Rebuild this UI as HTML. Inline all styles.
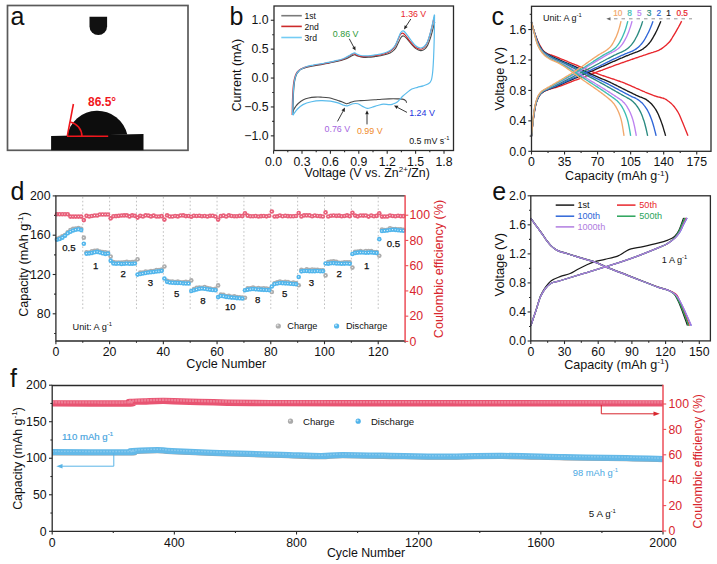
<!DOCTYPE html>
<html><head><meta charset="utf-8"><style>
html,body{margin:0;padding:0;background:#fff;width:717px;height:564px;overflow:hidden}
svg{display:block}
text{font-family:"Liberation Sans",sans-serif}
</style></head><body>
<svg fill="#111" width="717" height="564" viewBox="0 0 717 564">
<rect x="7.5" y="5.5" width="180.5" height="144.8" fill="#fff" stroke="#5a5a5a" stroke-width="1.7"/>
<text x="10.5" y="24.6" font-size="25">a</text>
<path d="M89.5,16.7 H107.1 V26.3 A8.8,8.8 0 0 1 89.5,26.3 Z" fill="#111"/>
<path d="M51.1,136.1 L143.5,134.1 L143.5,150.2 L51.1,150.2 Z" fill="#0d0d0d"/>
<path d="M67.1,136.2 A30.7,30.7 0 0 1 127.3,134.6 Z" fill="#0d0d0d"/>
<line x1="67.3" y1="136.2" x2="73.4" y2="104" stroke="#f0161c" stroke-width="1.6"/>
<line x1="67" y1="136.3" x2="108.2" y2="136.3" stroke="#f0161c" stroke-width="1.6"/>
<path d="M81.9,136.3 A14.6,14.6 0 0 0 70.2,122.0" fill="none" stroke="#f0161c" stroke-width="1.6"/>
<text x="88" y="106.1" font-size="12" fill="#f0161c" font-weight="bold">86.5°</text>
<text x="229.5" y="24.8" font-size="25">b</text>
<line x1="273.6" y1="150.5" x2="273.6" y2="153.7" stroke="#2a2a2a" stroke-width="1.1"/>
<line x1="302" y1="150.5" x2="302" y2="153.7" stroke="#2a2a2a" stroke-width="1.1"/>
<line x1="330.4" y1="150.5" x2="330.4" y2="153.7" stroke="#2a2a2a" stroke-width="1.1"/>
<line x1="358.8" y1="150.5" x2="358.8" y2="153.7" stroke="#2a2a2a" stroke-width="1.1"/>
<line x1="387.2" y1="150.5" x2="387.2" y2="153.7" stroke="#2a2a2a" stroke-width="1.1"/>
<line x1="415.61" y1="150.5" x2="415.61" y2="153.7" stroke="#2a2a2a" stroke-width="1.1"/>
<line x1="444.01" y1="150.5" x2="444.01" y2="153.7" stroke="#2a2a2a" stroke-width="1.1"/>
<line x1="287.8" y1="150.5" x2="287.8" y2="152.3" stroke="#2a2a2a" stroke-width="1.1"/>
<line x1="316.2" y1="150.5" x2="316.2" y2="152.3" stroke="#2a2a2a" stroke-width="1.1"/>
<line x1="344.6" y1="150.5" x2="344.6" y2="152.3" stroke="#2a2a2a" stroke-width="1.1"/>
<line x1="373" y1="150.5" x2="373" y2="152.3" stroke="#2a2a2a" stroke-width="1.1"/>
<line x1="401.4" y1="150.5" x2="401.4" y2="152.3" stroke="#2a2a2a" stroke-width="1.1"/>
<line x1="429.81" y1="150.5" x2="429.81" y2="152.3" stroke="#2a2a2a" stroke-width="1.1"/>
<line x1="274" y1="135.85" x2="270.8" y2="135.85" stroke="#2a2a2a" stroke-width="1.1"/>
<line x1="274" y1="106.95" x2="270.8" y2="106.95" stroke="#2a2a2a" stroke-width="1.1"/>
<line x1="274" y1="78.05" x2="270.8" y2="78.05" stroke="#2a2a2a" stroke-width="1.1"/>
<line x1="274" y1="49.15" x2="270.8" y2="49.15" stroke="#2a2a2a" stroke-width="1.1"/>
<line x1="274" y1="20.25" x2="270.8" y2="20.25" stroke="#2a2a2a" stroke-width="1.1"/>
<line x1="274" y1="121.4" x2="272.2" y2="121.4" stroke="#2a2a2a" stroke-width="1.1"/>
<line x1="274" y1="92.5" x2="272.2" y2="92.5" stroke="#2a2a2a" stroke-width="1.1"/>
<line x1="274" y1="63.6" x2="272.2" y2="63.6" stroke="#2a2a2a" stroke-width="1.1"/>
<line x1="274" y1="34.7" x2="272.2" y2="34.7" stroke="#2a2a2a" stroke-width="1.1"/>
<text x="273.6" y="165.8" font-size="12.3" text-anchor="middle">0.0</text>
<text x="302" y="165.8" font-size="12.3" text-anchor="middle">0.3</text>
<text x="330.4" y="165.8" font-size="12.3" text-anchor="middle">0.6</text>
<text x="358.8" y="165.8" font-size="12.3" text-anchor="middle">0.9</text>
<text x="387.2" y="165.8" font-size="12.3" text-anchor="middle">1.2</text>
<text x="415.61" y="165.8" font-size="12.3" text-anchor="middle">1.5</text>
<text x="444.01" y="165.8" font-size="12.3" text-anchor="middle">1.8</text>
<text x="268.5" y="140.05" font-size="12.3" text-anchor="end">−1.0</text>
<text x="268.5" y="111.15" font-size="12.3" text-anchor="end">−0.5</text>
<text x="268.5" y="82.25" font-size="12.3" text-anchor="end">0.0</text>
<text x="268.5" y="53.35" font-size="12.3" text-anchor="end">0.5</text>
<text x="268.5" y="24.45" font-size="12.3" text-anchor="end">1.0</text>
<g transform="translate(240.8 75.2) rotate(-90) scale(1.05 1)"><text x="0" y="0" font-size="12" text-anchor="middle" fill="#111">Current (mA)</text></g>
<g transform="translate(367.2 177.1) scale(1.03 1)"><text x="0" y="0" font-size="12" text-anchor="middle" fill="#111">Voltage (V vs. Zn<tspan font-size="7.8" dy="-5">2+</tspan><tspan dy="5">/Zn)</tspan></text></g>
<path d="M406.61,102.73 C406.45,102.37 406.37,101.19 405.66,100.59 C404.95,99.99 403.76,99.44 402.35,99.15 C400.95,98.86 399.45,98.91 397.24,98.86 C395.03,98.81 391.7,98.8 389.1,98.86 C386.49,98.92 383.99,99.05 381.62,99.2 C379.25,99.36 377.18,99.6 374.9,99.78 C372.61,99.97 370.26,100.17 367.89,100.3 C365.52,100.44 362.98,100.45 360.7,100.59 C358.41,100.74 356.06,100.78 354.16,101.17 C352.27,101.56 350.63,102.48 349.34,102.9 C348.04,103.33 347.66,103.91 346.4,103.71 C345.14,103.52 343.06,102.25 341.76,101.75 C340.47,101.25 340.8,101.36 338.64,100.71 C336.48,100.05 331.74,98.41 328.79,97.82 C325.84,97.22 323.19,97.24 320.94,97.12 C318.68,97.01 317.31,96.98 315.25,97.12 C313.2,97.27 310.6,97.56 308.63,97.99 C306.66,98.42 305.16,98.81 303.42,99.72 C301.69,100.64 299.52,102.33 298.21,103.48 C296.9,104.64 296.38,105.48 295.56,106.66 C294.74,107.84 293.75,109.55 293.29,110.56 C292.83,111.57 292.9,112.37 292.82,112.73" fill="none" stroke="#4a4a4a" stroke-width="1.1"/>
<path d="M292.88,115.04 C292.92,113.21 293.02,107.34 293.1,104.06 C293.19,100.78 293.26,98.09 293.39,95.39 C293.51,92.69 293.67,90.13 293.86,87.88 C294.05,85.62 294.22,83.7 294.52,81.86 C294.82,80.03 295.25,78.28 295.66,76.89 C296.07,75.51 296.43,74.52 296.98,73.54 C297.54,72.56 298.28,71.7 298.97,71 C299.67,70.3 299.81,69.94 301.15,69.32 C302.49,68.71 304.94,67.88 307.02,67.3 C309.1,66.72 311.14,66.34 313.65,65.85 C316.15,65.37 319.55,64.84 322.07,64.41 C324.6,63.98 326.57,63.71 328.79,63.25 C331.02,62.8 333.37,62.15 335.42,61.69 C337.47,61.24 339.41,60.97 341.1,60.53 C342.79,60.08 344.13,59.61 345.55,59.03 C346.97,58.45 348.47,57.63 349.62,57.05 C350.77,56.47 351.59,55.93 352.46,55.55 C353.33,55.18 353.96,54.73 354.83,54.81 C355.69,54.89 356.64,55.68 357.67,56.05 C358.69,56.42 359.92,56.82 360.98,57.05 C362.04,57.27 362.75,57.35 364.01,57.39 C365.27,57.43 366.69,57.43 368.55,57.29 C370.42,57.15 373.16,56.8 375.18,56.55 C377.2,56.3 378.62,56.22 380.67,55.8 C382.72,55.39 385.56,54.77 387.49,54.06 C389.41,53.36 390.83,52.61 392.22,51.58 C393.61,50.54 394.71,49.51 395.82,47.85 C396.92,46.19 397.95,43.42 398.85,41.64 C399.75,39.85 400.43,38.12 401.22,37.16 C402,36.21 402.71,35.75 403.58,35.92 C404.45,36.09 405.16,36.83 406.42,38.16 C407.68,39.48 409.58,42.13 411.16,43.87 C412.73,45.61 414.31,47.48 415.89,48.6 C417.47,49.71 419.2,50.46 420.62,50.58 C422.04,50.71 423.23,50.25 424.41,49.34 C425.59,48.43 426.7,47.06 427.72,45.12 C428.75,43.17 429.7,40.31 430.56,37.66 C431.43,35.01 432.3,31.61 432.93,29.21 C433.56,26.81 434.03,24.49 434.35,23.24 C434.67,22 434.74,22 434.82,21.75" fill="none" stroke="#4a4a4a" stroke-width="1.1"/>
<path d="M292.13,115.04 C292.16,113.21 292.26,107.34 292.34,104.06 C292.43,100.78 292.5,98.09 292.63,95.39 C292.75,92.69 292.91,90.13 293.1,87.88 C293.29,85.62 293.46,83.7 293.76,81.86 C294.06,80.03 294.49,78.28 294.9,76.89 C295.31,75.51 295.67,74.52 296.23,73.54 C296.78,72.56 297.52,71.7 298.21,71 C298.91,70.3 299.05,70.01 300.39,69.32 C301.73,68.64 304.18,67.54 306.26,66.89 C308.34,66.25 310.38,65.93 312.89,65.45 C315.4,64.97 318.79,64.44 321.31,64 C323.84,63.57 325.81,63.3 328.04,62.85 C330.26,62.4 332.61,61.76 334.66,61.29 C336.71,60.82 338.65,60.51 340.34,60.03 C342.03,59.55 343.37,59.03 344.79,58.4 C346.21,57.76 347.71,56.86 348.86,56.22 C350.01,55.59 350.83,55 351.7,54.59 C352.57,54.19 353.2,53.69 354.07,53.78 C354.94,53.87 355.88,54.73 356.91,55.14 C357.94,55.55 359.17,55.98 360.22,56.22 C361.28,56.47 361.99,56.56 363.25,56.61 C364.51,56.65 365.93,56.65 367.8,56.5 C369.66,56.34 372.4,55.95 374.42,55.68 C376.44,55.41 377.86,55.32 379.91,54.87 C381.97,54.41 384.81,53.73 386.73,52.96 C388.66,52.2 390.08,51.38 391.46,50.25 C392.85,49.12 393.96,47.98 395.06,46.17 C396.17,44.36 397.19,41.33 398.09,39.38 C398.99,37.43 399.67,35.53 400.46,34.49 C401.25,33.45 401.96,32.95 402.82,33.13 C403.69,33.31 404.4,34.13 405.66,35.58 C406.93,37.03 408.82,39.93 410.4,41.83 C411.98,43.73 413.55,45.77 415.13,46.99 C416.71,48.21 418.45,49.03 419.87,49.16 C421.29,49.3 422.47,48.8 423.65,47.8 C424.84,46.81 425.94,45.31 426.97,43.19 C427.99,41.06 428.94,37.93 429.81,35.04 C430.67,32.14 431.54,28.42 432.17,25.8 C432.8,23.17 433.28,20.64 433.59,19.28 C433.91,17.92 433.99,17.92 434.07,17.65" fill="none" stroke="#d0262c" stroke-width="1.1"/>
<path d="M292.6,115.04 C292.64,113.21 292.73,107.34 292.82,104.06 C292.9,100.78 292.98,98.09 293.1,95.39 C293.23,92.69 293.39,90.13 293.58,87.88 C293.76,85.62 293.94,83.7 294.24,81.86 C294.54,80.03 294.96,78.28 295.37,76.89 C295.78,75.51 296.15,74.52 296.7,73.54 C297.25,72.56 297.99,71.7 298.69,71 C299.38,70.3 299.52,70.07 300.86,69.32 C302.21,68.57 304.65,67.2 306.73,66.49 C308.82,65.78 310.85,65.53 313.36,65.05 C315.87,64.56 319.26,64.03 321.79,63.6 C324.31,63.17 326.28,62.9 328.51,62.44 C330.73,61.99 333.08,61.37 335.14,60.88 C337.19,60.4 339.13,60.06 340.82,59.55 C342.5,59.04 343.85,58.49 345.27,57.82 C346.69,57.15 348.18,56.18 349.34,55.51 C350.49,54.83 351.31,54.21 352.18,53.77 C353.04,53.34 353.68,52.81 354.54,52.91 C355.41,53 356.36,53.92 357.38,54.35 C358.41,54.79 359.64,55.25 360.7,55.51 C361.75,55.77 362.46,55.86 363.73,55.91 C364.99,55.96 366.41,55.96 368.27,55.8 C370.13,55.63 372.88,55.22 374.9,54.93 C376.92,54.64 378.34,54.54 380.39,54.06 C382.44,53.58 385.28,52.86 387.2,52.04 C389.13,51.22 390.55,50.35 391.94,49.15 C393.33,47.95 394.43,46.74 395.53,44.82 C396.64,42.89 397.67,39.66 398.56,37.59 C399.46,35.52 400.14,33.5 400.93,32.39 C401.72,31.28 402.43,30.75 403.3,30.94 C404.17,31.14 404.88,32 406.14,33.54 C407.4,35.09 409.29,38.17 410.87,40.19 C412.45,42.21 414.03,44.38 415.61,45.68 C417.18,46.98 418.92,47.85 420.34,47.99 C421.76,48.14 422.94,47.61 424.13,46.55 C425.31,45.49 426.41,43.9 427.44,41.64 C428.46,39.37 429.41,36.05 430.28,32.97 C431.15,29.88 432.01,25.93 432.65,23.14 C433.28,20.35 433.75,17.65 434.07,16.2 C434.38,14.76 434.46,14.76 434.54,14.47" fill="none" stroke="#5bbcec" stroke-width="1.2"/>
<path d="M434.54,15.05 C434.49,18.8 434.41,30.46 434.25,37.59 C434.1,44.72 433.86,52.04 433.59,57.82 C433.32,63.6 433.04,68.51 432.65,72.27 C432.25,76.03 431.94,78.44 431.23,80.36 C430.52,82.29 429.73,82.91 428.39,83.83 C427.04,84.75 424.99,85.27 423.18,85.85 C421.36,86.43 419.39,86.77 417.5,87.3 C415.61,87.83 413.55,88.16 411.82,89.03 C410.08,89.9 408.66,91.25 407.08,92.5 C405.51,93.75 403.93,95 402.35,96.55 C400.77,98.09 399.2,100.5 397.62,101.75 C396.04,103 394.3,103.58 392.88,104.06 C391.46,104.54 390.68,104.64 389.1,104.64 C387.52,104.64 385.31,103.92 383.42,104.06 C381.52,104.2 379.63,104.98 377.74,105.5 C375.84,106.03 373.79,106.76 372.06,107.24 C370.32,107.72 368.9,108.54 367.32,108.39 C365.75,108.25 364.17,107.14 362.59,106.37 C361.01,105.6 359.43,104.2 357.86,103.77 C356.28,103.34 354.86,103.43 353.12,103.77 C351.39,104.11 349.02,105.55 347.44,105.79 C345.86,106.03 345.23,105.7 343.66,105.22 C342.08,104.73 340.18,103.58 337.98,102.9 C335.77,102.23 333.24,101.56 330.4,101.17 C327.56,100.78 324.09,100.5 320.94,100.59 C317.78,100.69 314.47,101.07 311.47,101.75 C308.47,102.42 305.31,103.39 302.95,104.64 C300.58,105.89 298.96,107.47 297.27,109.26 C295.58,111.05 293.56,114.37 292.82,115.39" fill="none" stroke="#5bbcec" stroke-width="1.2"/>
<rect x="274" y="6" width="179.5" height="144.5" fill="none" stroke="#2a2a2a" stroke-width="1.3"/>
<line x1="281.3" y1="15.7" x2="301.8" y2="15.7" stroke="#7a7a7a" stroke-width="1.6"/>
<line x1="281.3" y1="26.4" x2="301.8" y2="26.4" stroke="#cc2a2a" stroke-width="1.6"/>
<line x1="281.3" y1="37.5" x2="301.8" y2="37.5" stroke="#74ccf4" stroke-width="1.6"/>
<text x="304.5" y="18.9" font-size="8.6">1st</text>
<text x="304.5" y="29.9" font-size="8.6">2nd</text>
<text x="304.5" y="40.9" font-size="8.6">3rd</text>
<text x="400.8" y="16.5" font-size="8.8" fill="#e8262c">1.36 V</text>
<line x1="410.8" y1="19" x2="406.17" y2="26.14" stroke="#222" stroke-width="0.9"/>
<path d="M404,29.5 L404.66,25.16 L407.69,27.12 Z" fill="#222"/>
<text x="332.8" y="37.2" font-size="8.9" fill="#2f9a3a">0.86 V</text>
<line x1="349.3" y1="38.8" x2="353.72" y2="47.07" stroke="#222" stroke-width="0.9"/>
<path d="M355.6,50.6 L352.13,47.92 L355.3,46.22 Z" fill="#222"/>
<text x="324.5" y="131.8" font-size="8.9" fill="#a566e0">0.76 V</text>
<line x1="337.5" y1="121.4" x2="343.09" y2="111.11" stroke="#222" stroke-width="0.9"/>
<path d="M345,107.6 L344.67,111.97 L341.51,110.25 Z" fill="#222"/>
<text x="356.9" y="134.2" font-size="8.9" fill="#f08a2a">0.99 V</text>
<line x1="367" y1="124.4" x2="367" y2="114.2" stroke="#222" stroke-width="0.9"/>
<path d="M367,110.2 L368.8,114.2 L365.2,114.2 Z" fill="#222"/>
<text x="409.2" y="116" font-size="8.9" fill="#2233dd">1.24 V</text>
<line x1="407" y1="112.4" x2="397.54" y2="107.45" stroke="#222" stroke-width="0.9"/>
<path d="M394,105.6 L398.38,105.86 L396.71,109.05 Z" fill="#222"/>
<text x="409.2" y="143.9" font-size="8.9" fill="#111">0.5 mV s<tspan font-size="5.8" dy="-3.6">-1</tspan></text>
<text x="491.5" y="25.3" font-size="25">c</text>
<line x1="531.5" y1="151.3" x2="531.5" y2="154.5" stroke="#2a2a2a" stroke-width="1.1"/>
<line x1="564.55" y1="151.3" x2="564.55" y2="154.5" stroke="#2a2a2a" stroke-width="1.1"/>
<line x1="597.6" y1="151.3" x2="597.6" y2="154.5" stroke="#2a2a2a" stroke-width="1.1"/>
<line x1="630.65" y1="151.3" x2="630.65" y2="154.5" stroke="#2a2a2a" stroke-width="1.1"/>
<line x1="663.7" y1="151.3" x2="663.7" y2="154.5" stroke="#2a2a2a" stroke-width="1.1"/>
<line x1="696.75" y1="151.3" x2="696.75" y2="154.5" stroke="#2a2a2a" stroke-width="1.1"/>
<line x1="548.03" y1="151.3" x2="548.03" y2="153.1" stroke="#2a2a2a" stroke-width="1.1"/>
<line x1="581.08" y1="151.3" x2="581.08" y2="153.1" stroke="#2a2a2a" stroke-width="1.1"/>
<line x1="614.13" y1="151.3" x2="614.13" y2="153.1" stroke="#2a2a2a" stroke-width="1.1"/>
<line x1="647.18" y1="151.3" x2="647.18" y2="153.1" stroke="#2a2a2a" stroke-width="1.1"/>
<line x1="680.23" y1="151.3" x2="680.23" y2="153.1" stroke="#2a2a2a" stroke-width="1.1"/>
<line x1="531.5" y1="151.3" x2="528.3" y2="151.3" stroke="#2a2a2a" stroke-width="1.1"/>
<line x1="531.5" y1="120.86" x2="528.3" y2="120.86" stroke="#2a2a2a" stroke-width="1.1"/>
<line x1="531.5" y1="90.42" x2="528.3" y2="90.42" stroke="#2a2a2a" stroke-width="1.1"/>
<line x1="531.5" y1="59.98" x2="528.3" y2="59.98" stroke="#2a2a2a" stroke-width="1.1"/>
<line x1="531.5" y1="29.54" x2="528.3" y2="29.54" stroke="#2a2a2a" stroke-width="1.1"/>
<line x1="531.5" y1="136.08" x2="529.7" y2="136.08" stroke="#2a2a2a" stroke-width="1.1"/>
<line x1="531.5" y1="105.64" x2="529.7" y2="105.64" stroke="#2a2a2a" stroke-width="1.1"/>
<line x1="531.5" y1="75.2" x2="529.7" y2="75.2" stroke="#2a2a2a" stroke-width="1.1"/>
<line x1="531.5" y1="44.76" x2="529.7" y2="44.76" stroke="#2a2a2a" stroke-width="1.1"/>
<line x1="531.5" y1="14.32" x2="529.7" y2="14.32" stroke="#2a2a2a" stroke-width="1.1"/>
<text x="531.5" y="166" font-size="12.3" text-anchor="middle">0</text>
<text x="564.55" y="166" font-size="12.3" text-anchor="middle">35</text>
<text x="597.6" y="166" font-size="12.3" text-anchor="middle">70</text>
<text x="630.65" y="166" font-size="12.3" text-anchor="middle">105</text>
<text x="663.7" y="166" font-size="12.3" text-anchor="middle">140</text>
<text x="696.75" y="166" font-size="12.3" text-anchor="middle">175</text>
<text x="526.3" y="155.5" font-size="12.3" text-anchor="end">0.0</text>
<text x="526.3" y="125.06" font-size="12.3" text-anchor="end">0.4</text>
<text x="526.3" y="94.62" font-size="12.3" text-anchor="end">0.8</text>
<text x="526.3" y="64.18" font-size="12.3" text-anchor="end">1.2</text>
<text x="526.3" y="33.74" font-size="12.3" text-anchor="end">1.6</text>
<g transform="translate(504 78.8) rotate(-90) scale(1.07 1)"><text x="0" y="0" font-size="12" text-anchor="middle" fill="#111">Voltage (V)</text></g>
<g transform="translate(617 180.3) scale(1.04 1)"><text x="0" y="0" font-size="12" text-anchor="middle" fill="#111">Capacity (mAh g<tspan font-size="8" dy="-4.8">-1</tspan><tspan dy="4.8">)</tspan></text></g>
<path d="M531.5,136.08 C531.71,134.01 532.33,127.22 532.75,123.65 C533.17,120.08 533.59,117.39 534,114.67 C534.42,111.95 534.84,109.46 535.25,107.33 C535.67,105.2 536.09,103.35 536.5,101.9 C536.92,100.45 537.34,99.57 537.76,98.63 C538.17,97.69 538.59,96.95 539.01,96.26 C539.42,95.58 539.84,95.03 540.26,94.52 C540.68,94 541.09,93.58 541.51,93.19 C541.93,92.8 542.34,92.45 542.76,92.15 C543.18,91.85 543.59,91.61 544.01,91.38 C544.43,91.15 544.85,90.96 545.26,90.78 C545.68,90.6 546.1,90.44 546.51,90.29 C546.93,90.13 547.35,89.99 547.77,89.85 C548.18,89.71 548.6,89.58 549.02,89.44 C549.43,89.31 549.85,89.17 550.27,89.03 C550.69,88.9 551.1,88.78 551.52,88.66 C551.94,88.54 552.35,88.42 552.77,88.31 C553.19,88.19 553.6,88.08 554.02,87.96 C554.44,87.85 554.86,87.74 555.27,87.62 C555.69,87.5 556.11,87.39 556.52,87.26 C556.94,87.14 557.36,87.01 557.78,86.87 C558.19,86.74 558.61,86.6 559.03,86.46 C559.44,86.31 559.86,86.17 560.28,86.02 C560.69,85.88 561.11,85.73 561.53,85.58 C561.95,85.43 562.36,85.27 562.78,85.12 C563.2,84.96 563.61,84.81 564.03,84.65 C564.45,84.49 564.87,84.33 565.28,84.17 C565.7,84.01 566.12,83.85 566.53,83.68 C566.95,83.52 567.37,83.36 567.78,83.19 C568.2,83.03 568.62,82.86 569.04,82.7 C569.45,82.53 569.87,82.37 570.29,82.2 C570.7,82.04 571.12,81.87 571.54,81.71 C571.96,81.54 572.37,81.38 572.79,81.21 C573.21,81.05 573.62,80.89 574.04,80.72 C574.46,80.56 574.87,80.4 575.29,80.24 C575.71,80.08 576.13,79.92 576.54,79.77 C576.96,79.61 577.38,79.45 577.79,79.29 C578.21,79.13 578.63,78.97 579.05,78.81 C579.46,78.66 579.88,78.5 580.3,78.34 C580.71,78.18 581.13,78.02 581.55,77.86 C581.96,77.7 582.38,77.54 582.8,77.38 C583.22,77.22 583.63,77.06 584.05,76.9 C584.47,76.75 584.88,76.59 585.3,76.43 C585.72,76.27 586.14,76.11 586.55,75.95 C586.97,75.79 587.39,75.63 587.8,75.47 C588.22,75.31 588.64,75.16 589.06,75 C589.47,74.84 589.89,74.68 590.31,74.52 C590.72,74.36 591.14,74.21 591.56,74.05 C591.97,73.89 592.39,73.73 592.81,73.58 C593.23,73.42 593.64,73.26 594.06,73.1 C594.48,72.95 594.89,72.79 595.31,72.64 C595.73,72.48 596.15,72.32 596.56,72.17 C596.98,72.01 597.4,71.85 597.81,71.7 C598.23,71.54 598.65,71.38 599.06,71.23 C599.48,71.07 599.9,70.91 600.32,70.76 C600.73,70.6 601.15,70.45 601.57,70.29 C601.98,70.13 602.4,69.98 602.82,69.82 C603.24,69.67 603.65,69.51 604.07,69.35 C604.49,69.2 604.9,69.04 605.32,68.89 C605.74,68.73 606.15,68.58 606.57,68.42 C606.99,68.27 607.41,68.11 607.82,67.96 C608.24,67.8 608.66,67.65 609.07,67.49 C609.49,67.34 609.91,67.18 610.33,67.03 C610.74,66.87 611.16,66.72 611.58,66.57 C611.99,66.41 612.41,66.26 612.83,66.11 C613.24,65.95 613.66,65.8 614.08,65.65 C614.5,65.49 614.91,65.34 615.33,65.19 C615.75,65.04 616.16,64.89 616.58,64.73 C617,64.58 617.42,64.43 617.83,64.28 C618.25,64.13 618.67,63.98 619.08,63.83 C619.5,63.68 619.92,63.53 620.34,63.38 C620.75,63.23 621.17,63.08 621.59,62.93 C622,62.78 622.42,62.64 622.84,62.49 C623.25,62.34 623.67,62.19 624.09,62.05 C624.51,61.9 624.92,61.75 625.34,61.61 C625.76,61.46 626.17,61.32 626.59,61.17 C627.01,61.03 627.43,60.88 627.84,60.74 C628.26,60.59 628.68,60.45 629.09,60.3 C629.51,60.16 629.93,60.02 630.34,59.87 C630.76,59.73 631.18,59.59 631.6,59.44 C632.01,59.3 632.43,59.16 632.85,59.01 C633.26,58.87 633.68,58.73 634.1,58.59 C634.52,58.45 634.93,58.3 635.35,58.16 C635.77,58.02 636.18,57.88 636.6,57.74 C637.02,57.6 637.43,57.45 637.85,57.31 C638.27,57.17 638.69,57.03 639.1,56.89 C639.52,56.75 639.94,56.61 640.35,56.47 C640.77,56.32 641.19,56.18 641.61,56.04 C642.02,55.9 642.44,55.76 642.86,55.62 C643.27,55.48 643.69,55.34 644.11,55.2 C644.52,55.05 644.94,54.91 645.36,54.77 C645.78,54.63 646.19,54.49 646.61,54.35 C647.03,54.21 647.44,54.06 647.86,53.92 C648.28,53.78 648.7,53.64 649.11,53.5 C649.53,53.36 649.95,53.21 650.36,53.08 C650.78,52.94 651.2,52.82 651.61,52.69 C652.03,52.56 652.45,52.44 652.87,52.32 C653.28,52.19 653.7,52.07 654.12,51.94 C654.53,51.81 654.95,51.68 655.37,51.55 C655.79,51.41 656.2,51.27 656.62,51.12 C657.04,50.97 657.45,50.81 657.87,50.64 C658.29,50.46 658.71,50.29 659.12,50.09 C659.54,49.88 659.96,49.66 660.37,49.42 C660.79,49.17 661.21,48.89 661.62,48.6 C662.04,48.32 662.46,48 662.88,47.69 C663.29,47.37 663.71,47.04 664.13,46.7 C664.54,46.37 664.96,46.03 665.38,45.68 C665.8,45.34 666.21,45.01 666.63,44.65 C667.05,44.3 667.46,43.94 667.88,43.55 C668.3,43.15 668.71,42.75 669.13,42.28 C669.55,41.81 669.97,41.32 670.38,40.74 C670.8,40.15 671.22,39.46 671.63,38.79 C672.05,38.12 672.47,37.4 672.89,36.71 C673.3,36.03 673.72,35.36 674.14,34.67 C674.55,33.99 674.97,33.29 675.39,32.58 C675.8,31.87 676.22,31.15 676.64,30.42 C677.06,29.69 677.47,28.95 677.89,28.2 C678.31,27.45 678.72,26.69 679.14,25.92 C679.56,25.15 679.98,24.37 680.39,23.57 C680.81,22.78 681.44,21.57 681.64,21.17" fill="none" stroke="#e8262c" stroke-width="1.35"/>
<path d="M531.5,22.31 C531.72,23.08 532.37,25.43 532.8,26.9 C533.24,28.37 533.67,29.79 534.11,31.13 C534.54,32.48 534.98,33.77 535.41,34.98 C535.85,36.19 536.28,37.33 536.72,38.42 C537.15,39.5 537.58,40.5 538.02,41.47 C538.45,42.43 538.89,43.34 539.32,44.2 C539.76,45.05 540.19,45.84 540.63,46.6 C541.06,47.36 541.5,48.09 541.93,48.75 C542.37,49.41 542.8,50.06 543.24,50.57 C543.67,51.09 544.1,51.45 544.54,51.82 C544.97,52.18 545.41,52.49 545.84,52.77 C546.28,53.05 546.71,53.29 547.15,53.51 C547.58,53.73 548.02,53.92 548.45,54.1 C548.89,54.27 549.32,54.42 549.75,54.58 C550.19,54.73 550.62,54.87 551.06,55.01 C551.49,55.16 551.93,55.3 552.36,55.45 C552.8,55.6 553.23,55.77 553.67,55.94 C554.1,56.11 554.54,56.28 554.97,56.45 C555.41,56.62 555.84,56.79 556.27,56.96 C556.71,57.13 557.14,57.31 557.58,57.48 C558.01,57.65 558.45,57.83 558.88,58 C559.32,58.18 559.75,58.36 560.19,58.53 C560.62,58.71 561.06,58.89 561.49,59.06 C561.92,59.24 562.36,59.42 562.79,59.6 C563.23,59.78 563.66,59.96 564.1,60.13 C564.53,60.31 564.97,60.49 565.4,60.67 C565.84,60.85 566.27,61.03 566.71,61.21 C567.14,61.39 567.58,61.57 568.01,61.75 C568.44,61.93 568.88,62.11 569.31,62.29 C569.75,62.47 570.18,62.65 570.62,62.83 C571.05,63.01 571.49,63.19 571.92,63.37 C572.36,63.54 572.79,63.72 573.23,63.9 C573.66,64.08 574.09,64.26 574.53,64.43 C574.96,64.61 575.4,64.78 575.83,64.96 C576.27,65.14 576.7,65.31 577.14,65.49 C577.57,65.66 578.01,65.84 578.44,66.02 C578.88,66.2 579.31,66.37 579.75,66.55 C580.18,66.73 580.61,66.91 581.05,67.08 C581.48,67.26 581.92,67.44 582.35,67.62 C582.79,67.8 583.22,67.98 583.66,68.15 C584.09,68.33 584.53,68.51 584.96,68.69 C585.4,68.87 585.83,69.04 586.26,69.22 C586.7,69.4 587.13,69.58 587.57,69.75 C588,69.93 588.44,70.11 588.87,70.28 C589.31,70.46 589.74,70.63 590.18,70.81 C590.61,70.98 591.05,71.16 591.48,71.33 C591.92,71.5 592.35,71.68 592.78,71.85 C593.22,72.02 593.65,72.19 594.09,72.36 C594.52,72.53 594.96,72.7 595.39,72.87 C595.83,73.04 596.26,73.2 596.7,73.37 C597.13,73.53 597.57,73.7 598,73.86 C598.43,74.02 598.87,74.19 599.3,74.35 C599.74,74.51 600.17,74.66 600.61,74.82 C601.04,74.98 601.48,75.13 601.91,75.28 C602.35,75.44 602.78,75.59 603.22,75.74 C603.65,75.89 604.08,76.04 604.52,76.18 C604.95,76.33 605.39,76.48 605.82,76.62 C606.26,76.77 606.69,76.91 607.13,77.06 C607.56,77.2 608,77.35 608.43,77.49 C608.87,77.63 609.3,77.78 609.74,77.92 C610.17,78.06 610.6,78.21 611.04,78.35 C611.47,78.5 611.91,78.64 612.34,78.78 C612.78,78.93 613.21,79.07 613.65,79.22 C614.08,79.36 614.52,79.51 614.95,79.66 C615.39,79.8 615.82,79.95 616.25,80.1 C616.69,80.25 617.12,80.4 617.56,80.55 C617.99,80.7 618.43,80.86 618.86,81.01 C619.3,81.17 619.73,81.32 620.17,81.48 C620.6,81.64 621.04,81.8 621.47,81.97 C621.91,82.13 622.34,82.29 622.77,82.46 C623.21,82.63 623.64,82.8 624.08,82.97 C624.51,83.14 624.95,83.32 625.38,83.5 C625.82,83.67 626.25,83.85 626.69,84.03 C627.12,84.21 627.56,84.39 627.99,84.58 C628.42,84.76 628.86,84.95 629.29,85.13 C629.73,85.32 630.16,85.51 630.6,85.7 C631.03,85.88 631.47,86.08 631.9,86.27 C632.34,86.46 632.77,86.65 633.21,86.84 C633.64,87.03 634.08,87.23 634.51,87.42 C634.94,87.61 635.38,87.8 635.81,88 C636.25,88.19 636.68,88.39 637.12,88.58 C637.55,88.77 637.99,88.97 638.42,89.16 C638.86,89.35 639.29,89.54 639.73,89.74 C640.16,89.93 640.59,90.12 641.03,90.31 C641.46,90.5 641.9,90.69 642.33,90.88 C642.77,91.07 643.2,91.26 643.64,91.44 C644.07,91.63 644.51,91.81 644.94,92 C645.38,92.18 645.81,92.36 646.25,92.54 C646.68,92.72 647.11,92.9 647.55,93.08 C647.98,93.25 648.42,93.43 648.85,93.6 C649.29,93.77 649.72,93.94 650.16,94.11 C650.59,94.28 651.03,94.45 651.46,94.62 C651.9,94.79 652.33,94.96 652.76,95.13 C653.2,95.29 653.63,95.46 654.07,95.62 C654.5,95.78 654.94,95.93 655.37,96.08 C655.81,96.23 656.24,96.38 656.68,96.51 C657.11,96.64 657.55,96.76 657.98,96.87 C658.41,96.99 658.85,97.08 659.28,97.19 C659.72,97.29 660.15,97.38 660.59,97.49 C661.02,97.59 661.46,97.7 661.89,97.82 C662.33,97.94 662.76,98.07 663.2,98.22 C663.63,98.38 664.07,98.54 664.5,98.75 C664.93,98.95 665.37,99.19 665.8,99.45 C666.24,99.71 666.67,100 667.11,100.3 C667.54,100.6 667.98,100.92 668.41,101.24 C668.85,101.57 669.28,101.89 669.72,102.25 C670.15,102.6 670.58,102.97 671.02,103.37 C671.45,103.76 671.89,104.18 672.32,104.62 C672.76,105.06 673.19,105.53 673.63,106.02 C674.06,106.5 674.5,107 674.93,107.55 C675.37,108.11 675.8,108.68 676.24,109.32 C676.67,109.96 677.1,110.66 677.54,111.4 C677.97,112.14 678.41,112.89 678.84,113.75 C679.28,114.6 679.71,115.56 680.15,116.54 C680.58,117.53 681.02,118.61 681.45,119.64 C681.89,120.68 682.32,121.71 682.75,122.76 C683.19,123.8 683.62,124.85 684.06,125.91 C684.49,126.97 684.93,128.05 685.36,129.14 C685.8,130.23 686.23,131.33 686.67,132.45 C687.1,133.57 687.75,135.29 687.97,135.85" fill="none" stroke="#e8262c" stroke-width="1.35"/>
<path d="M531.5,136.08 C531.68,134.24 532.22,128.28 532.58,125.02 C532.94,121.76 533.3,119.1 533.66,116.5 C534.02,113.91 534.37,111.52 534.73,109.46 C535.09,107.41 535.45,105.63 535.81,104.18 C536.17,102.74 536.53,101.78 536.89,100.77 C537.25,99.77 537.61,98.93 537.97,98.15 C538.33,97.38 538.69,96.73 539.05,96.13 C539.41,95.53 539.77,95.03 540.12,94.57 C540.48,94.12 540.84,93.73 541.2,93.38 C541.56,93.02 541.92,92.72 542.28,92.44 C542.64,92.16 543,91.92 543.36,91.68 C543.72,91.45 544.08,91.25 544.44,91.05 C544.8,90.85 545.16,90.68 545.51,90.5 C545.87,90.33 546.23,90.17 546.59,90.01 C546.95,89.85 547.31,89.69 547.67,89.55 C548.03,89.4 548.39,89.26 548.75,89.13 C549.11,89 549.47,88.87 549.83,88.75 C550.19,88.62 550.55,88.5 550.91,88.38 C551.26,88.26 551.62,88.14 551.98,88.01 C552.34,87.89 552.7,87.76 553.06,87.63 C553.42,87.5 553.78,87.36 554.14,87.22 C554.5,87.08 554.86,86.94 555.22,86.79 C555.58,86.65 555.94,86.51 556.3,86.36 C556.66,86.21 557.01,86.07 557.37,85.92 C557.73,85.77 558.09,85.62 558.45,85.47 C558.81,85.32 559.17,85.17 559.53,85.02 C559.89,84.86 560.25,84.71 560.61,84.55 C560.97,84.4 561.33,84.24 561.69,84.09 C562.05,83.93 562.4,83.77 562.76,83.61 C563.12,83.45 563.48,83.3 563.84,83.14 C564.2,82.98 564.56,82.82 564.92,82.66 C565.28,82.5 565.64,82.34 566,82.19 C566.36,82.03 566.72,81.87 567.08,81.71 C567.44,81.55 567.8,81.4 568.15,81.24 C568.51,81.08 568.87,80.93 569.23,80.77 C569.59,80.62 569.95,80.46 570.31,80.31 C570.67,80.16 571.03,80 571.39,79.85 C571.75,79.69 572.11,79.54 572.47,79.38 C572.83,79.23 573.19,79.07 573.54,78.92 C573.9,78.76 574.26,78.61 574.62,78.45 C574.98,78.3 575.34,78.14 575.7,77.99 C576.06,77.83 576.42,77.68 576.78,77.52 C577.14,77.37 577.5,77.21 577.86,77.06 C578.22,76.9 578.58,76.75 578.94,76.59 C579.29,76.44 579.65,76.28 580.01,76.13 C580.37,75.97 580.73,75.81 581.09,75.66 C581.45,75.5 581.81,75.35 582.17,75.19 C582.53,75.04 582.89,74.88 583.25,74.73 C583.61,74.57 583.97,74.42 584.33,74.26 C584.69,74.11 585.04,73.95 585.4,73.8 C585.76,73.64 586.12,73.49 586.48,73.33 C586.84,73.18 587.2,73.02 587.56,72.87 C587.92,72.71 588.28,72.56 588.64,72.4 C589,72.24 589.36,72.09 589.72,71.93 C590.08,71.78 590.43,71.62 590.79,71.47 C591.15,71.31 591.51,71.15 591.87,71 C592.23,70.84 592.59,70.68 592.95,70.53 C593.31,70.37 593.67,70.21 594.03,70.06 C594.39,69.9 594.75,69.74 595.11,69.59 C595.47,69.43 595.83,69.27 596.18,69.11 C596.54,68.96 596.9,68.8 597.26,68.64 C597.62,68.48 597.98,68.32 598.34,68.17 C598.7,68.01 599.06,67.85 599.42,67.69 C599.78,67.53 600.14,67.37 600.5,67.21 C600.86,67.05 601.22,66.89 601.57,66.73 C601.93,66.57 602.29,66.41 602.65,66.25 C603.01,66.09 603.37,65.93 603.73,65.77 C604.09,65.61 604.45,65.45 604.81,65.29 C605.17,65.13 605.53,64.98 605.89,64.82 C606.25,64.66 606.61,64.5 606.97,64.34 C607.32,64.18 607.68,64.02 608.04,63.86 C608.4,63.7 608.76,63.54 609.12,63.38 C609.48,63.22 609.84,63.06 610.2,62.9 C610.56,62.75 610.92,62.59 611.28,62.43 C611.64,62.27 612,62.11 612.36,61.96 C612.72,61.8 613.07,61.64 613.43,61.48 C613.79,61.33 614.15,61.17 614.51,61.01 C614.87,60.86 615.23,60.7 615.59,60.55 C615.95,60.39 616.31,60.23 616.67,60.08 C617.03,59.92 617.39,59.77 617.75,59.61 C618.11,59.46 618.46,59.31 618.82,59.15 C619.18,59 619.54,58.84 619.9,58.69 C620.26,58.54 620.62,58.39 620.98,58.23 C621.34,58.08 621.7,57.93 622.06,57.78 C622.42,57.62 622.78,57.47 623.14,57.32 C623.5,57.17 623.86,57.02 624.21,56.87 C624.57,56.72 624.93,56.57 625.29,56.42 C625.65,56.27 626.01,56.12 626.37,55.97 C626.73,55.82 627.09,55.68 627.45,55.53 C627.81,55.38 628.17,55.23 628.53,55.09 C628.89,54.94 629.25,54.79 629.6,54.65 C629.96,54.5 630.32,54.36 630.68,54.22 C631.04,54.07 631.4,53.93 631.76,53.79 C632.12,53.65 632.48,53.51 632.84,53.37 C633.2,53.23 633.56,53.09 633.92,52.96 C634.28,52.82 634.64,52.69 635,52.56 C635.35,52.43 635.71,52.3 636.07,52.17 C636.43,52.04 636.79,51.91 637.15,51.77 C637.51,51.64 637.87,51.5 638.23,51.36 C638.59,51.21 638.95,51.06 639.31,50.9 C639.67,50.75 640.03,50.58 640.39,50.41 C640.75,50.23 641.1,50.05 641.46,49.85 C641.82,49.65 642.18,49.43 642.54,49.2 C642.9,48.96 643.26,48.71 643.62,48.44 C643.98,48.17 644.34,47.88 644.7,47.59 C645.06,47.29 645.42,46.98 645.78,46.66 C646.14,46.34 646.49,46.01 646.85,45.67 C647.21,45.33 647.57,44.99 647.93,44.62 C648.29,44.26 648.65,43.88 649.01,43.48 C649.37,43.07 649.73,42.66 650.09,42.2 C650.45,41.73 650.81,41.25 651.17,40.7 C651.53,40.15 651.89,39.53 652.24,38.92 C652.6,38.31 652.96,37.66 653.32,37.02 C653.68,36.39 654.04,35.76 654.4,35.1 C654.76,34.44 655.12,33.77 655.48,33.08 C655.84,32.39 656.2,31.68 656.56,30.95 C656.92,30.22 657.28,29.48 657.63,28.71 C657.99,27.94 658.35,27.14 658.71,26.33 C659.07,25.51 659.43,24.67 659.79,23.81 C660.15,22.95 660.69,21.61 660.87,21.17" fill="none" stroke="#1a1a1a" stroke-width="1.35"/>
<path d="M531.5,22.18 C531.69,22.87 532.24,24.98 532.62,26.31 C532.99,27.65 533.36,28.94 533.73,30.18 C534.11,31.43 534.48,32.62 534.85,33.77 C535.22,34.92 535.6,36.01 535.97,37.07 C536.34,38.13 536.71,39.16 537.09,40.14 C537.46,41.12 537.83,42.07 538.2,42.94 C538.58,43.81 538.95,44.62 539.32,45.37 C539.69,46.12 540.07,46.8 540.44,47.44 C540.81,48.09 541.18,48.71 541.56,49.23 C541.93,49.75 542.3,50.16 542.67,50.57 C543.05,50.98 543.42,51.33 543.79,51.67 C544.16,52 544.54,52.3 544.91,52.58 C545.28,52.86 545.65,53.11 546.03,53.35 C546.4,53.59 546.77,53.81 547.14,54.02 C547.52,54.23 547.89,54.43 548.26,54.62 C548.63,54.81 549.01,54.99 549.38,55.18 C549.75,55.37 550.12,55.56 550.5,55.75 C550.87,55.94 551.24,56.12 551.61,56.31 C551.99,56.5 552.36,56.68 552.73,56.86 C553.1,57.04 553.48,57.22 553.85,57.4 C554.22,57.58 554.59,57.76 554.97,57.93 C555.34,58.11 555.71,58.28 556.08,58.45 C556.46,58.62 556.83,58.79 557.2,58.96 C557.57,59.13 557.95,59.3 558.32,59.47 C558.69,59.63 559.06,59.79 559.44,59.96 C559.81,60.12 560.18,60.28 560.55,60.44 C560.93,60.59 561.3,60.75 561.67,60.9 C562.04,61.06 562.42,61.21 562.79,61.37 C563.16,61.52 563.53,61.67 563.91,61.82 C564.28,61.98 564.65,62.13 565.02,62.28 C565.4,62.43 565.77,62.58 566.14,62.74 C566.51,62.89 566.89,63.04 567.26,63.2 C567.63,63.35 568,63.51 568.37,63.67 C568.75,63.82 569.12,63.98 569.49,64.15 C569.86,64.31 570.24,64.47 570.61,64.63 C570.98,64.79 571.35,64.96 571.73,65.12 C572.1,65.29 572.47,65.46 572.84,65.62 C573.22,65.79 573.59,65.96 573.96,66.13 C574.33,66.3 574.71,66.47 575.08,66.64 C575.45,66.81 575.82,66.98 576.2,67.15 C576.57,67.32 576.94,67.49 577.31,67.67 C577.69,67.84 578.06,68.01 578.43,68.19 C578.8,68.36 579.18,68.54 579.55,68.71 C579.92,68.88 580.29,69.06 580.67,69.23 C581.04,69.41 581.41,69.58 581.78,69.76 C582.16,69.93 582.53,70.11 582.9,70.28 C583.27,70.46 583.65,70.63 584.02,70.81 C584.39,70.98 584.76,71.16 585.14,71.33 C585.51,71.51 585.88,71.68 586.25,71.85 C586.63,72.03 587,72.2 587.37,72.37 C587.74,72.55 588.12,72.72 588.49,72.89 C588.86,73.06 589.23,73.23 589.61,73.4 C589.98,73.57 590.35,73.74 590.72,73.91 C591.1,74.08 591.47,74.25 591.84,74.41 C592.21,74.58 592.59,74.74 592.96,74.91 C593.33,75.07 593.7,75.23 594.08,75.4 C594.45,75.56 594.82,75.72 595.19,75.88 C595.57,76.05 595.94,76.21 596.31,76.37 C596.68,76.53 597.06,76.69 597.43,76.85 C597.8,77.01 598.17,77.17 598.55,77.33 C598.92,77.49 599.29,77.65 599.66,77.81 C600.04,77.97 600.41,78.13 600.78,78.29 C601.15,78.45 601.53,78.61 601.9,78.77 C602.27,78.93 602.64,79.09 603.01,79.25 C603.39,79.41 603.76,79.57 604.13,79.73 C604.5,79.89 604.88,80.06 605.25,80.22 C605.62,80.38 605.99,80.54 606.37,80.71 C606.74,80.87 607.11,81.04 607.48,81.2 C607.86,81.37 608.23,81.54 608.6,81.71 C608.97,81.87 609.35,82.04 609.72,82.22 C610.09,82.39 610.46,82.56 610.84,82.73 C611.21,82.91 611.58,83.08 611.95,83.26 C612.33,83.44 612.7,83.62 613.07,83.79 C613.44,83.97 613.82,84.15 614.19,84.34 C614.56,84.52 614.93,84.7 615.31,84.88 C615.68,85.06 616.05,85.25 616.42,85.43 C616.8,85.62 617.17,85.8 617.54,85.99 C617.91,86.17 618.29,86.36 618.66,86.55 C619.03,86.73 619.4,86.92 619.78,87.11 C620.15,87.3 620.52,87.48 620.89,87.67 C621.27,87.86 621.64,88.05 622.01,88.24 C622.38,88.42 622.76,88.61 623.13,88.8 C623.5,88.99 623.87,89.18 624.25,89.36 C624.62,89.55 624.99,89.74 625.36,89.93 C625.74,90.11 626.11,90.3 626.48,90.49 C626.85,90.67 627.23,90.86 627.6,91.04 C627.97,91.23 628.34,91.41 628.72,91.6 C629.09,91.78 629.46,91.96 629.83,92.15 C630.21,92.33 630.58,92.51 630.95,92.69 C631.32,92.87 631.7,93.05 632.07,93.23 C632.44,93.41 632.81,93.58 633.19,93.76 C633.56,93.94 633.93,94.12 634.3,94.3 C634.68,94.48 635.05,94.65 635.42,94.83 C635.79,95.01 636.17,95.18 636.54,95.36 C636.91,95.53 637.28,95.7 637.66,95.87 C638.03,96.03 638.4,96.2 638.77,96.36 C639.14,96.52 639.52,96.67 639.89,96.81 C640.26,96.96 640.63,97.09 641.01,97.23 C641.38,97.37 641.75,97.51 642.12,97.65 C642.5,97.79 642.87,97.93 643.24,98.09 C643.61,98.24 643.99,98.4 644.36,98.57 C644.73,98.75 645.1,98.93 645.48,99.14 C645.85,99.36 646.22,99.59 646.59,99.84 C646.97,100.09 647.34,100.36 647.71,100.65 C648.08,100.93 648.46,101.23 648.83,101.54 C649.2,101.84 649.57,102.16 649.95,102.49 C650.32,102.83 650.69,103.19 651.06,103.56 C651.44,103.94 651.81,104.34 652.18,104.76 C652.55,105.18 652.93,105.63 653.3,106.09 C653.67,106.56 654.04,107.04 654.42,107.56 C654.79,108.08 655.16,108.62 655.53,109.21 C655.91,109.8 656.28,110.43 656.65,111.1 C657.02,111.77 657.4,112.46 657.77,113.23 C658.14,114 658.51,114.85 658.89,115.73 C659.26,116.61 659.63,117.57 660,118.51 C660.38,119.46 660.75,120.41 661.12,121.42 C661.49,122.43 661.87,123.46 662.24,124.57 C662.61,125.68 662.98,126.87 663.36,128.08 C663.73,129.3 664.1,130.58 664.47,131.87 C664.85,133.17 665.4,135.19 665.59,135.85" fill="none" stroke="#1a1a1a" stroke-width="1.35"/>
<path d="M531.5,136.08 C531.67,134.33 532.18,128.74 532.51,125.61 C532.85,122.48 533.19,119.83 533.53,117.29 C533.86,114.75 534.2,112.4 534.54,110.38 C534.88,108.36 535.21,106.61 535.55,105.16 C535.89,103.71 536.23,102.72 536.56,101.69 C536.9,100.66 537.24,99.77 537.58,98.96 C537.91,98.15 538.25,97.45 538.59,96.82 C538.93,96.19 539.26,95.65 539.6,95.17 C539.94,94.68 540.28,94.28 540.61,93.9 C540.95,93.53 541.29,93.2 541.63,92.9 C541.97,92.59 542.3,92.32 542.64,92.07 C542.98,91.82 543.32,91.59 543.65,91.38 C543.99,91.16 544.33,90.97 544.67,90.78 C545,90.59 545.34,90.42 545.68,90.25 C546.02,90.08 546.35,89.92 546.69,89.77 C547.03,89.61 547.37,89.47 547.7,89.33 C548.04,89.19 548.38,89.06 548.72,88.93 C549.05,88.81 549.39,88.68 549.73,88.56 C550.07,88.43 550.4,88.31 550.74,88.18 C551.08,88.05 551.42,87.92 551.76,87.79 C552.09,87.65 552.43,87.51 552.77,87.37 C553.11,87.23 553.44,87.08 553.78,86.94 C554.12,86.8 554.46,86.65 554.79,86.51 C555.13,86.36 555.47,86.21 555.81,86.07 C556.14,85.92 556.48,85.77 556.82,85.62 C557.16,85.47 557.49,85.32 557.83,85.17 C558.17,85.02 558.51,84.87 558.84,84.72 C559.18,84.57 559.52,84.41 559.86,84.26 C560.19,84.1 560.53,83.95 560.87,83.79 C561.21,83.64 561.55,83.48 561.88,83.33 C562.22,83.17 562.56,83.01 562.9,82.86 C563.23,82.7 563.57,82.55 563.91,82.39 C564.25,82.24 564.58,82.08 564.92,81.92 C565.26,81.77 565.6,81.61 565.93,81.46 C566.27,81.31 566.61,81.15 566.95,81 C567.28,80.85 567.62,80.69 567.96,80.54 C568.3,80.39 568.63,80.24 568.97,80.08 C569.31,79.93 569.65,79.78 569.98,79.63 C570.32,79.47 570.66,79.32 571,79.17 C571.34,79.01 571.67,78.86 572.01,78.71 C572.35,78.56 572.69,78.4 573.02,78.25 C573.36,78.1 573.7,77.94 574.04,77.79 C574.37,77.64 574.71,77.48 575.05,77.33 C575.39,77.17 575.72,77.02 576.06,76.87 C576.4,76.71 576.74,76.56 577.07,76.41 C577.41,76.25 577.75,76.1 578.09,75.94 C578.42,75.79 578.76,75.64 579.1,75.48 C579.44,75.33 579.77,75.17 580.11,75.02 C580.45,74.87 580.79,74.71 581.13,74.56 C581.46,74.4 581.8,74.25 582.14,74.09 C582.48,73.94 582.81,73.79 583.15,73.63 C583.49,73.48 583.83,73.32 584.16,73.17 C584.5,73.01 584.84,72.86 585.18,72.7 C585.51,72.55 585.85,72.39 586.19,72.24 C586.53,72.08 586.86,71.92 587.2,71.77 C587.54,71.61 587.88,71.46 588.21,71.3 C588.55,71.14 588.89,70.99 589.23,70.83 C589.57,70.67 589.9,70.52 590.24,70.36 C590.58,70.2 590.92,70.04 591.25,69.89 C591.59,69.73 591.93,69.57 592.27,69.41 C592.6,69.25 592.94,69.09 593.28,68.93 C593.62,68.78 593.95,68.62 594.29,68.45 C594.63,68.29 594.97,68.13 595.3,67.97 C595.64,67.81 595.98,67.65 596.32,67.49 C596.65,67.33 596.99,67.16 597.33,67 C597.67,66.84 598,66.68 598.34,66.51 C598.68,66.35 599.02,66.19 599.36,66.03 C599.69,65.86 600.03,65.7 600.37,65.53 C600.71,65.37 601.04,65.21 601.38,65.04 C601.72,64.88 602.06,64.72 602.39,64.55 C602.73,64.39 603.07,64.23 603.41,64.06 C603.74,63.9 604.08,63.74 604.42,63.57 C604.76,63.41 605.09,63.24 605.43,63.08 C605.77,62.92 606.11,62.76 606.44,62.59 C606.78,62.43 607.12,62.27 607.46,62.1 C607.79,61.94 608.13,61.78 608.47,61.62 C608.81,61.46 609.15,61.29 609.48,61.13 C609.82,60.97 610.16,60.81 610.5,60.65 C610.83,60.49 611.17,60.33 611.51,60.17 C611.85,60.01 612.18,59.85 612.52,59.69 C612.86,59.53 613.2,59.37 613.53,59.21 C613.87,59.05 614.21,58.89 614.55,58.74 C614.88,58.58 615.22,58.42 615.56,58.26 C615.9,58.11 616.23,57.95 616.57,57.79 C616.91,57.64 617.25,57.48 617.58,57.33 C617.92,57.17 618.26,57.02 618.6,56.86 C618.94,56.71 619.27,56.55 619.61,56.4 C619.95,56.25 620.29,56.1 620.62,55.94 C620.96,55.79 621.3,55.64 621.64,55.49 C621.97,55.34 622.31,55.19 622.65,55.04 C622.99,54.89 623.32,54.74 623.66,54.59 C624,54.45 624.34,54.3 624.67,54.16 C625.01,54.02 625.35,53.87 625.69,53.73 C626.02,53.59 626.36,53.45 626.7,53.32 C627.04,53.18 627.37,53.04 627.71,52.9 C628.05,52.77 628.39,52.64 628.73,52.51 C629.06,52.37 629.4,52.24 629.74,52.11 C630.08,51.98 630.41,51.84 630.75,51.7 C631.09,51.56 631.43,51.42 631.76,51.28 C632.1,51.13 632.44,50.98 632.78,50.81 C633.11,50.65 633.45,50.48 633.79,50.31 C634.13,50.13 634.46,49.95 634.8,49.75 C635.14,49.55 635.48,49.34 635.81,49.11 C636.15,48.88 636.49,48.63 636.83,48.37 C637.16,48.11 637.5,47.83 637.84,47.54 C638.18,47.25 638.52,46.95 638.85,46.64 C639.19,46.33 639.53,46 639.87,45.66 C640.2,45.32 640.54,44.98 640.88,44.61 C641.22,44.24 641.55,43.86 641.89,43.45 C642.23,43.04 642.57,42.62 642.9,42.16 C643.24,41.7 643.58,41.22 643.92,40.68 C644.25,40.15 644.59,39.56 644.93,38.97 C645.27,38.39 645.6,37.77 645.94,37.16 C646.28,36.54 646.62,35.93 646.95,35.28 C647.29,34.64 647.63,33.97 647.97,33.29 C648.31,32.61 648.64,31.91 648.98,31.18 C649.32,30.45 649.66,29.71 649.99,28.93 C650.33,28.15 650.67,27.34 651.01,26.5 C651.34,25.66 651.68,24.79 652.02,23.91 C652.36,23.02 652.86,21.63 653.03,21.17" fill="none" stroke="#2f66d8" stroke-width="1.35"/>
<path d="M531.5,22.12 C531.67,22.78 532.19,24.79 532.54,26.06 C532.88,27.34 533.23,28.58 533.58,29.78 C533.92,30.98 534.27,32.14 534.62,33.25 C534.96,34.37 535.31,35.44 535.65,36.49 C536,37.54 536.35,38.58 536.69,39.57 C537.04,40.56 537.39,41.53 537.73,42.41 C538.08,43.28 538.42,44.09 538.77,44.84 C539.12,45.58 539.46,46.25 539.81,46.88 C540.16,47.52 540.5,48.13 540.85,48.65 C541.19,49.18 541.54,49.61 541.89,50.04 C542.23,50.46 542.58,50.84 542.93,51.19 C543.27,51.55 543.62,51.87 543.96,52.18 C544.31,52.49 544.66,52.77 545,53.03 C545.35,53.3 545.7,53.55 546.04,53.78 C546.39,54.02 546.73,54.24 547.08,54.45 C547.43,54.67 547.77,54.86 548.12,55.07 C548.47,55.27 548.81,55.47 549.16,55.67 C549.5,55.86 549.85,56.06 550.2,56.25 C550.54,56.44 550.89,56.63 551.24,56.82 C551.58,57 551.93,57.19 552.27,57.37 C552.62,57.55 552.97,57.73 553.31,57.9 C553.66,58.08 554.01,58.25 554.35,58.42 C554.7,58.59 555.04,58.75 555.39,58.92 C555.74,59.08 556.08,59.25 556.43,59.41 C556.78,59.57 557.12,59.73 557.47,59.88 C557.81,60.03 558.16,60.18 558.51,60.33 C558.85,60.48 559.2,60.63 559.55,60.77 C559.89,60.92 560.24,61.06 560.58,61.2 C560.93,61.34 561.28,61.48 561.62,61.62 C561.97,61.76 562.32,61.9 562.66,62.04 C563.01,62.18 563.35,62.33 563.7,62.47 C564.05,62.61 564.39,62.75 564.74,62.9 C565.09,63.04 565.43,63.19 565.78,63.34 C566.12,63.49 566.47,63.64 566.82,63.8 C567.16,63.95 567.51,64.11 567.86,64.26 C568.2,64.42 568.55,64.58 568.89,64.74 C569.24,64.9 569.59,65.06 569.93,65.23 C570.28,65.39 570.63,65.55 570.97,65.72 C571.32,65.88 571.66,66.05 572.01,66.22 C572.36,66.38 572.7,66.55 573.05,66.72 C573.4,66.89 573.74,67.06 574.09,67.23 C574.43,67.4 574.78,67.57 575.13,67.74 C575.47,67.92 575.82,68.09 576.17,68.26 C576.51,68.44 576.86,68.61 577.2,68.78 C577.55,68.96 577.9,69.13 578.24,69.31 C578.59,69.48 578.94,69.66 579.28,69.84 C579.63,70.01 579.97,70.19 580.32,70.36 C580.67,70.54 581.01,70.72 581.36,70.89 C581.71,71.07 582.05,71.24 582.4,71.42 C582.74,71.6 583.09,71.77 583.44,71.95 C583.78,72.12 584.13,72.3 584.48,72.48 C584.82,72.65 585.17,72.83 585.51,73 C585.86,73.17 586.21,73.35 586.55,73.52 C586.9,73.69 587.25,73.87 587.59,74.04 C587.94,74.21 588.28,74.38 588.63,74.55 C588.98,74.72 589.32,74.89 589.67,75.06 C590.02,75.23 590.36,75.4 590.71,75.57 C591.05,75.74 591.4,75.9 591.75,76.07 C592.09,76.24 592.44,76.41 592.79,76.58 C593.13,76.74 593.48,76.91 593.82,77.08 C594.17,77.24 594.52,77.41 594.86,77.58 C595.21,77.74 595.56,77.91 595.9,78.08 C596.25,78.24 596.59,78.41 596.94,78.58 C597.29,78.74 597.63,78.91 597.98,79.08 C598.32,79.24 598.67,79.41 599.02,79.58 C599.36,79.74 599.71,79.91 600.06,80.08 C600.4,80.24 600.75,80.41 601.09,80.58 C601.44,80.75 601.79,80.92 602.13,81.09 C602.48,81.25 602.83,81.42 603.17,81.6 C603.52,81.77 603.86,81.94 604.21,82.11 C604.56,82.28 604.9,82.46 605.25,82.63 C605.6,82.81 605.94,82.98 606.29,83.16 C606.63,83.34 606.98,83.52 607.33,83.69 C607.67,83.87 608.02,84.05 608.37,84.23 C608.71,84.41 609.06,84.59 609.4,84.77 C609.75,84.95 610.1,85.14 610.44,85.32 C610.79,85.5 611.14,85.69 611.48,85.87 C611.83,86.05 612.17,86.24 612.52,86.42 C612.87,86.6 613.21,86.79 613.56,86.97 C613.91,87.16 614.25,87.35 614.6,87.53 C614.94,87.72 615.29,87.9 615.64,88.09 C615.98,88.27 616.33,88.46 616.68,88.65 C617.02,88.83 617.37,89.02 617.71,89.2 C618.06,89.39 618.41,89.58 618.75,89.76 C619.1,89.95 619.45,90.13 619.79,90.32 C620.14,90.5 620.48,90.69 620.83,90.87 C621.18,91.06 621.52,91.24 621.87,91.43 C622.22,91.61 622.56,91.79 622.91,91.98 C623.25,92.16 623.6,92.34 623.95,92.53 C624.29,92.71 624.64,92.89 624.99,93.07 C625.33,93.25 625.68,93.43 626.02,93.61 C626.37,93.79 626.72,93.98 627.06,94.16 C627.41,94.34 627.76,94.52 628.1,94.7 C628.45,94.88 628.79,95.07 629.14,95.24 C629.49,95.42 629.83,95.6 630.18,95.78 C630.53,95.95 630.87,96.13 631.22,96.29 C631.56,96.46 631.91,96.62 632.26,96.78 C632.6,96.94 632.95,97.1 633.3,97.25 C633.64,97.41 633.99,97.56 634.33,97.72 C634.68,97.88 635.03,98.04 635.37,98.2 C635.72,98.37 636.07,98.54 636.41,98.73 C636.76,98.91 637.1,99.1 637.45,99.31 C637.8,99.53 638.14,99.76 638.49,100.01 C638.84,100.25 639.18,100.52 639.53,100.79 C639.87,101.07 640.22,101.36 640.57,101.66 C640.91,101.96 641.26,102.27 641.61,102.6 C641.95,102.93 642.3,103.28 642.64,103.65 C642.99,104.02 643.34,104.41 643.68,104.82 C644.03,105.23 644.38,105.67 644.72,106.12 C645.07,106.58 645.41,107.05 645.76,107.56 C646.11,108.06 646.45,108.59 646.8,109.16 C647.15,109.73 647.49,110.34 647.84,110.98 C648.18,111.62 648.53,112.28 648.88,113.01 C649.22,113.75 649.57,114.54 649.92,115.38 C650.26,116.22 650.61,117.12 650.95,118.03 C651.3,118.94 651.65,119.85 651.99,120.84 C652.34,121.84 652.69,122.87 653.03,124 C653.38,125.13 653.72,126.36 654.07,127.63 C654.42,128.9 654.76,130.25 655.11,131.62 C655.46,132.99 655.97,135.15 656.15,135.85" fill="none" stroke="#2f66d8" stroke-width="1.35"/>
<path d="M531.5,136.08 C531.65,134.42 532.12,129.13 532.43,126.12 C532.74,123.1 533.04,120.46 533.35,117.97 C533.66,115.48 533.97,113.16 534.28,111.17 C534.59,109.18 534.9,107.45 535.21,106.01 C535.52,104.56 535.83,103.54 536.13,102.49 C536.44,101.43 536.75,100.51 537.06,99.66 C537.37,98.82 537.68,98.09 537.99,97.42 C538.3,96.76 538.61,96.19 538.92,95.68 C539.22,95.17 539.53,94.76 539.84,94.36 C540.15,93.96 540.46,93.62 540.77,93.29 C541.08,92.96 541.39,92.68 541.7,92.41 C542.01,92.13 542.31,91.89 542.62,91.66 C542.93,91.43 543.24,91.22 543.55,91.02 C543.86,90.82 544.17,90.64 544.48,90.46 C544.79,90.28 545.1,90.12 545.4,89.96 C545.71,89.8 546.02,89.65 546.33,89.51 C546.64,89.36 546.95,89.23 547.26,89.1 C547.57,88.96 547.88,88.84 548.19,88.71 C548.49,88.58 548.8,88.46 549.11,88.32 C549.42,88.19 549.73,88.06 550.04,87.92 C550.35,87.79 550.66,87.64 550.97,87.5 C551.28,87.36 551.58,87.21 551.89,87.07 C552.2,86.92 552.51,86.78 552.82,86.63 C553.13,86.49 553.44,86.34 553.75,86.19 C554.06,86.05 554.37,85.9 554.67,85.75 C554.98,85.61 555.29,85.46 555.6,85.31 C555.91,85.16 556.22,85.01 556.53,84.86 C556.84,84.71 557.15,84.56 557.46,84.41 C557.76,84.26 558.07,84.1 558.38,83.95 C558.69,83.8 559,83.64 559.31,83.49 C559.62,83.34 559.93,83.18 560.24,83.03 C560.55,82.88 560.85,82.72 561.16,82.57 C561.47,82.42 561.78,82.26 562.09,82.11 C562.4,81.96 562.71,81.8 563.02,81.65 C563.33,81.5 563.64,81.35 563.94,81.2 C564.25,81.05 564.56,80.89 564.87,80.74 C565.18,80.59 565.49,80.44 565.8,80.29 C566.11,80.14 566.42,79.99 566.73,79.84 C567.03,79.69 567.34,79.54 567.65,79.38 C567.96,79.23 568.27,79.08 568.58,78.93 C568.89,78.78 569.2,78.63 569.51,78.47 C569.82,78.32 570.12,78.17 570.43,78.02 C570.74,77.87 571.05,77.71 571.36,77.56 C571.67,77.41 571.98,77.26 572.29,77.11 C572.6,76.95 572.91,76.8 573.21,76.65 C573.52,76.5 573.83,76.34 574.14,76.19 C574.45,76.04 574.76,75.88 575.07,75.73 C575.38,75.58 575.69,75.43 576,75.27 C576.3,75.12 576.61,74.97 576.92,74.81 C577.23,74.66 577.54,74.51 577.85,74.35 C578.16,74.2 578.47,74.04 578.78,73.89 C579.09,73.74 579.39,73.58 579.7,73.43 C580.01,73.27 580.32,73.12 580.63,72.96 C580.94,72.81 581.25,72.65 581.56,72.5 C581.87,72.34 582.18,72.19 582.48,72.03 C582.79,71.87 583.1,71.72 583.41,71.56 C583.72,71.4 584.03,71.25 584.34,71.09 C584.65,70.93 584.96,70.78 585.27,70.62 C585.57,70.46 585.88,70.3 586.19,70.14 C586.5,69.99 586.81,69.83 587.12,69.67 C587.43,69.51 587.74,69.35 588.05,69.19 C588.36,69.03 588.66,68.87 588.97,68.71 C589.28,68.54 589.59,68.38 589.9,68.22 C590.21,68.06 590.52,67.89 590.83,67.73 C591.14,67.56 591.45,67.4 591.75,67.24 C592.06,67.07 592.37,66.91 592.68,66.74 C592.99,66.57 593.3,66.41 593.61,66.24 C593.92,66.08 594.23,65.91 594.54,65.74 C594.84,65.58 595.15,65.41 595.46,65.24 C595.77,65.08 596.08,64.91 596.39,64.74 C596.7,64.57 597.01,64.41 597.32,64.24 C597.63,64.07 597.93,63.9 598.24,63.74 C598.55,63.57 598.86,63.4 599.17,63.24 C599.48,63.07 599.79,62.9 600.1,62.73 C600.41,62.57 600.72,62.4 601.02,62.23 C601.33,62.07 601.64,61.9 601.95,61.73 C602.26,61.57 602.57,61.4 602.88,61.24 C603.19,61.07 603.5,60.91 603.81,60.74 C604.11,60.57 604.42,60.41 604.73,60.25 C605.04,60.08 605.35,59.92 605.66,59.75 C605.97,59.59 606.28,59.43 606.59,59.26 C606.9,59.1 607.2,58.94 607.51,58.77 C607.82,58.61 608.13,58.45 608.44,58.29 C608.75,58.13 609.06,57.97 609.37,57.81 C609.68,57.65 609.98,57.49 610.29,57.33 C610.6,57.17 610.91,57.01 611.22,56.86 C611.53,56.7 611.84,56.54 612.15,56.38 C612.46,56.23 612.77,56.07 613.07,55.92 C613.38,55.76 613.69,55.61 614,55.45 C614.31,55.3 614.62,55.15 614.93,55 C615.24,54.85 615.55,54.69 615.86,54.55 C616.16,54.4 616.47,54.25 616.78,54.11 C617.09,53.97 617.4,53.83 617.71,53.69 C618.02,53.55 618.33,53.41 618.64,53.27 C618.95,53.13 619.25,52.99 619.56,52.86 C619.87,52.72 620.18,52.59 620.49,52.46 C620.8,52.32 621.11,52.19 621.42,52.06 C621.73,51.92 622.04,51.78 622.34,51.64 C622.65,51.5 622.96,51.36 623.27,51.21 C623.58,51.05 623.89,50.9 624.2,50.74 C624.51,50.57 624.82,50.4 625.13,50.22 C625.43,50.04 625.74,49.86 626.05,49.66 C626.36,49.46 626.67,49.25 626.98,49.03 C627.29,48.8 627.6,48.56 627.91,48.31 C628.22,48.05 628.52,47.79 628.83,47.51 C629.14,47.22 629.45,46.93 629.76,46.62 C630.07,46.32 630.38,46 630.69,45.66 C631,45.32 631.31,44.97 631.61,44.59 C631.92,44.22 632.23,43.84 632.54,43.42 C632.85,43.01 633.16,42.59 633.47,42.13 C633.78,41.67 634.09,41.19 634.4,40.67 C634.7,40.15 635.01,39.59 635.32,39.02 C635.63,38.45 635.94,37.87 636.25,37.27 C636.56,36.68 636.87,36.07 637.18,35.44 C637.49,34.81 637.79,34.15 638.1,33.48 C638.41,32.8 638.72,32.1 639.03,31.38 C639.34,30.65 639.65,29.91 639.96,29.12 C640.27,28.33 640.58,27.51 640.88,26.65 C641.19,25.8 641.5,24.91 641.81,23.99 C642.12,23.08 642.58,21.64 642.74,21.17" fill="none" stroke="#2a8a80" stroke-width="1.35"/>
<path d="M531.5,22.07 C531.66,22.7 532.15,24.62 532.47,25.84 C532.79,27.07 533.11,28.27 533.44,29.43 C533.76,30.59 534.08,31.71 534.4,32.81 C534.73,33.9 535.05,34.94 535.37,35.99 C535.69,37.03 536.02,38.08 536.34,39.08 C536.66,40.07 536.98,41.06 537.31,41.94 C537.63,42.82 537.95,43.64 538.28,44.38 C538.6,45.12 538.92,45.77 539.24,46.4 C539.57,47.02 539.89,47.62 540.21,48.15 C540.53,48.68 540.86,49.13 541.18,49.57 C541.5,50.01 541.82,50.41 542.15,50.78 C542.47,51.16 542.79,51.5 543.11,51.83 C543.44,52.16 543.76,52.47 544.08,52.76 C544.41,53.05 544.73,53.32 545.05,53.58 C545.37,53.83 545.7,54.07 546.02,54.31 C546.34,54.54 546.66,54.75 546.99,54.97 C547.31,55.18 547.63,55.39 547.95,55.59 C548.28,55.8 548.6,56 548.92,56.2 C549.24,56.4 549.57,56.59 549.89,56.78 C550.21,56.97 550.54,57.16 550.86,57.34 C551.18,57.52 551.5,57.7 551.83,57.87 C552.15,58.05 552.47,58.22 552.79,58.39 C553.12,58.56 553.44,58.72 553.76,58.88 C554.08,59.04 554.41,59.2 554.73,59.36 C555.05,59.51 555.38,59.67 555.7,59.81 C556.02,59.96 556.34,60.1 556.67,60.24 C556.99,60.39 557.31,60.52 557.63,60.66 C557.96,60.79 558.28,60.92 558.6,61.06 C558.92,61.19 559.25,61.32 559.57,61.45 C559.89,61.58 560.21,61.71 560.54,61.84 C560.86,61.97 561.18,62.1 561.51,62.23 C561.83,62.37 562.15,62.5 562.47,62.64 C562.8,62.77 563.12,62.91 563.44,63.06 C563.76,63.2 564.09,63.34 564.41,63.49 C564.73,63.64 565.05,63.79 565.38,63.95 C565.7,64.1 566.02,64.25 566.34,64.41 C566.67,64.56 566.99,64.72 567.31,64.88 C567.64,65.04 567.96,65.2 568.28,65.36 C568.6,65.52 568.93,65.69 569.25,65.85 C569.57,66.01 569.89,66.18 570.22,66.35 C570.54,66.51 570.86,66.68 571.18,66.85 C571.51,67.02 571.83,67.19 572.15,67.36 C572.47,67.53 572.8,67.7 573.12,67.88 C573.44,68.05 573.77,68.22 574.09,68.4 C574.41,68.57 574.73,68.74 575.06,68.92 C575.38,69.09 575.7,69.27 576.02,69.45 C576.35,69.62 576.67,69.8 576.99,69.98 C577.31,70.15 577.64,70.33 577.96,70.51 C578.28,70.69 578.6,70.87 578.93,71.04 C579.25,71.22 579.57,71.4 579.9,71.58 C580.22,71.76 580.54,71.94 580.86,72.12 C581.19,72.29 581.51,72.47 581.83,72.65 C582.15,72.83 582.48,73.01 582.8,73.18 C583.12,73.36 583.44,73.54 583.77,73.71 C584.09,73.89 584.41,74.07 584.73,74.24 C585.06,74.42 585.38,74.59 585.7,74.77 C586.03,74.94 586.35,75.12 586.67,75.29 C586.99,75.47 587.32,75.64 587.64,75.82 C587.96,75.99 588.28,76.16 588.61,76.34 C588.93,76.51 589.25,76.68 589.57,76.86 C589.9,77.03 590.22,77.2 590.54,77.38 C590.86,77.55 591.19,77.72 591.51,77.89 C591.83,78.06 592.16,78.24 592.48,78.41 C592.8,78.58 593.12,78.75 593.45,78.92 C593.77,79.1 594.09,79.27 594.41,79.44 C594.74,79.61 595.06,79.78 595.38,79.95 C595.7,80.12 596.03,80.3 596.35,80.47 C596.67,80.64 597,80.81 597.32,80.98 C597.64,81.15 597.96,81.33 598.29,81.5 C598.61,81.67 598.93,81.85 599.25,82.02 C599.58,82.19 599.9,82.37 600.22,82.54 C600.54,82.72 600.87,82.9 601.19,83.07 C601.51,83.25 601.83,83.43 602.16,83.61 C602.48,83.78 602.8,83.96 603.13,84.14 C603.45,84.32 603.77,84.5 604.09,84.68 C604.42,84.86 604.74,85.04 605.06,85.22 C605.38,85.4 605.71,85.58 606.03,85.77 C606.35,85.95 606.67,86.13 607,86.31 C607.32,86.49 607.64,86.68 607.96,86.86 C608.29,87.04 608.61,87.23 608.93,87.41 C609.26,87.59 609.58,87.78 609.9,87.96 C610.22,88.14 610.55,88.33 610.87,88.51 C611.19,88.7 611.51,88.88 611.84,89.06 C612.16,89.25 612.48,89.43 612.8,89.62 C613.13,89.8 613.45,89.99 613.77,90.17 C614.09,90.36 614.42,90.54 614.74,90.73 C615.06,90.91 615.39,91.09 615.71,91.28 C616.03,91.46 616.35,91.65 616.68,91.83 C617,92.02 617.32,92.2 617.64,92.38 C617.97,92.57 618.29,92.75 618.61,92.93 C618.93,93.12 619.26,93.3 619.58,93.48 C619.9,93.67 620.22,93.85 620.55,94.04 C620.87,94.22 621.19,94.41 621.52,94.59 C621.84,94.78 622.16,94.96 622.48,95.15 C622.81,95.33 623.13,95.52 623.45,95.7 C623.77,95.88 624.1,96.06 624.42,96.24 C624.74,96.42 625.06,96.59 625.39,96.76 C625.71,96.93 626.03,97.1 626.35,97.27 C626.68,97.44 627,97.61 627.32,97.78 C627.65,97.95 627.97,98.13 628.29,98.3 C628.61,98.48 628.94,98.66 629.26,98.86 C629.58,99.05 629.9,99.25 630.23,99.46 C630.55,99.68 630.87,99.91 631.19,100.15 C631.52,100.39 631.84,100.65 632.16,100.92 C632.49,101.19 632.81,101.48 633.13,101.77 C633.45,102.07 633.78,102.37 634.1,102.69 C634.42,103.02 634.74,103.36 635.07,103.72 C635.39,104.09 635.71,104.47 636.03,104.87 C636.36,105.28 636.68,105.7 637,106.15 C637.32,106.6 637.65,107.06 637.97,107.56 C638.29,108.05 638.62,108.57 638.94,109.12 C639.26,109.67 639.58,110.25 639.91,110.87 C640.23,111.49 640.55,112.12 640.87,112.82 C641.2,113.52 641.52,114.28 641.84,115.08 C642.16,115.88 642.49,116.73 642.81,117.61 C643.13,118.49 643.45,119.36 643.78,120.34 C644.1,121.33 644.42,122.36 644.75,123.5 C645.07,124.65 645.39,125.92 645.71,127.24 C646.04,128.56 646.36,129.97 646.68,131.41 C647,132.84 647.49,135.11 647.65,135.85" fill="none" stroke="#2a8a80" stroke-width="1.35"/>
<path d="M531.5,136.08 C531.64,134.54 532.06,129.68 532.34,126.82 C532.62,123.96 532.9,121.34 533.18,118.92 C533.46,116.49 533.73,114.22 534.01,112.27 C534.29,110.31 534.57,108.63 534.85,107.18 C535.13,105.73 535.41,104.68 535.69,103.59 C535.97,102.5 536.25,101.53 536.53,100.64 C536.81,99.75 537.09,98.96 537.37,98.25 C537.65,97.54 537.93,96.94 538.2,96.39 C538.48,95.85 538.76,95.42 539.04,94.99 C539.32,94.57 539.6,94.19 539.88,93.84 C540.16,93.48 540.44,93.17 540.72,92.87 C541,92.57 541.28,92.3 541.56,92.05 C541.84,91.8 542.12,91.57 542.39,91.35 C542.67,91.14 542.95,90.94 543.23,90.75 C543.51,90.56 543.79,90.39 544.07,90.22 C544.35,90.05 544.63,89.9 544.91,89.75 C545.19,89.6 545.47,89.46 545.75,89.32 C546.03,89.19 546.31,89.06 546.59,88.92 C546.86,88.79 547.14,88.66 547.42,88.53 C547.7,88.39 547.98,88.26 548.26,88.11 C548.54,87.97 548.82,87.82 549.1,87.68 C549.38,87.53 549.66,87.39 549.94,87.24 C550.22,87.09 550.5,86.95 550.78,86.8 C551.05,86.66 551.33,86.52 551.61,86.37 C551.89,86.23 552.17,86.08 552.45,85.94 C552.73,85.79 553.01,85.64 553.29,85.5 C553.57,85.35 553.85,85.21 554.13,85.06 C554.41,84.91 554.69,84.76 554.97,84.62 C555.25,84.47 555.52,84.32 555.8,84.17 C556.08,84.02 556.36,83.87 556.64,83.72 C556.92,83.57 557.2,83.42 557.48,83.27 C557.76,83.12 558.04,82.97 558.32,82.82 C558.6,82.67 558.88,82.52 559.16,82.37 C559.44,82.22 559.71,82.07 559.99,81.92 C560.27,81.77 560.55,81.62 560.83,81.47 C561.11,81.32 561.39,81.17 561.67,81.02 C561.95,80.87 562.23,80.73 562.51,80.58 C562.79,80.43 563.07,80.28 563.35,80.13 C563.63,79.98 563.91,79.83 564.18,79.68 C564.46,79.53 564.74,79.38 565.02,79.23 C565.3,79.09 565.58,78.94 565.86,78.79 C566.14,78.64 566.42,78.49 566.7,78.34 C566.98,78.19 567.26,78.04 567.54,77.89 C567.82,77.74 568.1,77.59 568.37,77.44 C568.65,77.29 568.93,77.13 569.21,76.98 C569.49,76.83 569.77,76.68 570.05,76.53 C570.33,76.38 570.61,76.23 570.89,76.08 C571.17,75.93 571.45,75.77 571.73,75.62 C572.01,75.47 572.29,75.32 572.57,75.17 C572.84,75.01 573.12,74.86 573.4,74.71 C573.68,74.55 573.96,74.4 574.24,74.25 C574.52,74.1 574.8,73.94 575.08,73.79 C575.36,73.63 575.64,73.48 575.92,73.33 C576.2,73.17 576.48,73.02 576.76,72.86 C577.03,72.71 577.31,72.55 577.59,72.39 C577.87,72.24 578.15,72.08 578.43,71.92 C578.71,71.77 578.99,71.61 579.27,71.45 C579.55,71.3 579.83,71.14 580.11,70.98 C580.39,70.82 580.67,70.66 580.95,70.5 C581.23,70.35 581.5,70.19 581.78,70.03 C582.06,69.87 582.34,69.7 582.62,69.54 C582.9,69.38 583.18,69.22 583.46,69.05 C583.74,68.89 584.02,68.72 584.3,68.56 C584.58,68.39 584.86,68.23 585.14,68.06 C585.42,67.89 585.69,67.73 585.97,67.56 C586.25,67.39 586.53,67.22 586.81,67.05 C587.09,66.88 587.37,66.71 587.65,66.54 C587.93,66.37 588.21,66.2 588.49,66.03 C588.77,65.86 589.05,65.69 589.33,65.52 C589.61,65.35 589.89,65.17 590.16,65 C590.44,64.83 590.72,64.66 591,64.49 C591.28,64.31 591.56,64.14 591.84,63.97 C592.12,63.79 592.4,63.62 592.68,63.45 C592.96,63.28 593.24,63.1 593.52,62.93 C593.8,62.76 594.08,62.59 594.35,62.41 C594.63,62.24 594.91,62.07 595.19,61.9 C595.47,61.72 595.75,61.55 596.03,61.38 C596.31,61.21 596.59,61.04 596.87,60.86 C597.15,60.69 597.43,60.52 597.71,60.35 C597.99,60.18 598.27,60.01 598.55,59.84 C598.82,59.67 599.1,59.5 599.38,59.33 C599.66,59.16 599.94,59 600.22,58.83 C600.5,58.66 600.78,58.49 601.06,58.33 C601.34,58.16 601.62,57.99 601.9,57.83 C602.18,57.66 602.46,57.5 602.74,57.33 C603.01,57.17 603.29,57.01 603.57,56.85 C603.85,56.68 604.13,56.52 604.41,56.36 C604.69,56.2 604.97,56.04 605.25,55.88 C605.53,55.72 605.81,55.56 606.09,55.41 C606.37,55.25 606.65,55.09 606.93,54.94 C607.21,54.79 607.48,54.63 607.76,54.48 C608.04,54.33 608.32,54.19 608.6,54.04 C608.88,53.9 609.16,53.76 609.44,53.62 C609.72,53.48 610,53.34 610.28,53.2 C610.56,53.07 610.84,52.93 611.12,52.8 C611.4,52.66 611.68,52.53 611.95,52.39 C612.23,52.26 612.51,52.12 612.79,51.98 C613.07,51.84 613.35,51.7 613.63,51.56 C613.91,51.41 614.19,51.26 614.47,51.11 C614.75,50.95 615.03,50.79 615.31,50.63 C615.59,50.46 615.87,50.28 616.14,50.1 C616.42,49.92 616.7,49.73 616.98,49.54 C617.26,49.34 617.54,49.13 617.82,48.92 C618.1,48.7 618.38,48.47 618.66,48.22 C618.94,47.98 619.22,47.72 619.5,47.45 C619.78,47.18 620.06,46.9 620.34,46.6 C620.61,46.3 620.89,45.99 621.17,45.65 C621.45,45.31 621.73,44.95 622.01,44.58 C622.29,44.2 622.57,43.8 622.85,43.39 C623.13,42.97 623.41,42.54 623.69,42.08 C623.97,41.63 624.25,41.15 624.53,40.65 C624.8,40.15 625.08,39.62 625.36,39.09 C625.64,38.55 625.92,38 626.2,37.43 C626.48,36.86 626.76,36.27 627.04,35.66 C627.32,35.04 627.6,34.4 627.88,33.73 C628.16,33.06 628.44,32.38 628.72,31.65 C629,30.93 629.27,30.18 629.55,29.39 C629.83,28.59 630.11,27.74 630.39,26.86 C630.67,25.98 630.95,25.06 631.23,24.11 C631.51,23.16 631.93,21.66 632.07,21.17" fill="none" stroke="#bd82f0" stroke-width="1.35"/>
<path d="M531.5,22 C531.65,22.59 532.08,24.39 532.37,25.54 C532.66,26.7 532.96,27.83 533.25,28.94 C533.54,30.05 533.83,31.13 534.12,32.18 C534.41,33.24 534.7,34.26 534.99,35.3 C535.29,36.33 535.58,37.39 535.87,38.39 C536.16,39.39 536.45,40.41 536.74,41.3 C537.03,42.19 537.32,43.01 537.61,43.74 C537.91,44.48 538.2,45.1 538.49,45.72 C538.78,46.34 539.07,46.92 539.36,47.46 C539.65,47.99 539.94,48.47 540.23,48.93 C540.53,49.39 540.82,49.81 541.11,50.22 C541.4,50.62 541.69,50.99 541.98,51.35 C542.27,51.71 542.56,52.05 542.86,52.37 C543.15,52.7 543.44,53 543.73,53.29 C544.02,53.58 544.31,53.85 544.6,54.11 C544.89,54.36 545.18,54.6 545.48,54.83 C545.77,55.06 546.06,55.28 546.35,55.5 C546.64,55.71 546.93,55.92 547.22,56.13 C547.51,56.34 547.8,56.54 548.1,56.73 C548.39,56.92 548.68,57.11 548.97,57.3 C549.26,57.48 549.55,57.66 549.84,57.84 C550.13,58.01 550.43,58.18 550.72,58.35 C551.01,58.51 551.3,58.67 551.59,58.83 C551.88,58.99 552.17,59.14 552.46,59.29 C552.75,59.44 553.05,59.58 553.34,59.72 C553.63,59.86 553.92,59.99 554.21,60.12 C554.5,60.25 554.79,60.38 555.08,60.5 C555.38,60.62 555.67,60.74 555.96,60.86 C556.25,60.98 556.54,61.09 556.83,61.21 C557.12,61.33 557.41,61.44 557.7,61.56 C558,61.67 558.29,61.79 558.58,61.91 C558.87,62.03 559.16,62.15 559.45,62.28 C559.74,62.4 560.03,62.53 560.32,62.66 C560.62,62.79 560.91,62.93 561.2,63.07 C561.49,63.21 561.78,63.36 562.07,63.51 C562.36,63.65 562.65,63.8 562.95,63.95 C563.24,64.1 563.53,64.25 563.82,64.4 C564.11,64.56 564.4,64.71 564.69,64.87 C564.98,65.03 565.27,65.19 565.57,65.35 C565.86,65.51 566.15,65.67 566.44,65.83 C566.73,65.99 567.02,66.16 567.31,66.33 C567.6,66.49 567.89,66.66 568.19,66.83 C568.48,67 568.77,67.17 569.06,67.34 C569.35,67.51 569.64,67.68 569.93,67.86 C570.22,68.03 570.52,68.2 570.81,68.38 C571.1,68.55 571.39,68.73 571.68,68.91 C571.97,69.09 572.26,69.26 572.55,69.44 C572.84,69.62 573.14,69.8 573.43,69.98 C573.72,70.16 574.01,70.34 574.3,70.52 C574.59,70.7 574.88,70.89 575.17,71.07 C575.47,71.25 575.76,71.43 576.05,71.62 C576.34,71.8 576.63,71.98 576.92,72.17 C577.21,72.35 577.5,72.53 577.79,72.72 C578.09,72.9 578.38,73.08 578.67,73.27 C578.96,73.45 579.25,73.63 579.54,73.81 C579.83,74 580.12,74.18 580.41,74.36 C580.71,74.55 581,74.73 581.29,74.91 C581.58,75.1 581.87,75.28 582.16,75.46 C582.45,75.64 582.74,75.83 583.04,76.01 C583.33,76.19 583.62,76.37 583.91,76.55 C584.2,76.73 584.49,76.92 584.78,77.1 C585.07,77.28 585.36,77.46 585.66,77.64 C585.95,77.82 586.24,78 586.53,78.18 C586.82,78.36 587.11,78.54 587.4,78.72 C587.69,78.89 587.98,79.07 588.28,79.25 C588.57,79.43 588.86,79.61 589.15,79.78 C589.44,79.96 589.73,80.13 590.02,80.31 C590.31,80.49 590.61,80.66 590.9,80.84 C591.19,81.01 591.48,81.19 591.77,81.37 C592.06,81.54 592.35,81.72 592.64,81.89 C592.93,82.07 593.23,82.25 593.52,82.42 C593.81,82.6 594.1,82.78 594.39,82.95 C594.68,83.13 594.97,83.31 595.26,83.48 C595.56,83.66 595.85,83.84 596.14,84.02 C596.43,84.19 596.72,84.37 597.01,84.55 C597.3,84.73 597.59,84.91 597.88,85.09 C598.18,85.26 598.47,85.44 598.76,85.62 C599.05,85.8 599.34,85.98 599.63,86.16 C599.92,86.34 600.21,86.52 600.5,86.7 C600.8,86.88 601.09,87.06 601.38,87.24 C601.67,87.42 601.96,87.6 602.25,87.78 C602.54,87.96 602.83,88.15 603.13,88.33 C603.42,88.51 603.71,88.69 604,88.87 C604.29,89.06 604.58,89.24 604.87,89.42 C605.16,89.6 605.45,89.79 605.75,89.97 C606.04,90.15 606.33,90.34 606.62,90.52 C606.91,90.7 607.2,90.89 607.49,91.07 C607.78,91.26 608.07,91.44 608.37,91.63 C608.66,91.81 608.95,92 609.24,92.18 C609.53,92.37 609.82,92.56 610.11,92.74 C610.4,92.93 610.7,93.12 610.99,93.3 C611.28,93.49 611.57,93.68 611.86,93.87 C612.15,94.06 612.44,94.25 612.73,94.44 C613.02,94.63 613.32,94.82 613.61,95.01 C613.9,95.2 614.19,95.4 614.48,95.59 C614.77,95.78 615.06,95.97 615.35,96.16 C615.64,96.35 615.94,96.54 616.23,96.73 C616.52,96.92 616.81,97.1 617.1,97.29 C617.39,97.48 617.68,97.67 617.97,97.86 C618.27,98.05 618.56,98.25 618.85,98.44 C619.14,98.64 619.43,98.83 619.72,99.04 C620.01,99.24 620.3,99.45 620.59,99.67 C620.89,99.88 621.18,100.11 621.47,100.35 C621.76,100.59 622.05,100.84 622.34,101.1 C622.63,101.36 622.92,101.64 623.22,101.92 C623.51,102.21 623.8,102.5 624.09,102.82 C624.38,103.14 624.67,103.47 624.96,103.83 C625.25,104.18 625.54,104.55 625.84,104.95 C626.13,105.34 626.42,105.75 626.71,106.19 C627,106.63 627.29,107.08 627.58,107.56 C627.87,108.04 628.16,108.54 628.46,109.06 C628.75,109.59 629.04,110.14 629.33,110.72 C629.62,111.3 629.91,111.9 630.2,112.56 C630.49,113.22 630.79,113.91 631.08,114.66 C631.37,115.4 631.66,116.2 631.95,117.03 C632.24,117.86 632.53,118.69 632.82,119.65 C633.11,120.62 633.41,121.64 633.7,122.82 C633.99,123.99 634.28,125.32 634.57,126.7 C634.86,128.08 635.15,129.58 635.44,131.11 C635.73,132.63 636.17,135.06 636.32,135.85" fill="none" stroke="#bd82f0" stroke-width="1.35"/>
<path d="M531.5,136.08 C531.63,134.6 532.04,129.96 532.3,127.17 C532.57,124.39 532.84,121.78 533.11,119.39 C533.37,116.99 533.64,114.75 533.91,112.82 C534.18,110.88 534.44,109.21 534.71,107.77 C534.98,106.32 535.25,105.25 535.51,104.14 C535.78,103.03 536.05,102.04 536.32,101.12 C536.58,100.21 536.85,99.4 537.12,98.67 C537.39,97.94 537.65,97.31 537.92,96.75 C538.19,96.19 538.46,95.75 538.72,95.31 C538.99,94.87 539.26,94.48 539.53,94.11 C539.79,93.74 540.06,93.41 540.33,93.1 C540.6,92.79 540.86,92.51 541.13,92.25 C541.4,91.98 541.67,91.75 541.93,91.52 C542.2,91.3 542.47,91.09 542.74,90.9 C543,90.7 543.27,90.52 543.54,90.35 C543.81,90.18 544.07,90.02 544.34,89.87 C544.61,89.72 544.88,89.58 545.15,89.44 C545.41,89.3 545.68,89.16 545.95,89.03 C546.22,88.89 546.48,88.76 546.75,88.63 C547.02,88.49 547.29,88.35 547.55,88.21 C547.82,88.07 548.09,87.91 548.36,87.77 C548.62,87.62 548.89,87.47 549.16,87.33 C549.43,87.18 549.69,87.04 549.96,86.89 C550.23,86.75 550.5,86.6 550.76,86.46 C551.03,86.31 551.3,86.17 551.57,86.03 C551.83,85.88 552.1,85.74 552.37,85.59 C552.64,85.45 552.9,85.3 553.17,85.16 C553.44,85.01 553.71,84.87 553.97,84.72 C554.24,84.57 554.51,84.42 554.78,84.28 C555.04,84.13 555.31,83.98 555.58,83.83 C555.85,83.68 556.11,83.53 556.38,83.38 C556.65,83.24 556.92,83.09 557.18,82.94 C557.45,82.79 557.72,82.64 557.99,82.49 C558.26,82.35 558.52,82.2 558.79,82.05 C559.06,81.9 559.33,81.75 559.59,81.61 C559.86,81.46 560.13,81.31 560.4,81.16 C560.66,81.02 560.93,80.87 561.2,80.72 C561.47,80.57 561.73,80.42 562,80.28 C562.27,80.13 562.54,79.98 562.8,79.83 C563.07,79.68 563.34,79.54 563.61,79.39 C563.87,79.24 564.14,79.09 564.41,78.94 C564.68,78.79 564.94,78.64 565.21,78.5 C565.48,78.35 565.75,78.2 566.01,78.05 C566.28,77.9 566.55,77.75 566.82,77.6 C567.08,77.45 567.35,77.3 567.62,77.15 C567.89,77 568.15,76.85 568.42,76.7 C568.69,76.55 568.96,76.4 569.22,76.25 C569.49,76.1 569.76,75.95 570.03,75.8 C570.29,75.65 570.56,75.49 570.83,75.34 C571.1,75.19 571.37,75.04 571.63,74.89 C571.9,74.73 572.17,74.58 572.44,74.43 C572.7,74.27 572.97,74.12 573.24,73.97 C573.51,73.81 573.77,73.66 574.04,73.51 C574.31,73.35 574.58,73.2 574.84,73.04 C575.11,72.89 575.38,72.73 575.65,72.58 C575.91,72.42 576.18,72.26 576.45,72.11 C576.72,71.95 576.98,71.79 577.25,71.64 C577.52,71.48 577.79,71.32 578.05,71.16 C578.32,71 578.59,70.84 578.86,70.68 C579.12,70.52 579.39,70.36 579.66,70.2 C579.93,70.04 580.19,69.88 580.46,69.72 C580.73,69.55 581,69.39 581.26,69.23 C581.53,69.06 581.8,68.9 582.07,68.73 C582.33,68.56 582.6,68.39 582.87,68.23 C583.14,68.06 583.41,67.89 583.67,67.72 C583.94,67.55 584.21,67.38 584.48,67.21 C584.74,67.04 585.01,66.87 585.28,66.69 C585.55,66.52 585.81,66.35 586.08,66.18 C586.35,66 586.62,65.83 586.88,65.66 C587.15,65.48 587.42,65.31 587.69,65.13 C587.95,64.96 588.22,64.78 588.49,64.61 C588.76,64.43 589.02,64.26 589.29,64.08 C589.56,63.91 589.83,63.73 590.09,63.56 C590.36,63.38 590.63,63.2 590.9,63.03 C591.16,62.85 591.43,62.68 591.7,62.5 C591.97,62.33 592.23,62.15 592.5,61.98 C592.77,61.8 593.04,61.63 593.3,61.45 C593.57,61.28 593.84,61.1 594.11,60.93 C594.37,60.75 594.64,60.58 594.91,60.41 C595.18,60.23 595.44,60.06 595.71,59.89 C595.98,59.71 596.25,59.54 596.52,59.37 C596.78,59.2 597.05,59.03 597.32,58.85 C597.59,58.68 597.85,58.51 598.12,58.34 C598.39,58.18 598.66,58.01 598.92,57.84 C599.19,57.67 599.46,57.5 599.73,57.34 C599.99,57.17 600.26,57.01 600.53,56.84 C600.8,56.68 601.06,56.51 601.33,56.35 C601.6,56.19 601.87,56.02 602.13,55.86 C602.4,55.7 602.67,55.54 602.94,55.38 C603.2,55.23 603.47,55.07 603.74,54.91 C604.01,54.76 604.27,54.6 604.54,54.45 C604.81,54.3 605.08,54.15 605.34,54.01 C605.61,53.86 605.88,53.72 606.15,53.58 C606.41,53.44 606.68,53.31 606.95,53.17 C607.22,53.04 607.48,52.9 607.75,52.77 C608.02,52.63 608.29,52.5 608.55,52.36 C608.82,52.22 609.09,52.09 609.36,51.94 C609.63,51.8 609.89,51.66 610.16,51.51 C610.43,51.37 610.7,51.22 610.96,51.06 C611.23,50.9 611.5,50.74 611.77,50.57 C612.03,50.4 612.3,50.23 612.57,50.04 C612.84,49.86 613.1,49.67 613.37,49.48 C613.64,49.28 613.91,49.08 614.17,48.86 C614.44,48.64 614.71,48.42 614.98,48.18 C615.24,47.94 615.51,47.69 615.78,47.43 C616.05,47.16 616.31,46.89 616.58,46.59 C616.85,46.3 617.12,45.98 617.38,45.65 C617.65,45.31 617.92,44.95 618.19,44.57 C618.45,44.19 618.72,43.79 618.99,43.37 C619.26,42.95 619.52,42.52 619.79,42.06 C620.06,41.61 620.33,41.13 620.59,40.64 C620.86,40.15 621.13,39.64 621.4,39.12 C621.66,38.6 621.93,38.07 622.2,37.51 C622.47,36.95 622.74,36.37 623,35.77 C623.27,35.16 623.54,34.52 623.81,33.86 C624.07,33.2 624.34,32.51 624.61,31.79 C624.88,31.06 625.14,30.32 625.41,29.52 C625.68,28.71 625.95,27.86 626.21,26.97 C626.48,26.08 626.75,25.14 627.02,24.17 C627.28,23.2 627.68,21.67 627.82,21.17" fill="none" stroke="#3dbdb2" stroke-width="1.35"/>
<path d="M531.5,21.97 C531.64,22.54 532.05,24.27 532.33,25.39 C532.6,26.51 532.88,27.61 533.15,28.69 C533.43,29.77 533.7,30.83 533.98,31.87 C534.25,32.92 534.53,33.92 534.81,34.95 C535.08,35.98 535.36,37.05 535.63,38.05 C535.91,39.06 536.18,40.08 536.46,40.97 C536.73,41.87 537.01,42.69 537.28,43.43 C537.56,44.16 537.83,44.77 538.11,45.39 C538.39,46 538.66,46.58 538.94,47.11 C539.21,47.65 539.49,48.14 539.76,48.61 C540.04,49.08 540.31,49.51 540.59,49.93 C540.86,50.35 541.14,50.74 541.42,51.11 C541.69,51.49 541.97,51.85 542.24,52.18 C542.52,52.52 542.79,52.84 543.07,53.15 C543.34,53.45 543.62,53.74 543.89,54 C544.17,54.27 544.44,54.52 544.72,54.76 C545,55 545.27,55.22 545.55,55.45 C545.82,55.67 546.1,55.88 546.37,56.09 C546.65,56.3 546.92,56.51 547.2,56.7 C547.47,56.9 547.75,57.09 548.03,57.28 C548.3,57.46 548.58,57.64 548.85,57.82 C549.13,57.99 549.4,58.16 549.68,58.33 C549.95,58.49 550.23,58.65 550.5,58.8 C550.78,58.96 551.05,59.11 551.33,59.26 C551.61,59.4 551.88,59.54 552.16,59.68 C552.43,59.81 552.71,59.94 552.98,60.06 C553.26,60.19 553.53,60.3 553.81,60.42 C554.08,60.54 554.36,60.65 554.64,60.76 C554.91,60.87 555.19,60.98 555.46,61.09 C555.74,61.2 556.01,61.31 556.29,61.42 C556.56,61.53 556.84,61.64 557.11,61.75 C557.39,61.86 557.66,61.98 557.94,62.1 C558.22,62.21 558.49,62.34 558.77,62.46 C559.04,62.59 559.32,62.73 559.59,62.86 C559.87,63 560.14,63.14 560.42,63.28 C560.69,63.43 560.97,63.57 561.25,63.72 C561.52,63.87 561.8,64.01 562.07,64.16 C562.35,64.32 562.62,64.47 562.9,64.62 C563.17,64.78 563.45,64.93 563.72,65.09 C564,65.25 564.28,65.41 564.55,65.57 C564.83,65.73 565.1,65.9 565.38,66.06 C565.65,66.23 565.93,66.39 566.2,66.56 C566.48,66.73 566.75,66.9 567.03,67.07 C567.3,67.24 567.58,67.41 567.86,67.59 C568.13,67.76 568.41,67.93 568.68,68.11 C568.96,68.29 569.23,68.46 569.51,68.64 C569.78,68.82 570.06,69 570.33,69.18 C570.61,69.36 570.89,69.54 571.16,69.72 C571.44,69.9 571.71,70.08 571.99,70.26 C572.26,70.45 572.54,70.63 572.81,70.81 C573.09,71 573.36,71.18 573.64,71.37 C573.91,71.55 574.19,71.74 574.47,71.92 C574.74,72.11 575.02,72.3 575.29,72.48 C575.57,72.67 575.84,72.85 576.12,73.04 C576.39,73.23 576.67,73.41 576.94,73.6 C577.22,73.79 577.5,73.98 577.77,74.16 C578.05,74.35 578.32,74.54 578.6,74.72 C578.87,74.91 579.15,75.1 579.42,75.28 C579.7,75.47 579.97,75.66 580.25,75.84 C580.52,76.03 580.8,76.21 581.08,76.4 C581.35,76.59 581.63,76.77 581.9,76.96 C582.18,77.14 582.45,77.33 582.73,77.51 C583,77.7 583.28,77.88 583.55,78.06 C583.83,78.25 584.11,78.43 584.38,78.61 C584.66,78.79 584.93,78.97 585.21,79.16 C585.48,79.34 585.76,79.52 586.03,79.7 C586.31,79.88 586.58,80.05 586.86,80.23 C587.14,80.41 587.41,80.59 587.69,80.77 C587.96,80.94 588.24,81.12 588.51,81.3 C588.79,81.48 589.06,81.65 589.34,81.83 C589.61,82.01 589.89,82.19 590.16,82.36 C590.44,82.54 590.72,82.72 590.99,82.89 C591.27,83.07 591.54,83.25 591.82,83.42 C592.09,83.6 592.37,83.78 592.64,83.95 C592.92,84.13 593.19,84.31 593.47,84.49 C593.75,84.66 594.02,84.84 594.3,85.02 C594.57,85.2 594.85,85.37 595.12,85.55 C595.4,85.73 595.67,85.91 595.95,86.08 C596.22,86.26 596.5,86.44 596.77,86.62 C597.05,86.8 597.33,86.98 597.6,87.16 C597.88,87.34 598.15,87.52 598.43,87.69 C598.7,87.87 598.98,88.05 599.25,88.23 C599.53,88.42 599.8,88.6 600.08,88.78 C600.36,88.96 600.63,89.14 600.91,89.32 C601.18,89.5 601.46,89.69 601.73,89.87 C602.01,90.05 602.28,90.23 602.56,90.42 C602.83,90.6 603.11,90.79 603.38,90.97 C603.66,91.16 603.94,91.34 604.21,91.53 C604.49,91.71 604.76,91.9 605.04,92.09 C605.31,92.27 605.59,92.46 605.86,92.65 C606.14,92.84 606.41,93.03 606.69,93.22 C606.97,93.4 607.24,93.6 607.52,93.79 C607.79,93.98 608.07,94.17 608.34,94.36 C608.62,94.56 608.89,94.75 609.17,94.95 C609.44,95.14 609.72,95.34 609.99,95.53 C610.27,95.73 610.55,95.93 610.82,96.12 C611.1,96.32 611.37,96.52 611.65,96.71 C611.92,96.91 612.2,97.11 612.47,97.3 C612.75,97.5 613.02,97.7 613.3,97.9 C613.58,98.11 613.85,98.31 614.13,98.51 C614.4,98.72 614.68,98.92 614.95,99.13 C615.23,99.34 615.5,99.55 615.78,99.77 C616.05,99.99 616.33,100.21 616.61,100.45 C616.88,100.69 617.16,100.93 617.43,101.19 C617.71,101.45 617.98,101.72 618.26,102 C618.53,102.28 618.81,102.57 619.08,102.89 C619.36,103.2 619.63,103.53 619.91,103.88 C620.19,104.23 620.46,104.6 620.74,104.98 C621.01,105.37 621.29,105.78 621.56,106.21 C621.84,106.64 622.11,107.09 622.39,107.56 C622.66,108.03 622.94,108.52 623.22,109.03 C623.49,109.55 623.77,110.08 624.04,110.64 C624.32,111.21 624.59,111.79 624.87,112.43 C625.14,113.06 625.42,113.73 625.69,114.45 C625.97,115.17 626.24,115.93 626.52,116.74 C626.8,117.55 627.07,118.35 627.35,119.31 C627.62,120.27 627.9,121.29 628.17,122.47 C628.45,123.66 628.72,125.01 629,126.43 C629.27,127.84 629.55,129.39 629.83,130.96 C630.1,132.53 630.51,135.04 630.65,135.85" fill="none" stroke="#3dbdb2" stroke-width="1.35"/>
<path d="M531.5,136.08 C531.62,134.66 532,130.26 532.25,127.57 C532.49,124.87 532.74,122.27 532.99,119.91 C533.24,117.55 533.49,115.34 533.74,113.43 C533.99,111.51 534.24,109.86 534.48,108.42 C534.73,106.97 534.98,105.88 535.23,104.75 C535.48,103.63 535.73,102.6 535.98,101.66 C536.22,100.73 536.47,99.88 536.72,99.13 C536.97,98.37 537.22,97.72 537.47,97.15 C537.72,96.57 537.97,96.11 538.21,95.66 C538.46,95.2 538.71,94.8 538.96,94.41 C539.21,94.03 539.46,93.68 539.71,93.36 C539.95,93.03 540.2,92.74 540.45,92.47 C540.7,92.19 540.95,91.94 541.2,91.71 C541.45,91.47 541.7,91.26 541.94,91.06 C542.19,90.86 542.44,90.67 542.69,90.5 C542.94,90.32 543.19,90.16 543.44,90.01 C543.68,89.85 543.93,89.71 544.18,89.56 C544.43,89.42 544.68,89.28 544.93,89.15 C545.18,89.01 545.43,88.88 545.67,88.74 C545.92,88.6 546.17,88.46 546.42,88.31 C546.67,88.17 546.92,88.02 547.17,87.87 C547.41,87.72 547.66,87.57 547.91,87.42 C548.16,87.28 548.41,87.13 548.66,86.99 C548.91,86.84 549.16,86.7 549.4,86.56 C549.65,86.41 549.9,86.27 550.15,86.13 C550.4,85.98 550.65,85.84 550.9,85.7 C551.14,85.56 551.39,85.41 551.64,85.27 C551.89,85.12 552.14,84.98 552.39,84.84 C552.64,84.69 552.89,84.54 553.13,84.4 C553.38,84.25 553.63,84.1 553.88,83.96 C554.13,83.81 554.38,83.66 554.63,83.52 C554.87,83.37 555.12,83.22 555.37,83.08 C555.62,82.93 555.87,82.78 556.12,82.64 C556.37,82.49 556.62,82.34 556.86,82.2 C557.11,82.05 557.36,81.9 557.61,81.76 C557.86,81.61 558.11,81.46 558.36,81.32 C558.6,81.17 558.85,81.03 559.1,80.88 C559.35,80.73 559.6,80.59 559.85,80.44 C560.1,80.29 560.35,80.15 560.59,80 C560.84,79.85 561.09,79.7 561.34,79.56 C561.59,79.41 561.84,79.26 562.09,79.12 C562.33,78.97 562.58,78.82 562.83,78.67 C563.08,78.53 563.33,78.38 563.58,78.23 C563.83,78.08 564.08,77.93 564.32,77.78 C564.57,77.64 564.82,77.49 565.07,77.34 C565.32,77.19 565.57,77.04 565.82,76.89 C566.06,76.74 566.31,76.59 566.56,76.44 C566.81,76.29 567.06,76.14 567.31,75.99 C567.56,75.84 567.81,75.69 568.05,75.54 C568.3,75.39 568.55,75.24 568.8,75.08 C569.05,74.93 569.3,74.78 569.55,74.63 C569.79,74.47 570.04,74.32 570.29,74.17 C570.54,74.01 570.79,73.86 571.04,73.71 C571.29,73.55 571.54,73.4 571.78,73.24 C572.03,73.09 572.28,72.93 572.53,72.78 C572.78,72.62 573.03,72.47 573.28,72.31 C573.52,72.15 573.77,71.99 574.02,71.84 C574.27,71.68 574.52,71.52 574.77,71.36 C575.02,71.2 575.27,71.04 575.51,70.88 C575.76,70.72 576.01,70.56 576.26,70.4 C576.51,70.24 576.76,70.08 577.01,69.91 C577.25,69.75 577.5,69.58 577.75,69.42 C578,69.25 578.25,69.09 578.5,68.92 C578.75,68.75 579,68.58 579.24,68.41 C579.49,68.24 579.74,68.07 579.99,67.9 C580.24,67.73 580.49,67.55 580.74,67.38 C580.98,67.21 581.23,67.03 581.48,66.86 C581.73,66.69 581.98,66.51 582.23,66.34 C582.48,66.16 582.73,65.98 582.97,65.81 C583.22,65.63 583.47,65.45 583.72,65.28 C583.97,65.1 584.22,64.92 584.47,64.74 C584.71,64.57 584.96,64.39 585.21,64.21 C585.46,64.03 585.71,63.85 585.96,63.67 C586.21,63.5 586.46,63.32 586.7,63.14 C586.95,62.96 587.2,62.78 587.45,62.6 C587.7,62.42 587.95,62.24 588.2,62.07 C588.44,61.89 588.69,61.71 588.94,61.53 C589.19,61.35 589.44,61.17 589.69,61 C589.94,60.82 590.19,60.64 590.43,60.46 C590.68,60.29 590.93,60.11 591.18,59.93 C591.43,59.76 591.68,59.58 591.93,59.41 C592.17,59.23 592.42,59.06 592.67,58.88 C592.92,58.71 593.17,58.54 593.42,58.37 C593.67,58.19 593.92,58.02 594.16,57.85 C594.41,57.68 594.66,57.51 594.91,57.34 C595.16,57.17 595.41,57 595.66,56.83 C595.9,56.67 596.15,56.5 596.4,56.34 C596.65,56.17 596.9,56.01 597.15,55.84 C597.4,55.68 597.65,55.52 597.89,55.36 C598.14,55.2 598.39,55.04 598.64,54.88 C598.89,54.72 599.14,54.56 599.39,54.41 C599.63,54.26 599.88,54.11 600.13,53.97 C600.38,53.83 600.63,53.69 600.88,53.55 C601.13,53.41 601.38,53.27 601.62,53.14 C601.87,53 602.12,52.87 602.37,52.73 C602.62,52.59 602.87,52.46 603.12,52.32 C603.36,52.18 603.61,52.05 603.86,51.9 C604.11,51.76 604.36,51.62 604.61,51.47 C604.86,51.32 605.11,51.16 605.35,51.01 C605.6,50.85 605.85,50.68 606.1,50.51 C606.35,50.34 606.6,50.16 606.85,49.98 C607.09,49.79 607.34,49.6 607.59,49.41 C607.84,49.21 608.09,49.01 608.34,48.8 C608.59,48.59 608.84,48.37 609.08,48.13 C609.33,47.9 609.58,47.66 609.83,47.4 C610.08,47.14 610.33,46.87 610.58,46.58 C610.82,46.29 611.07,45.98 611.32,45.64 C611.57,45.31 611.82,44.94 612.07,44.56 C612.32,44.18 612.57,43.77 612.81,43.35 C613.06,42.93 613.31,42.49 613.56,42.04 C613.81,41.58 614.06,41.11 614.31,40.63 C614.55,40.15 614.8,39.66 615.05,39.16 C615.3,38.65 615.55,38.15 615.8,37.6 C616.05,37.06 616.29,36.49 616.54,35.89 C616.79,35.29 617.04,34.66 617.29,34 C617.54,33.34 617.79,32.66 618.04,31.94 C618.28,31.22 618.53,30.47 618.78,29.66 C619.03,28.85 619.28,27.99 619.53,27.08 C619.78,26.18 620.02,25.22 620.27,24.24 C620.52,23.25 620.9,21.68 621.02,21.17" fill="none" stroke="#f2a86c" stroke-width="1.35"/>
<path d="M531.5,21.93 C531.63,22.48 532.01,24.14 532.27,25.22 C532.53,26.3 532.79,27.37 533.04,28.42 C533.3,29.47 533.56,30.51 533.81,31.53 C534.07,32.55 534.33,33.54 534.58,34.56 C534.84,35.59 535.1,36.66 535.36,37.67 C535.61,38.68 535.87,39.72 536.13,40.62 C536.38,41.52 536.64,42.34 536.9,43.07 C537.16,43.8 537.41,44.4 537.67,45.01 C537.93,45.62 538.18,46.19 538.44,46.73 C538.7,47.27 538.95,47.77 539.21,48.25 C539.47,48.73 539.73,49.18 539.98,49.62 C540.24,50.05 540.5,50.46 540.75,50.85 C541.01,51.24 541.27,51.61 541.53,51.97 C541.78,52.33 542.04,52.67 542.3,52.99 C542.55,53.31 542.81,53.61 543.07,53.89 C543.32,54.18 543.58,54.43 543.84,54.68 C544.1,54.93 544.35,55.16 544.61,55.39 C544.87,55.62 545.12,55.84 545.38,56.06 C545.64,56.27 545.9,56.48 546.15,56.68 C546.41,56.88 546.67,57.07 546.92,57.25 C547.18,57.44 547.44,57.62 547.69,57.8 C547.95,57.97 548.21,58.14 548.47,58.3 C548.72,58.47 548.98,58.62 549.24,58.78 C549.49,58.93 549.75,59.08 550.01,59.22 C550.27,59.36 550.52,59.5 550.78,59.63 C551.04,59.75 551.29,59.88 551.55,59.99 C551.81,60.11 552.06,60.22 552.32,60.33 C552.58,60.44 552.84,60.55 553.09,60.65 C553.35,60.75 553.61,60.85 553.86,60.95 C554.12,61.06 554.38,61.16 554.64,61.26 C554.89,61.36 555.15,61.46 555.41,61.57 C555.66,61.67 555.92,61.78 556.18,61.89 C556.43,62.01 556.69,62.12 556.95,62.25 C557.21,62.37 557.46,62.5 557.72,62.63 C557.98,62.76 558.23,62.9 558.49,63.04 C558.75,63.18 559.01,63.32 559.26,63.46 C559.52,63.61 559.78,63.75 560.03,63.9 C560.29,64.05 560.55,64.2 560.8,64.35 C561.06,64.5 561.32,64.66 561.58,64.81 C561.83,64.97 562.09,65.13 562.35,65.29 C562.6,65.45 562.86,65.61 563.12,65.77 C563.38,65.93 563.63,66.1 563.89,66.27 C564.15,66.43 564.4,66.6 564.66,66.77 C564.92,66.94 565.17,67.11 565.43,67.29 C565.69,67.46 565.95,67.63 566.2,67.81 C566.46,67.99 566.72,68.16 566.97,68.34 C567.23,68.52 567.49,68.7 567.75,68.88 C568,69.06 568.26,69.24 568.52,69.42 C568.77,69.61 569.03,69.79 569.29,69.97 C569.54,70.16 569.8,70.34 570.06,70.53 C570.32,70.72 570.57,70.9 570.83,71.09 C571.09,71.28 571.34,71.47 571.6,71.65 C571.86,71.84 572.12,72.03 572.37,72.22 C572.63,72.41 572.89,72.6 573.14,72.79 C573.4,72.98 573.66,73.17 573.91,73.36 C574.17,73.56 574.43,73.75 574.69,73.94 C574.94,74.13 575.2,74.32 575.46,74.51 C575.71,74.7 575.97,74.89 576.23,75.09 C576.49,75.28 576.74,75.47 577,75.66 C577.26,75.85 577.51,76.04 577.77,76.23 C578.03,76.42 578.28,76.61 578.54,76.8 C578.8,76.99 579.06,77.18 579.31,77.37 C579.57,77.56 579.83,77.75 580.08,77.93 C580.34,78.12 580.6,78.31 580.86,78.49 C581.11,78.68 581.37,78.87 581.63,79.05 C581.88,79.24 582.14,79.42 582.4,79.6 C582.65,79.78 582.91,79.97 583.17,80.15 C583.43,80.33 583.68,80.51 583.94,80.69 C584.2,80.87 584.45,81.05 584.71,81.23 C584.97,81.4 585.23,81.58 585.48,81.76 C585.74,81.94 586,82.12 586.25,82.29 C586.51,82.47 586.77,82.65 587.02,82.83 C587.28,83 587.54,83.18 587.8,83.36 C588.05,83.53 588.31,83.71 588.57,83.89 C588.82,84.06 589.08,84.24 589.34,84.41 C589.6,84.59 589.85,84.77 590.11,84.94 C590.37,85.12 590.62,85.3 590.88,85.47 C591.14,85.65 591.39,85.82 591.65,86 C591.91,86.18 592.17,86.35 592.42,86.53 C592.68,86.71 592.94,86.89 593.19,87.06 C593.45,87.24 593.71,87.42 593.97,87.6 C594.22,87.77 594.48,87.95 594.74,88.13 C594.99,88.31 595.25,88.49 595.51,88.67 C595.76,88.85 596.02,89.03 596.28,89.21 C596.54,89.39 596.79,89.57 597.05,89.76 C597.31,89.94 597.56,90.12 597.82,90.3 C598.08,90.49 598.34,90.67 598.59,90.86 C598.85,91.04 599.11,91.23 599.36,91.41 C599.62,91.6 599.88,91.79 600.13,91.98 C600.39,92.16 600.65,92.35 600.91,92.54 C601.16,92.73 601.42,92.92 601.68,93.12 C601.93,93.31 602.19,93.5 602.45,93.69 C602.71,93.89 602.96,94.08 603.22,94.28 C603.48,94.48 603.73,94.67 603.99,94.87 C604.25,95.07 604.5,95.27 604.76,95.47 C605.02,95.67 605.28,95.88 605.53,96.08 C605.79,96.28 606.05,96.49 606.3,96.69 C606.56,96.9 606.82,97.11 607.08,97.32 C607.33,97.53 607.59,97.74 607.85,97.95 C608.1,98.16 608.36,98.38 608.62,98.59 C608.87,98.8 609.13,99.01 609.39,99.23 C609.65,99.45 609.9,99.66 610.16,99.88 C610.42,100.1 610.67,100.33 610.93,100.56 C611.19,100.8 611.45,101.04 611.7,101.29 C611.96,101.54 612.22,101.8 612.47,102.08 C612.73,102.36 612.99,102.65 613.24,102.96 C613.5,103.27 613.76,103.59 614.02,103.94 C614.27,104.28 614.53,104.64 614.79,105.02 C615.04,105.41 615.3,105.81 615.56,106.23 C615.82,106.65 616.07,107.1 616.33,107.56 C616.59,108.02 616.84,108.5 617.1,109 C617.36,109.5 617.61,110.01 617.87,110.56 C618.13,111.11 618.39,111.67 618.64,112.28 C618.9,112.89 619.16,113.53 619.41,114.22 C619.67,114.91 619.93,115.63 620.19,116.41 C620.44,117.2 620.7,117.98 620.96,118.93 C621.21,119.87 621.47,120.89 621.73,122.09 C621.98,123.29 622.24,124.68 622.5,126.13 C622.76,127.58 623.01,129.17 623.27,130.79 C623.53,132.41 623.91,135.01 624.04,135.85" fill="none" stroke="#f2a86c" stroke-width="1.35"/>
<rect x="531.5" y="6.3" width="179.5" height="145" fill="none" stroke="#2a2a2a" stroke-width="1.3"/>
<text x="543" y="20.8" font-size="9" fill="#111">Unit: A g<tspan font-size="5.8" dy="-3.6">-1</tspan></text>
<text x="613.2" y="16.1" font-size="8.3" fill="#f2a86c" stroke="#f2a86c" stroke-width="0.2">10</text>
<text x="627.2" y="16.1" font-size="8.3" fill="#3dbdb2" stroke="#3dbdb2" stroke-width="0.2">8</text>
<text x="637" y="16.1" font-size="8.3" fill="#bd82f0" stroke="#bd82f0" stroke-width="0.2">5</text>
<text x="646.7" y="16.1" font-size="8.3" fill="#2a8a80" stroke="#2a8a80" stroke-width="0.2">3</text>
<text x="656.5" y="16.1" font-size="8.3" fill="#2f66d8" stroke="#2f66d8" stroke-width="0.2">2</text>
<text x="666.3" y="16.1" font-size="8.3" fill="#1a1a1a" stroke="#1a1a1a" stroke-width="0.2">1</text>
<text x="676.4" y="16.1" font-size="8.3" fill="#e8262c" stroke="#e8262c" stroke-width="0.2">0.5</text>
<line x1="614" y1="18.8" x2="692" y2="18.8" stroke="#888" stroke-width="0.9" stroke-dasharray="3.5,4"/>
<path d="M606.3,18.8 L610.5,17.2 L610.5,20.4 Z" fill="#666"/>
<text x="10.6" y="200" font-size="25">d</text>
<line x1="82.76" y1="197" x2="82.76" y2="309" stroke="#b0b0b0" stroke-width="0.8" stroke-dasharray="1.6,2.2"/>
<line x1="109.62" y1="197" x2="109.62" y2="309" stroke="#b0b0b0" stroke-width="0.8" stroke-dasharray="1.6,2.2"/>
<line x1="136.48" y1="197" x2="136.48" y2="309" stroke="#b0b0b0" stroke-width="0.8" stroke-dasharray="1.6,2.2"/>
<line x1="163.34" y1="197" x2="163.34" y2="309" stroke="#b0b0b0" stroke-width="0.8" stroke-dasharray="1.6,2.2"/>
<line x1="190.2" y1="197" x2="190.2" y2="309" stroke="#b0b0b0" stroke-width="0.8" stroke-dasharray="1.6,2.2"/>
<line x1="217.06" y1="197" x2="217.06" y2="309" stroke="#b0b0b0" stroke-width="0.8" stroke-dasharray="1.6,2.2"/>
<line x1="243.92" y1="197" x2="243.92" y2="309" stroke="#b0b0b0" stroke-width="0.8" stroke-dasharray="1.6,2.2"/>
<line x1="270.78" y1="197" x2="270.78" y2="309" stroke="#b0b0b0" stroke-width="0.8" stroke-dasharray="1.6,2.2"/>
<line x1="297.64" y1="197" x2="297.64" y2="309" stroke="#b0b0b0" stroke-width="0.8" stroke-dasharray="1.6,2.2"/>
<line x1="324.5" y1="197" x2="324.5" y2="309" stroke="#b0b0b0" stroke-width="0.8" stroke-dasharray="1.6,2.2"/>
<line x1="351.36" y1="197" x2="351.36" y2="309" stroke="#b0b0b0" stroke-width="0.8" stroke-dasharray="1.6,2.2"/>
<line x1="378.22" y1="197" x2="378.22" y2="309" stroke="#b0b0b0" stroke-width="0.8" stroke-dasharray="1.6,2.2"/>
<line x1="55.9" y1="341" x2="55.9" y2="344.2" stroke="#2a2a2a" stroke-width="1.1"/>
<line x1="109.62" y1="341" x2="109.62" y2="344.2" stroke="#2a2a2a" stroke-width="1.1"/>
<line x1="163.34" y1="341" x2="163.34" y2="344.2" stroke="#2a2a2a" stroke-width="1.1"/>
<line x1="217.06" y1="341" x2="217.06" y2="344.2" stroke="#2a2a2a" stroke-width="1.1"/>
<line x1="270.78" y1="341" x2="270.78" y2="344.2" stroke="#2a2a2a" stroke-width="1.1"/>
<line x1="324.5" y1="341" x2="324.5" y2="344.2" stroke="#2a2a2a" stroke-width="1.1"/>
<line x1="378.22" y1="341" x2="378.22" y2="344.2" stroke="#2a2a2a" stroke-width="1.1"/>
<line x1="82.76" y1="341" x2="82.76" y2="342.8" stroke="#2a2a2a" stroke-width="1.1"/>
<line x1="136.48" y1="341" x2="136.48" y2="342.8" stroke="#2a2a2a" stroke-width="1.1"/>
<line x1="190.2" y1="341" x2="190.2" y2="342.8" stroke="#2a2a2a" stroke-width="1.1"/>
<line x1="243.92" y1="341" x2="243.92" y2="342.8" stroke="#2a2a2a" stroke-width="1.1"/>
<line x1="297.64" y1="341" x2="297.64" y2="342.8" stroke="#2a2a2a" stroke-width="1.1"/>
<line x1="351.36" y1="341" x2="351.36" y2="342.8" stroke="#2a2a2a" stroke-width="1.1"/>
<line x1="405.08" y1="341" x2="405.08" y2="342.8" stroke="#2a2a2a" stroke-width="1.1"/>
<line x1="55.9" y1="313.8" x2="52.7" y2="313.8" stroke="#2a2a2a" stroke-width="1.1"/>
<line x1="55.9" y1="274.5" x2="52.7" y2="274.5" stroke="#2a2a2a" stroke-width="1.1"/>
<line x1="55.9" y1="235.2" x2="52.7" y2="235.2" stroke="#2a2a2a" stroke-width="1.1"/>
<line x1="55.9" y1="195.9" x2="52.7" y2="195.9" stroke="#2a2a2a" stroke-width="1.1"/>
<line x1="55.9" y1="333.45" x2="54.1" y2="333.45" stroke="#2a2a2a" stroke-width="1.1"/>
<line x1="55.9" y1="294.15" x2="54.1" y2="294.15" stroke="#2a2a2a" stroke-width="1.1"/>
<line x1="55.9" y1="254.85" x2="54.1" y2="254.85" stroke="#2a2a2a" stroke-width="1.1"/>
<line x1="55.9" y1="215.55" x2="54.1" y2="215.55" stroke="#2a2a2a" stroke-width="1.1"/>
<text x="55.9" y="356.2" font-size="12.3" text-anchor="middle">0</text>
<text x="109.62" y="356.2" font-size="12.3" text-anchor="middle">20</text>
<text x="163.34" y="356.2" font-size="12.3" text-anchor="middle">40</text>
<text x="217.06" y="356.2" font-size="12.3" text-anchor="middle">60</text>
<text x="270.78" y="356.2" font-size="12.3" text-anchor="middle">80</text>
<text x="324.5" y="356.2" font-size="12.3" text-anchor="middle">100</text>
<text x="378.22" y="356.2" font-size="12.3" text-anchor="middle">120</text>
<text x="50.5" y="318" font-size="12.3" text-anchor="end">80</text>
<text x="50.5" y="278.7" font-size="12.3" text-anchor="end">120</text>
<text x="50.5" y="239.4" font-size="12.3" text-anchor="end">160</text>
<text x="50.5" y="200.1" font-size="12.3" text-anchor="end">200</text>
<g transform="translate(27.6 264.5) rotate(-90) scale(1.05 1)"><text x="0" y="0" font-size="12" text-anchor="middle" fill="#111">Capacity (mAh g<tspan font-size="8" dy="-4.8">-1</tspan><tspan dy="4.8">)</tspan></text></g>
<g transform="translate(226.2 368.1) scale(1.05 1)"><text x="0" y="0" font-size="12" text-anchor="middle" fill="#111">Cycle Number</text></g>
<line x1="405.1" y1="341.4" x2="408.3" y2="341.4" stroke="#ec4e58" stroke-width="1.1"/>
<text x="409.5" y="345.6" font-size="12.3" fill="#d8262e">0</text>
<line x1="405.1" y1="316.16" x2="408.3" y2="316.16" stroke="#ec4e58" stroke-width="1.1"/>
<text x="409.5" y="320.36" font-size="12.3" fill="#d8262e">20</text>
<line x1="405.1" y1="290.92" x2="408.3" y2="290.92" stroke="#ec4e58" stroke-width="1.1"/>
<text x="409.5" y="295.12" font-size="12.3" fill="#d8262e">40</text>
<line x1="405.1" y1="265.68" x2="408.3" y2="265.68" stroke="#ec4e58" stroke-width="1.1"/>
<text x="409.5" y="269.88" font-size="12.3" fill="#d8262e">60</text>
<line x1="405.1" y1="240.44" x2="408.3" y2="240.44" stroke="#ec4e58" stroke-width="1.1"/>
<text x="409.5" y="244.64" font-size="12.3" fill="#d8262e">80</text>
<line x1="405.1" y1="215.2" x2="408.3" y2="215.2" stroke="#ec4e58" stroke-width="1.1"/>
<text x="409.5" y="219.4" font-size="12.3" fill="#d8262e">100</text>
<g transform="translate(442.5 269) rotate(-90) scale(1.05 1)"><text x="0" y="0" font-size="12" text-anchor="middle" fill="#d8262e">Coulombic efficiency (%)</text></g>
<circle cx="56.97" cy="214.19" r="2.3" fill="#e8607a"/><circle cx="56.87" cy="214.09" r="0.6" fill="#fff"/>
<circle cx="59.66" cy="214.19" r="2.3" fill="#e8607a"/><circle cx="59.56" cy="214.09" r="0.6" fill="#fff"/>
<circle cx="62.35" cy="214.19" r="2.3" fill="#e8607a"/><circle cx="62.25" cy="214.09" r="0.6" fill="#fff"/>
<circle cx="65.03" cy="214.19" r="2.3" fill="#e8607a"/><circle cx="64.93" cy="214.09" r="0.6" fill="#fff"/>
<circle cx="67.72" cy="214.19" r="2.3" fill="#e8607a"/><circle cx="67.62" cy="214.09" r="0.6" fill="#fff"/>
<circle cx="70.4" cy="216.59" r="2.3" fill="#e8607a"/><circle cx="70.3" cy="216.49" r="0.6" fill="#fff"/>
<circle cx="73.09" cy="216.59" r="2.3" fill="#e8607a"/><circle cx="72.99" cy="216.49" r="0.6" fill="#fff"/>
<circle cx="75.78" cy="216.59" r="2.3" fill="#e8607a"/><circle cx="75.68" cy="216.49" r="0.6" fill="#fff"/>
<circle cx="78.46" cy="216.59" r="2.3" fill="#e8607a"/><circle cx="78.36" cy="216.49" r="0.6" fill="#fff"/>
<circle cx="81.15" cy="216.59" r="2.3" fill="#e8607a"/><circle cx="81.05" cy="216.49" r="0.6" fill="#fff"/>
<circle cx="83.83" cy="220.12" r="2.3" fill="#e8607a"/><circle cx="83.73" cy="220.02" r="0.6" fill="#fff"/>
<circle cx="86.52" cy="215.84" r="2.3" fill="#e8607a"/><circle cx="86.42" cy="215.74" r="0.6" fill="#fff"/>
<circle cx="89.21" cy="216.55" r="2.3" fill="#e8607a"/><circle cx="89.11" cy="216.45" r="0.6" fill="#fff"/>
<circle cx="91.89" cy="215.99" r="2.3" fill="#e8607a"/><circle cx="91.79" cy="215.89" r="0.6" fill="#fff"/>
<circle cx="94.58" cy="215.48" r="2.3" fill="#e8607a"/><circle cx="94.48" cy="215.38" r="0.6" fill="#fff"/>
<circle cx="97.26" cy="215.43" r="2.3" fill="#e8607a"/><circle cx="97.16" cy="215.33" r="0.6" fill="#fff"/>
<circle cx="99.95" cy="214.57" r="2.3" fill="#e8607a"/><circle cx="99.85" cy="214.47" r="0.6" fill="#fff"/>
<circle cx="102.64" cy="214.57" r="2.3" fill="#e8607a"/><circle cx="102.54" cy="214.47" r="0.6" fill="#fff"/>
<circle cx="105.32" cy="214.57" r="2.3" fill="#e8607a"/><circle cx="105.22" cy="214.47" r="0.6" fill="#fff"/>
<circle cx="108.01" cy="214.57" r="2.3" fill="#e8607a"/><circle cx="107.91" cy="214.47" r="0.6" fill="#fff"/>
<circle cx="110.69" cy="218.35" r="2.3" fill="#e8607a"/><circle cx="110.59" cy="218.25" r="0.6" fill="#fff"/>
<circle cx="113.38" cy="216.21" r="2.3" fill="#e8607a"/><circle cx="113.28" cy="216.11" r="0.6" fill="#fff"/>
<circle cx="116.07" cy="216.1" r="2.3" fill="#e8607a"/><circle cx="115.97" cy="216" r="0.6" fill="#fff"/>
<circle cx="118.75" cy="215.85" r="2.3" fill="#e8607a"/><circle cx="118.65" cy="215.75" r="0.6" fill="#fff"/>
<circle cx="121.44" cy="215.45" r="2.3" fill="#e8607a"/><circle cx="121.34" cy="215.35" r="0.6" fill="#fff"/>
<circle cx="124.12" cy="215.42" r="2.3" fill="#e8607a"/><circle cx="124.02" cy="215.32" r="0.6" fill="#fff"/>
<circle cx="126.81" cy="215.34" r="2.3" fill="#e8607a"/><circle cx="126.71" cy="215.24" r="0.6" fill="#fff"/>
<circle cx="129.5" cy="216.38" r="2.3" fill="#e8607a"/><circle cx="129.4" cy="216.28" r="0.6" fill="#fff"/>
<circle cx="132.18" cy="215.37" r="2.3" fill="#e8607a"/><circle cx="132.08" cy="215.27" r="0.6" fill="#fff"/>
<circle cx="134.87" cy="215.87" r="2.3" fill="#e8607a"/><circle cx="134.77" cy="215.77" r="0.6" fill="#fff"/>
<circle cx="137.55" cy="217.6" r="2.3" fill="#e8607a"/><circle cx="137.45" cy="217.5" r="0.6" fill="#fff"/>
<circle cx="140.24" cy="215.86" r="2.3" fill="#e8607a"/><circle cx="140.14" cy="215.76" r="0.6" fill="#fff"/>
<circle cx="142.93" cy="216.51" r="2.3" fill="#e8607a"/><circle cx="142.83" cy="216.41" r="0.6" fill="#fff"/>
<circle cx="145.61" cy="215.34" r="2.3" fill="#e8607a"/><circle cx="145.51" cy="215.24" r="0.6" fill="#fff"/>
<circle cx="148.3" cy="215.58" r="2.3" fill="#e8607a"/><circle cx="148.2" cy="215.48" r="0.6" fill="#fff"/>
<circle cx="150.98" cy="216.4" r="2.3" fill="#e8607a"/><circle cx="150.88" cy="216.3" r="0.6" fill="#fff"/>
<circle cx="153.67" cy="215.62" r="2.3" fill="#e8607a"/><circle cx="153.57" cy="215.52" r="0.6" fill="#fff"/>
<circle cx="156.36" cy="216.53" r="2.3" fill="#e8607a"/><circle cx="156.26" cy="216.43" r="0.6" fill="#fff"/>
<circle cx="159.04" cy="216.53" r="2.3" fill="#e8607a"/><circle cx="158.94" cy="216.43" r="0.6" fill="#fff"/>
<circle cx="161.73" cy="216.17" r="2.3" fill="#e8607a"/><circle cx="161.63" cy="216.07" r="0.6" fill="#fff"/>
<circle cx="164.41" cy="219.62" r="2.3" fill="#e8607a"/><circle cx="164.31" cy="219.52" r="0.6" fill="#fff"/>
<circle cx="167.1" cy="215.33" r="2.3" fill="#e8607a"/><circle cx="167" cy="215.23" r="0.6" fill="#fff"/>
<circle cx="169.79" cy="216.49" r="2.3" fill="#e8607a"/><circle cx="169.69" cy="216.39" r="0.6" fill="#fff"/>
<circle cx="172.47" cy="216.55" r="2.3" fill="#e8607a"/><circle cx="172.37" cy="216.45" r="0.6" fill="#fff"/>
<circle cx="175.16" cy="216.07" r="2.3" fill="#e8607a"/><circle cx="175.06" cy="215.97" r="0.6" fill="#fff"/>
<circle cx="177.84" cy="216.39" r="2.3" fill="#e8607a"/><circle cx="177.74" cy="216.29" r="0.6" fill="#fff"/>
<circle cx="180.53" cy="215.49" r="2.3" fill="#e8607a"/><circle cx="180.43" cy="215.39" r="0.6" fill="#fff"/>
<circle cx="183.22" cy="215.38" r="2.3" fill="#e8607a"/><circle cx="183.12" cy="215.28" r="0.6" fill="#fff"/>
<circle cx="185.9" cy="216.11" r="2.3" fill="#e8607a"/><circle cx="185.8" cy="216.01" r="0.6" fill="#fff"/>
<circle cx="188.59" cy="215.93" r="2.3" fill="#e8607a"/><circle cx="188.49" cy="215.83" r="0.6" fill="#fff"/>
<circle cx="191.27" cy="216.71" r="2.3" fill="#e8607a"/><circle cx="191.17" cy="216.61" r="0.6" fill="#fff"/>
<circle cx="193.96" cy="215.81" r="2.3" fill="#e8607a"/><circle cx="193.86" cy="215.71" r="0.6" fill="#fff"/>
<circle cx="196.65" cy="215.95" r="2.3" fill="#e8607a"/><circle cx="196.55" cy="215.85" r="0.6" fill="#fff"/>
<circle cx="199.33" cy="215.68" r="2.3" fill="#e8607a"/><circle cx="199.23" cy="215.58" r="0.6" fill="#fff"/>
<circle cx="202.02" cy="216.21" r="2.3" fill="#e8607a"/><circle cx="201.92" cy="216.11" r="0.6" fill="#fff"/>
<circle cx="204.7" cy="215.93" r="2.3" fill="#e8607a"/><circle cx="204.6" cy="215.83" r="0.6" fill="#fff"/>
<circle cx="207.39" cy="216.57" r="2.3" fill="#e8607a"/><circle cx="207.29" cy="216.47" r="0.6" fill="#fff"/>
<circle cx="210.08" cy="215.86" r="2.3" fill="#e8607a"/><circle cx="209.98" cy="215.76" r="0.6" fill="#fff"/>
<circle cx="212.76" cy="215.81" r="2.3" fill="#e8607a"/><circle cx="212.66" cy="215.71" r="0.6" fill="#fff"/>
<circle cx="215.45" cy="216.51" r="2.3" fill="#e8607a"/><circle cx="215.35" cy="216.41" r="0.6" fill="#fff"/>
<circle cx="218.13" cy="219.62" r="2.3" fill="#e8607a"/><circle cx="218.03" cy="219.52" r="0.6" fill="#fff"/>
<circle cx="220.82" cy="216.14" r="2.3" fill="#e8607a"/><circle cx="220.72" cy="216.04" r="0.6" fill="#fff"/>
<circle cx="223.51" cy="215.66" r="2.3" fill="#e8607a"/><circle cx="223.41" cy="215.56" r="0.6" fill="#fff"/>
<circle cx="226.19" cy="216.51" r="2.3" fill="#e8607a"/><circle cx="226.09" cy="216.41" r="0.6" fill="#fff"/>
<circle cx="228.88" cy="215.37" r="2.3" fill="#e8607a"/><circle cx="228.78" cy="215.27" r="0.6" fill="#fff"/>
<circle cx="231.56" cy="216.01" r="2.3" fill="#e8607a"/><circle cx="231.46" cy="215.91" r="0.6" fill="#fff"/>
<circle cx="234.25" cy="216.18" r="2.3" fill="#e8607a"/><circle cx="234.15" cy="216.08" r="0.6" fill="#fff"/>
<circle cx="236.94" cy="216.19" r="2.3" fill="#e8607a"/><circle cx="236.84" cy="216.09" r="0.6" fill="#fff"/>
<circle cx="239.62" cy="215.84" r="2.3" fill="#e8607a"/><circle cx="239.52" cy="215.74" r="0.6" fill="#fff"/>
<circle cx="242.31" cy="216.11" r="2.3" fill="#e8607a"/><circle cx="242.21" cy="216.01" r="0.6" fill="#fff"/>
<circle cx="244.99" cy="213.18" r="2.3" fill="#e8607a"/><circle cx="244.89" cy="213.08" r="0.6" fill="#fff"/>
<circle cx="247.68" cy="215.66" r="2.3" fill="#e8607a"/><circle cx="247.58" cy="215.56" r="0.6" fill="#fff"/>
<circle cx="250.37" cy="216.31" r="2.3" fill="#e8607a"/><circle cx="250.27" cy="216.21" r="0.6" fill="#fff"/>
<circle cx="253.05" cy="216.29" r="2.3" fill="#e8607a"/><circle cx="252.95" cy="216.19" r="0.6" fill="#fff"/>
<circle cx="255.74" cy="216.04" r="2.3" fill="#e8607a"/><circle cx="255.64" cy="215.94" r="0.6" fill="#fff"/>
<circle cx="258.42" cy="216.46" r="2.3" fill="#e8607a"/><circle cx="258.32" cy="216.36" r="0.6" fill="#fff"/>
<circle cx="261.11" cy="216.17" r="2.3" fill="#e8607a"/><circle cx="261.01" cy="216.07" r="0.6" fill="#fff"/>
<circle cx="263.8" cy="216.03" r="2.3" fill="#e8607a"/><circle cx="263.7" cy="215.93" r="0.6" fill="#fff"/>
<circle cx="266.48" cy="216.37" r="2.3" fill="#e8607a"/><circle cx="266.38" cy="216.27" r="0.6" fill="#fff"/>
<circle cx="269.17" cy="215.77" r="2.3" fill="#e8607a"/><circle cx="269.07" cy="215.67" r="0.6" fill="#fff"/>
<circle cx="271.85" cy="211.54" r="2.3" fill="#e8607a"/><circle cx="271.75" cy="211.44" r="0.6" fill="#fff"/>
<circle cx="274.54" cy="216.44" r="2.3" fill="#e8607a"/><circle cx="274.44" cy="216.34" r="0.6" fill="#fff"/>
<circle cx="277.23" cy="216.35" r="2.3" fill="#e8607a"/><circle cx="277.13" cy="216.25" r="0.6" fill="#fff"/>
<circle cx="279.91" cy="215.53" r="2.3" fill="#e8607a"/><circle cx="279.81" cy="215.43" r="0.6" fill="#fff"/>
<circle cx="282.6" cy="216.24" r="2.3" fill="#e8607a"/><circle cx="282.5" cy="216.14" r="0.6" fill="#fff"/>
<circle cx="285.28" cy="215.78" r="2.3" fill="#e8607a"/><circle cx="285.18" cy="215.68" r="0.6" fill="#fff"/>
<circle cx="287.97" cy="216.15" r="2.3" fill="#e8607a"/><circle cx="287.87" cy="216.05" r="0.6" fill="#fff"/>
<circle cx="290.66" cy="216.22" r="2.3" fill="#e8607a"/><circle cx="290.56" cy="216.12" r="0.6" fill="#fff"/>
<circle cx="293.34" cy="216.25" r="2.3" fill="#e8607a"/><circle cx="293.24" cy="216.15" r="0.6" fill="#fff"/>
<circle cx="296.03" cy="216.06" r="2.3" fill="#e8607a"/><circle cx="295.93" cy="215.96" r="0.6" fill="#fff"/>
<circle cx="298.71" cy="212.93" r="2.3" fill="#e8607a"/><circle cx="298.61" cy="212.83" r="0.6" fill="#fff"/>
<circle cx="301.4" cy="216.39" r="2.3" fill="#e8607a"/><circle cx="301.3" cy="216.29" r="0.6" fill="#fff"/>
<circle cx="304.09" cy="215.4" r="2.3" fill="#e8607a"/><circle cx="303.99" cy="215.3" r="0.6" fill="#fff"/>
<circle cx="306.77" cy="215.34" r="2.3" fill="#e8607a"/><circle cx="306.67" cy="215.24" r="0.6" fill="#fff"/>
<circle cx="309.46" cy="215.39" r="2.3" fill="#e8607a"/><circle cx="309.36" cy="215.29" r="0.6" fill="#fff"/>
<circle cx="312.14" cy="216.31" r="2.3" fill="#e8607a"/><circle cx="312.04" cy="216.21" r="0.6" fill="#fff"/>
<circle cx="314.83" cy="215.53" r="2.3" fill="#e8607a"/><circle cx="314.73" cy="215.43" r="0.6" fill="#fff"/>
<circle cx="317.52" cy="215.93" r="2.3" fill="#e8607a"/><circle cx="317.42" cy="215.83" r="0.6" fill="#fff"/>
<circle cx="320.2" cy="216.16" r="2.3" fill="#e8607a"/><circle cx="320.1" cy="216.06" r="0.6" fill="#fff"/>
<circle cx="322.89" cy="216.5" r="2.3" fill="#e8607a"/><circle cx="322.79" cy="216.4" r="0.6" fill="#fff"/>
<circle cx="325.57" cy="212.42" r="2.3" fill="#e8607a"/><circle cx="325.47" cy="212.32" r="0.6" fill="#fff"/>
<circle cx="328.26" cy="216.53" r="2.3" fill="#e8607a"/><circle cx="328.16" cy="216.43" r="0.6" fill="#fff"/>
<circle cx="330.95" cy="215.71" r="2.3" fill="#e8607a"/><circle cx="330.85" cy="215.61" r="0.6" fill="#fff"/>
<circle cx="333.63" cy="215.46" r="2.3" fill="#e8607a"/><circle cx="333.53" cy="215.36" r="0.6" fill="#fff"/>
<circle cx="336.32" cy="215.86" r="2.3" fill="#e8607a"/><circle cx="336.22" cy="215.76" r="0.6" fill="#fff"/>
<circle cx="339" cy="215.65" r="2.3" fill="#e8607a"/><circle cx="338.9" cy="215.55" r="0.6" fill="#fff"/>
<circle cx="341.69" cy="216.21" r="2.3" fill="#e8607a"/><circle cx="341.59" cy="216.11" r="0.6" fill="#fff"/>
<circle cx="344.38" cy="215.93" r="2.3" fill="#e8607a"/><circle cx="344.28" cy="215.83" r="0.6" fill="#fff"/>
<circle cx="347.06" cy="215.4" r="2.3" fill="#e8607a"/><circle cx="346.96" cy="215.3" r="0.6" fill="#fff"/>
<circle cx="349.75" cy="216.16" r="2.3" fill="#e8607a"/><circle cx="349.65" cy="216.06" r="0.6" fill="#fff"/>
<circle cx="352.43" cy="212.68" r="2.3" fill="#e8607a"/><circle cx="352.33" cy="212.58" r="0.6" fill="#fff"/>
<circle cx="355.12" cy="215.6" r="2.3" fill="#e8607a"/><circle cx="355.02" cy="215.5" r="0.6" fill="#fff"/>
<circle cx="357.81" cy="216.34" r="2.3" fill="#e8607a"/><circle cx="357.71" cy="216.24" r="0.6" fill="#fff"/>
<circle cx="360.49" cy="215.56" r="2.3" fill="#e8607a"/><circle cx="360.39" cy="215.46" r="0.6" fill="#fff"/>
<circle cx="363.18" cy="215.59" r="2.3" fill="#e8607a"/><circle cx="363.08" cy="215.49" r="0.6" fill="#fff"/>
<circle cx="365.86" cy="215.57" r="2.3" fill="#e8607a"/><circle cx="365.76" cy="215.47" r="0.6" fill="#fff"/>
<circle cx="368.55" cy="216.58" r="2.3" fill="#e8607a"/><circle cx="368.45" cy="216.48" r="0.6" fill="#fff"/>
<circle cx="371.24" cy="215.5" r="2.3" fill="#e8607a"/><circle cx="371.14" cy="215.4" r="0.6" fill="#fff"/>
<circle cx="373.92" cy="216.25" r="2.3" fill="#e8607a"/><circle cx="373.82" cy="216.15" r="0.6" fill="#fff"/>
<circle cx="376.61" cy="215.92" r="2.3" fill="#e8607a"/><circle cx="376.51" cy="215.82" r="0.6" fill="#fff"/>
<circle cx="379.29" cy="213.18" r="2.3" fill="#e8607a"/><circle cx="379.19" cy="213.08" r="0.6" fill="#fff"/>
<circle cx="381.98" cy="216.59" r="2.3" fill="#e8607a"/><circle cx="381.88" cy="216.49" r="0.6" fill="#fff"/>
<circle cx="384.67" cy="216.43" r="2.3" fill="#e8607a"/><circle cx="384.57" cy="216.33" r="0.6" fill="#fff"/>
<circle cx="387.35" cy="216.5" r="2.3" fill="#e8607a"/><circle cx="387.25" cy="216.4" r="0.6" fill="#fff"/>
<circle cx="390.04" cy="215.51" r="2.3" fill="#e8607a"/><circle cx="389.94" cy="215.41" r="0.6" fill="#fff"/>
<circle cx="392.72" cy="215.95" r="2.3" fill="#e8607a"/><circle cx="392.62" cy="215.85" r="0.6" fill="#fff"/>
<circle cx="395.41" cy="216.19" r="2.3" fill="#e8607a"/><circle cx="395.31" cy="216.09" r="0.6" fill="#fff"/>
<circle cx="398.1" cy="215.77" r="2.3" fill="#e8607a"/><circle cx="398" cy="215.67" r="0.6" fill="#fff"/>
<circle cx="400.78" cy="216.13" r="2.3" fill="#e8607a"/><circle cx="400.68" cy="216.03" r="0.6" fill="#fff"/>
<circle cx="403.47" cy="216.17" r="2.3" fill="#e8607a"/><circle cx="403.37" cy="216.07" r="0.6" fill="#fff"/>
<circle cx="56.97" cy="238.85" r="2.3" fill="#adadad"/><circle cx="56.87" cy="238.75" r="0.6" fill="#fff"/>
<circle cx="59.66" cy="237.91" r="2.3" fill="#adadad"/><circle cx="59.56" cy="237.81" r="0.6" fill="#fff"/>
<circle cx="62.35" cy="236.33" r="2.3" fill="#adadad"/><circle cx="62.25" cy="236.23" r="0.6" fill="#fff"/>
<circle cx="65.03" cy="235.09" r="2.3" fill="#adadad"/><circle cx="64.93" cy="234.99" r="0.6" fill="#fff"/>
<circle cx="67.72" cy="232.34" r="2.3" fill="#adadad"/><circle cx="67.62" cy="232.24" r="0.6" fill="#fff"/>
<circle cx="70.4" cy="230" r="2.3" fill="#adadad"/><circle cx="70.3" cy="229.9" r="0.6" fill="#fff"/>
<circle cx="73.09" cy="228.91" r="2.3" fill="#adadad"/><circle cx="72.99" cy="228.81" r="0.6" fill="#fff"/>
<circle cx="75.78" cy="228.45" r="2.3" fill="#adadad"/><circle cx="75.68" cy="228.35" r="0.6" fill="#fff"/>
<circle cx="78.46" cy="227.97" r="2.3" fill="#adadad"/><circle cx="78.36" cy="227.87" r="0.6" fill="#fff"/>
<circle cx="81.15" cy="228.88" r="2.3" fill="#adadad"/><circle cx="81.05" cy="228.78" r="0.6" fill="#fff"/>
<circle cx="83.83" cy="237.66" r="2.3" fill="#adadad"/><circle cx="83.73" cy="237.56" r="0.6" fill="#fff"/>
<circle cx="86.52" cy="252.19" r="2.3" fill="#adadad"/><circle cx="86.42" cy="252.09" r="0.6" fill="#fff"/>
<circle cx="89.21" cy="252.43" r="2.3" fill="#adadad"/><circle cx="89.11" cy="252.33" r="0.6" fill="#fff"/>
<circle cx="91.89" cy="251.28" r="2.3" fill="#adadad"/><circle cx="91.79" cy="251.18" r="0.6" fill="#fff"/>
<circle cx="94.58" cy="250.86" r="2.3" fill="#adadad"/><circle cx="94.48" cy="250.76" r="0.6" fill="#fff"/>
<circle cx="97.26" cy="250.47" r="2.3" fill="#adadad"/><circle cx="97.16" cy="250.37" r="0.6" fill="#fff"/>
<circle cx="99.95" cy="251.44" r="2.3" fill="#adadad"/><circle cx="99.85" cy="251.34" r="0.6" fill="#fff"/>
<circle cx="102.64" cy="252.16" r="2.3" fill="#adadad"/><circle cx="102.54" cy="252.06" r="0.6" fill="#fff"/>
<circle cx="105.32" cy="252.24" r="2.3" fill="#adadad"/><circle cx="105.22" cy="252.14" r="0.6" fill="#fff"/>
<circle cx="108.01" cy="252.82" r="2.3" fill="#adadad"/><circle cx="107.91" cy="252.72" r="0.6" fill="#fff"/>
<circle cx="110.69" cy="256.52" r="2.3" fill="#adadad"/><circle cx="110.59" cy="256.42" r="0.6" fill="#fff"/>
<circle cx="113.38" cy="262.07" r="2.3" fill="#adadad"/><circle cx="113.28" cy="261.97" r="0.6" fill="#fff"/>
<circle cx="116.07" cy="262.5" r="2.3" fill="#adadad"/><circle cx="115.97" cy="262.4" r="0.6" fill="#fff"/>
<circle cx="118.75" cy="262.49" r="2.3" fill="#adadad"/><circle cx="118.65" cy="262.39" r="0.6" fill="#fff"/>
<circle cx="121.44" cy="262.61" r="2.3" fill="#adadad"/><circle cx="121.34" cy="262.51" r="0.6" fill="#fff"/>
<circle cx="124.12" cy="262.3" r="2.3" fill="#adadad"/><circle cx="124.02" cy="262.2" r="0.6" fill="#fff"/>
<circle cx="126.81" cy="261.9" r="2.3" fill="#adadad"/><circle cx="126.71" cy="261.8" r="0.6" fill="#fff"/>
<circle cx="129.5" cy="262.41" r="2.3" fill="#adadad"/><circle cx="129.4" cy="262.31" r="0.6" fill="#fff"/>
<circle cx="132.18" cy="262.09" r="2.3" fill="#adadad"/><circle cx="132.08" cy="261.99" r="0.6" fill="#fff"/>
<circle cx="134.87" cy="261.84" r="2.3" fill="#adadad"/><circle cx="134.77" cy="261.74" r="0.6" fill="#fff"/>
<circle cx="137.55" cy="259.27" r="2.3" fill="#adadad"/><circle cx="137.45" cy="259.17" r="0.6" fill="#fff"/>
<circle cx="140.24" cy="272.44" r="2.3" fill="#adadad"/><circle cx="140.14" cy="272.34" r="0.6" fill="#fff"/>
<circle cx="142.93" cy="272.59" r="2.3" fill="#adadad"/><circle cx="142.83" cy="272.49" r="0.6" fill="#fff"/>
<circle cx="145.61" cy="271.43" r="2.3" fill="#adadad"/><circle cx="145.51" cy="271.33" r="0.6" fill="#fff"/>
<circle cx="148.3" cy="271.84" r="2.3" fill="#adadad"/><circle cx="148.2" cy="271.74" r="0.6" fill="#fff"/>
<circle cx="150.98" cy="271.17" r="2.3" fill="#adadad"/><circle cx="150.88" cy="271.07" r="0.6" fill="#fff"/>
<circle cx="153.67" cy="271.01" r="2.3" fill="#adadad"/><circle cx="153.57" cy="270.91" r="0.6" fill="#fff"/>
<circle cx="156.36" cy="269.93" r="2.3" fill="#adadad"/><circle cx="156.26" cy="269.83" r="0.6" fill="#fff"/>
<circle cx="159.04" cy="269.94" r="2.3" fill="#adadad"/><circle cx="158.94" cy="269.84" r="0.6" fill="#fff"/>
<circle cx="161.73" cy="269.43" r="2.3" fill="#adadad"/><circle cx="161.63" cy="269.33" r="0.6" fill="#fff"/>
<circle cx="164.41" cy="266.44" r="2.3" fill="#adadad"/><circle cx="164.31" cy="266.34" r="0.6" fill="#fff"/>
<circle cx="167.1" cy="280.68" r="2.3" fill="#adadad"/><circle cx="167" cy="280.58" r="0.6" fill="#fff"/>
<circle cx="169.79" cy="281.6" r="2.3" fill="#adadad"/><circle cx="169.69" cy="281.5" r="0.6" fill="#fff"/>
<circle cx="172.47" cy="281.46" r="2.3" fill="#adadad"/><circle cx="172.37" cy="281.36" r="0.6" fill="#fff"/>
<circle cx="175.16" cy="282.03" r="2.3" fill="#adadad"/><circle cx="175.06" cy="281.93" r="0.6" fill="#fff"/>
<circle cx="177.84" cy="281.64" r="2.3" fill="#adadad"/><circle cx="177.74" cy="281.54" r="0.6" fill="#fff"/>
<circle cx="180.53" cy="282.41" r="2.3" fill="#adadad"/><circle cx="180.43" cy="282.31" r="0.6" fill="#fff"/>
<circle cx="183.22" cy="282.38" r="2.3" fill="#adadad"/><circle cx="183.12" cy="282.28" r="0.6" fill="#fff"/>
<circle cx="185.9" cy="281.89" r="2.3" fill="#adadad"/><circle cx="185.8" cy="281.79" r="0.6" fill="#fff"/>
<circle cx="188.59" cy="282.41" r="2.3" fill="#adadad"/><circle cx="188.49" cy="282.31" r="0.6" fill="#fff"/>
<circle cx="191.27" cy="280.39" r="2.3" fill="#adadad"/><circle cx="191.17" cy="280.29" r="0.6" fill="#fff"/>
<circle cx="193.96" cy="288.97" r="2.3" fill="#adadad"/><circle cx="193.86" cy="288.87" r="0.6" fill="#fff"/>
<circle cx="196.65" cy="287.74" r="2.3" fill="#adadad"/><circle cx="196.55" cy="287.64" r="0.6" fill="#fff"/>
<circle cx="199.33" cy="287.65" r="2.3" fill="#adadad"/><circle cx="199.23" cy="287.55" r="0.6" fill="#fff"/>
<circle cx="202.02" cy="287.68" r="2.3" fill="#adadad"/><circle cx="201.92" cy="287.58" r="0.6" fill="#fff"/>
<circle cx="204.7" cy="287" r="2.3" fill="#adadad"/><circle cx="204.6" cy="286.9" r="0.6" fill="#fff"/>
<circle cx="207.39" cy="288" r="2.3" fill="#adadad"/><circle cx="207.29" cy="287.9" r="0.6" fill="#fff"/>
<circle cx="210.08" cy="288.55" r="2.3" fill="#adadad"/><circle cx="209.98" cy="288.45" r="0.6" fill="#fff"/>
<circle cx="212.76" cy="289.41" r="2.3" fill="#adadad"/><circle cx="212.66" cy="289.31" r="0.6" fill="#fff"/>
<circle cx="215.45" cy="288.89" r="2.3" fill="#adadad"/><circle cx="215.35" cy="288.79" r="0.6" fill="#fff"/>
<circle cx="218.13" cy="285.41" r="2.3" fill="#adadad"/><circle cx="218.03" cy="285.31" r="0.6" fill="#fff"/>
<circle cx="220.82" cy="294.63" r="2.3" fill="#adadad"/><circle cx="220.72" cy="294.53" r="0.6" fill="#fff"/>
<circle cx="223.51" cy="294.89" r="2.3" fill="#adadad"/><circle cx="223.41" cy="294.79" r="0.6" fill="#fff"/>
<circle cx="226.19" cy="296.29" r="2.3" fill="#adadad"/><circle cx="226.09" cy="296.19" r="0.6" fill="#fff"/>
<circle cx="228.88" cy="295.91" r="2.3" fill="#adadad"/><circle cx="228.78" cy="295.81" r="0.6" fill="#fff"/>
<circle cx="231.56" cy="296.7" r="2.3" fill="#adadad"/><circle cx="231.46" cy="296.6" r="0.6" fill="#fff"/>
<circle cx="234.25" cy="296.4" r="2.3" fill="#adadad"/><circle cx="234.15" cy="296.3" r="0.6" fill="#fff"/>
<circle cx="236.94" cy="297.06" r="2.3" fill="#adadad"/><circle cx="236.84" cy="296.96" r="0.6" fill="#fff"/>
<circle cx="239.62" cy="297.25" r="2.3" fill="#adadad"/><circle cx="239.52" cy="297.15" r="0.6" fill="#fff"/>
<circle cx="242.31" cy="297.53" r="2.3" fill="#adadad"/><circle cx="242.21" cy="297.43" r="0.6" fill="#fff"/>
<circle cx="244.99" cy="297.79" r="2.3" fill="#adadad"/><circle cx="244.89" cy="297.69" r="0.6" fill="#fff"/>
<circle cx="247.68" cy="288.37" r="2.3" fill="#adadad"/><circle cx="247.58" cy="288.27" r="0.6" fill="#fff"/>
<circle cx="250.37" cy="288.28" r="2.3" fill="#adadad"/><circle cx="250.27" cy="288.18" r="0.6" fill="#fff"/>
<circle cx="253.05" cy="287.5" r="2.3" fill="#adadad"/><circle cx="252.95" cy="287.4" r="0.6" fill="#fff"/>
<circle cx="255.74" cy="288.43" r="2.3" fill="#adadad"/><circle cx="255.64" cy="288.33" r="0.6" fill="#fff"/>
<circle cx="258.42" cy="288.02" r="2.3" fill="#adadad"/><circle cx="258.32" cy="287.92" r="0.6" fill="#fff"/>
<circle cx="261.11" cy="288.66" r="2.3" fill="#adadad"/><circle cx="261.01" cy="288.56" r="0.6" fill="#fff"/>
<circle cx="263.8" cy="288.25" r="2.3" fill="#adadad"/><circle cx="263.7" cy="288.15" r="0.6" fill="#fff"/>
<circle cx="266.48" cy="288.43" r="2.3" fill="#adadad"/><circle cx="266.38" cy="288.33" r="0.6" fill="#fff"/>
<circle cx="269.17" cy="289.14" r="2.3" fill="#adadad"/><circle cx="269.07" cy="289.04" r="0.6" fill="#fff"/>
<circle cx="271.85" cy="291.99" r="2.3" fill="#adadad"/><circle cx="271.75" cy="291.89" r="0.6" fill="#fff"/>
<circle cx="274.54" cy="283.18" r="2.3" fill="#adadad"/><circle cx="274.44" cy="283.08" r="0.6" fill="#fff"/>
<circle cx="277.23" cy="282.33" r="2.3" fill="#adadad"/><circle cx="277.13" cy="282.23" r="0.6" fill="#fff"/>
<circle cx="279.91" cy="281.51" r="2.3" fill="#adadad"/><circle cx="279.81" cy="281.41" r="0.6" fill="#fff"/>
<circle cx="282.6" cy="282.34" r="2.3" fill="#adadad"/><circle cx="282.5" cy="282.24" r="0.6" fill="#fff"/>
<circle cx="285.28" cy="281.8" r="2.3" fill="#adadad"/><circle cx="285.18" cy="281.7" r="0.6" fill="#fff"/>
<circle cx="287.97" cy="282" r="2.3" fill="#adadad"/><circle cx="287.87" cy="281.9" r="0.6" fill="#fff"/>
<circle cx="290.66" cy="282.99" r="2.3" fill="#adadad"/><circle cx="290.56" cy="282.89" r="0.6" fill="#fff"/>
<circle cx="293.34" cy="282.5" r="2.3" fill="#adadad"/><circle cx="293.24" cy="282.4" r="0.6" fill="#fff"/>
<circle cx="296.03" cy="283.13" r="2.3" fill="#adadad"/><circle cx="295.93" cy="283.03" r="0.6" fill="#fff"/>
<circle cx="298.71" cy="285.31" r="2.3" fill="#adadad"/><circle cx="298.61" cy="285.21" r="0.6" fill="#fff"/>
<circle cx="301.4" cy="269.68" r="2.3" fill="#adadad"/><circle cx="301.3" cy="269.58" r="0.6" fill="#fff"/>
<circle cx="304.09" cy="270.47" r="2.3" fill="#adadad"/><circle cx="303.99" cy="270.37" r="0.6" fill="#fff"/>
<circle cx="306.77" cy="269.34" r="2.3" fill="#adadad"/><circle cx="306.67" cy="269.24" r="0.6" fill="#fff"/>
<circle cx="309.46" cy="270.06" r="2.3" fill="#adadad"/><circle cx="309.36" cy="269.96" r="0.6" fill="#fff"/>
<circle cx="312.14" cy="269.57" r="2.3" fill="#adadad"/><circle cx="312.04" cy="269.47" r="0.6" fill="#fff"/>
<circle cx="314.83" cy="269.69" r="2.3" fill="#adadad"/><circle cx="314.73" cy="269.59" r="0.6" fill="#fff"/>
<circle cx="317.52" cy="269.69" r="2.3" fill="#adadad"/><circle cx="317.42" cy="269.59" r="0.6" fill="#fff"/>
<circle cx="320.2" cy="270.33" r="2.3" fill="#adadad"/><circle cx="320.1" cy="270.23" r="0.6" fill="#fff"/>
<circle cx="322.89" cy="270.3" r="2.3" fill="#adadad"/><circle cx="322.79" cy="270.2" r="0.6" fill="#fff"/>
<circle cx="325.57" cy="275.38" r="2.3" fill="#adadad"/><circle cx="325.47" cy="275.28" r="0.6" fill="#fff"/>
<circle cx="328.26" cy="262.15" r="2.3" fill="#adadad"/><circle cx="328.16" cy="262.05" r="0.6" fill="#fff"/>
<circle cx="330.95" cy="261.64" r="2.3" fill="#adadad"/><circle cx="330.85" cy="261.54" r="0.6" fill="#fff"/>
<circle cx="333.63" cy="261.42" r="2.3" fill="#adadad"/><circle cx="333.53" cy="261.32" r="0.6" fill="#fff"/>
<circle cx="336.32" cy="261.75" r="2.3" fill="#adadad"/><circle cx="336.22" cy="261.65" r="0.6" fill="#fff"/>
<circle cx="339" cy="262.89" r="2.3" fill="#adadad"/><circle cx="338.9" cy="262.79" r="0.6" fill="#fff"/>
<circle cx="341.69" cy="262.9" r="2.3" fill="#adadad"/><circle cx="341.59" cy="262.8" r="0.6" fill="#fff"/>
<circle cx="344.38" cy="262.22" r="2.3" fill="#adadad"/><circle cx="344.28" cy="262.12" r="0.6" fill="#fff"/>
<circle cx="347.06" cy="262.42" r="2.3" fill="#adadad"/><circle cx="346.96" cy="262.32" r="0.6" fill="#fff"/>
<circle cx="349.75" cy="262.38" r="2.3" fill="#adadad"/><circle cx="349.65" cy="262.28" r="0.6" fill="#fff"/>
<circle cx="352.43" cy="267.62" r="2.3" fill="#adadad"/><circle cx="352.33" cy="267.52" r="0.6" fill="#fff"/>
<circle cx="355.12" cy="251.73" r="2.3" fill="#adadad"/><circle cx="355.02" cy="251.63" r="0.6" fill="#fff"/>
<circle cx="357.81" cy="251.59" r="2.3" fill="#adadad"/><circle cx="357.71" cy="251.49" r="0.6" fill="#fff"/>
<circle cx="360.49" cy="251.17" r="2.3" fill="#adadad"/><circle cx="360.39" cy="251.07" r="0.6" fill="#fff"/>
<circle cx="363.18" cy="251.7" r="2.3" fill="#adadad"/><circle cx="363.08" cy="251.6" r="0.6" fill="#fff"/>
<circle cx="365.86" cy="251.01" r="2.3" fill="#adadad"/><circle cx="365.76" cy="250.91" r="0.6" fill="#fff"/>
<circle cx="368.55" cy="251.03" r="2.3" fill="#adadad"/><circle cx="368.45" cy="250.93" r="0.6" fill="#fff"/>
<circle cx="371.24" cy="251.06" r="2.3" fill="#adadad"/><circle cx="371.14" cy="250.96" r="0.6" fill="#fff"/>
<circle cx="373.92" cy="252.04" r="2.3" fill="#adadad"/><circle cx="373.82" cy="251.94" r="0.6" fill="#fff"/>
<circle cx="376.61" cy="251.98" r="2.3" fill="#adadad"/><circle cx="376.51" cy="251.88" r="0.6" fill="#fff"/>
<circle cx="379.29" cy="255.73" r="2.3" fill="#adadad"/><circle cx="379.19" cy="255.63" r="0.6" fill="#fff"/>
<circle cx="381.98" cy="229.57" r="2.3" fill="#adadad"/><circle cx="381.88" cy="229.47" r="0.6" fill="#fff"/>
<circle cx="384.67" cy="230.12" r="2.3" fill="#adadad"/><circle cx="384.57" cy="230.02" r="0.6" fill="#fff"/>
<circle cx="387.35" cy="229.75" r="2.3" fill="#adadad"/><circle cx="387.25" cy="229.65" r="0.6" fill="#fff"/>
<circle cx="390.04" cy="228.25" r="2.3" fill="#adadad"/><circle cx="389.94" cy="228.15" r="0.6" fill="#fff"/>
<circle cx="392.72" cy="229.01" r="2.3" fill="#adadad"/><circle cx="392.62" cy="228.91" r="0.6" fill="#fff"/>
<circle cx="395.41" cy="228.93" r="2.3" fill="#adadad"/><circle cx="395.31" cy="228.83" r="0.6" fill="#fff"/>
<circle cx="398.1" cy="229.28" r="2.3" fill="#adadad"/><circle cx="398" cy="229.18" r="0.6" fill="#fff"/>
<circle cx="400.78" cy="229.2" r="2.3" fill="#adadad"/><circle cx="400.68" cy="229.1" r="0.6" fill="#fff"/>
<circle cx="403.47" cy="229.87" r="2.3" fill="#adadad"/><circle cx="403.37" cy="229.77" r="0.6" fill="#fff"/>
<circle cx="56.97" cy="239.72" r="2.3" fill="#52b6ec"/><circle cx="56.87" cy="239.62" r="0.6" fill="#fff"/>
<circle cx="59.66" cy="238.93" r="2.3" fill="#52b6ec"/><circle cx="59.56" cy="238.83" r="0.6" fill="#fff"/>
<circle cx="62.35" cy="237.66" r="2.3" fill="#52b6ec"/><circle cx="62.25" cy="237.56" r="0.6" fill="#fff"/>
<circle cx="65.03" cy="235.69" r="2.3" fill="#52b6ec"/><circle cx="64.93" cy="235.59" r="0.6" fill="#fff"/>
<circle cx="67.72" cy="233.24" r="2.3" fill="#52b6ec"/><circle cx="67.62" cy="233.14" r="0.6" fill="#fff"/>
<circle cx="70.4" cy="231.76" r="2.3" fill="#52b6ec"/><circle cx="70.3" cy="231.66" r="0.6" fill="#fff"/>
<circle cx="73.09" cy="230.48" r="2.3" fill="#52b6ec"/><circle cx="72.99" cy="230.38" r="0.6" fill="#fff"/>
<circle cx="75.78" cy="229.8" r="2.3" fill="#52b6ec"/><circle cx="75.68" cy="229.7" r="0.6" fill="#fff"/>
<circle cx="78.46" cy="229.31" r="2.3" fill="#52b6ec"/><circle cx="78.36" cy="229.21" r="0.6" fill="#fff"/>
<circle cx="81.15" cy="230.09" r="2.3" fill="#52b6ec"/><circle cx="81.05" cy="229.99" r="0.6" fill="#fff"/>
<circle cx="83.83" cy="243.75" r="2.3" fill="#52b6ec"/><circle cx="83.73" cy="243.65" r="0.6" fill="#fff"/>
<circle cx="86.52" cy="253.67" r="2.3" fill="#52b6ec"/><circle cx="86.42" cy="253.57" r="0.6" fill="#fff"/>
<circle cx="89.21" cy="253.38" r="2.3" fill="#52b6ec"/><circle cx="89.11" cy="253.28" r="0.6" fill="#fff"/>
<circle cx="91.89" cy="252.88" r="2.3" fill="#52b6ec"/><circle cx="91.79" cy="252.78" r="0.6" fill="#fff"/>
<circle cx="94.58" cy="252.3" r="2.3" fill="#52b6ec"/><circle cx="94.48" cy="252.2" r="0.6" fill="#fff"/>
<circle cx="97.26" cy="251.9" r="2.3" fill="#52b6ec"/><circle cx="97.16" cy="251.8" r="0.6" fill="#fff"/>
<circle cx="99.95" cy="252.49" r="2.3" fill="#52b6ec"/><circle cx="99.85" cy="252.39" r="0.6" fill="#fff"/>
<circle cx="102.64" cy="253.28" r="2.3" fill="#52b6ec"/><circle cx="102.54" cy="253.18" r="0.6" fill="#fff"/>
<circle cx="105.32" cy="253.87" r="2.3" fill="#52b6ec"/><circle cx="105.22" cy="253.77" r="0.6" fill="#fff"/>
<circle cx="108.01" cy="253.57" r="2.3" fill="#52b6ec"/><circle cx="107.91" cy="253.47" r="0.6" fill="#fff"/>
<circle cx="110.69" cy="260.65" r="2.3" fill="#52b6ec"/><circle cx="110.59" cy="260.55" r="0.6" fill="#fff"/>
<circle cx="113.38" cy="263.4" r="2.3" fill="#52b6ec"/><circle cx="113.28" cy="263.3" r="0.6" fill="#fff"/>
<circle cx="116.07" cy="263.69" r="2.3" fill="#52b6ec"/><circle cx="115.97" cy="263.59" r="0.6" fill="#fff"/>
<circle cx="118.75" cy="263.5" r="2.3" fill="#52b6ec"/><circle cx="118.65" cy="263.4" r="0.6" fill="#fff"/>
<circle cx="121.44" cy="263.89" r="2.3" fill="#52b6ec"/><circle cx="121.34" cy="263.79" r="0.6" fill="#fff"/>
<circle cx="124.12" cy="263.69" r="2.3" fill="#52b6ec"/><circle cx="124.02" cy="263.59" r="0.6" fill="#fff"/>
<circle cx="126.81" cy="263.5" r="2.3" fill="#52b6ec"/><circle cx="126.71" cy="263.4" r="0.6" fill="#fff"/>
<circle cx="129.5" cy="263.79" r="2.3" fill="#52b6ec"/><circle cx="129.4" cy="263.69" r="0.6" fill="#fff"/>
<circle cx="132.18" cy="263.69" r="2.3" fill="#52b6ec"/><circle cx="132.08" cy="263.59" r="0.6" fill="#fff"/>
<circle cx="134.87" cy="263.5" r="2.3" fill="#52b6ec"/><circle cx="134.77" cy="263.4" r="0.6" fill="#fff"/>
<circle cx="137.55" cy="274.6" r="2.3" fill="#52b6ec"/><circle cx="137.45" cy="274.5" r="0.6" fill="#fff"/>
<circle cx="140.24" cy="274.01" r="2.3" fill="#52b6ec"/><circle cx="140.14" cy="273.91" r="0.6" fill="#fff"/>
<circle cx="142.93" cy="273.52" r="2.3" fill="#52b6ec"/><circle cx="142.83" cy="273.42" r="0.6" fill="#fff"/>
<circle cx="145.61" cy="273.03" r="2.3" fill="#52b6ec"/><circle cx="145.51" cy="272.93" r="0.6" fill="#fff"/>
<circle cx="148.3" cy="272.54" r="2.3" fill="#52b6ec"/><circle cx="148.2" cy="272.44" r="0.6" fill="#fff"/>
<circle cx="150.98" cy="272.24" r="2.3" fill="#52b6ec"/><circle cx="150.88" cy="272.14" r="0.6" fill="#fff"/>
<circle cx="153.67" cy="271.95" r="2.3" fill="#52b6ec"/><circle cx="153.57" cy="271.85" r="0.6" fill="#fff"/>
<circle cx="156.36" cy="271.55" r="2.3" fill="#52b6ec"/><circle cx="156.26" cy="271.45" r="0.6" fill="#fff"/>
<circle cx="159.04" cy="271.26" r="2.3" fill="#52b6ec"/><circle cx="158.94" cy="271.16" r="0.6" fill="#fff"/>
<circle cx="161.73" cy="270.86" r="2.3" fill="#52b6ec"/><circle cx="161.63" cy="270.76" r="0.6" fill="#fff"/>
<circle cx="164.41" cy="278.43" r="2.3" fill="#52b6ec"/><circle cx="164.31" cy="278.33" r="0.6" fill="#fff"/>
<circle cx="167.1" cy="281.87" r="2.3" fill="#52b6ec"/><circle cx="167" cy="281.77" r="0.6" fill="#fff"/>
<circle cx="169.79" cy="282.56" r="2.3" fill="#52b6ec"/><circle cx="169.69" cy="282.46" r="0.6" fill="#fff"/>
<circle cx="172.47" cy="282.75" r="2.3" fill="#52b6ec"/><circle cx="172.37" cy="282.65" r="0.6" fill="#fff"/>
<circle cx="175.16" cy="282.85" r="2.3" fill="#52b6ec"/><circle cx="175.06" cy="282.75" r="0.6" fill="#fff"/>
<circle cx="177.84" cy="282.95" r="2.3" fill="#52b6ec"/><circle cx="177.74" cy="282.85" r="0.6" fill="#fff"/>
<circle cx="180.53" cy="283.05" r="2.3" fill="#52b6ec"/><circle cx="180.43" cy="282.95" r="0.6" fill="#fff"/>
<circle cx="183.22" cy="283.34" r="2.3" fill="#52b6ec"/><circle cx="183.12" cy="283.24" r="0.6" fill="#fff"/>
<circle cx="185.9" cy="283.54" r="2.3" fill="#52b6ec"/><circle cx="185.8" cy="283.44" r="0.6" fill="#fff"/>
<circle cx="188.59" cy="283.54" r="2.3" fill="#52b6ec"/><circle cx="188.49" cy="283.44" r="0.6" fill="#fff"/>
<circle cx="191.27" cy="291.01" r="2.3" fill="#52b6ec"/><circle cx="191.17" cy="290.91" r="0.6" fill="#fff"/>
<circle cx="193.96" cy="290.22" r="2.3" fill="#52b6ec"/><circle cx="193.86" cy="290.12" r="0.6" fill="#fff"/>
<circle cx="196.65" cy="289.43" r="2.3" fill="#52b6ec"/><circle cx="196.55" cy="289.33" r="0.6" fill="#fff"/>
<circle cx="199.33" cy="288.75" r="2.3" fill="#52b6ec"/><circle cx="199.23" cy="288.65" r="0.6" fill="#fff"/>
<circle cx="202.02" cy="288.55" r="2.3" fill="#52b6ec"/><circle cx="201.92" cy="288.45" r="0.6" fill="#fff"/>
<circle cx="204.7" cy="288.75" r="2.3" fill="#52b6ec"/><circle cx="204.6" cy="288.65" r="0.6" fill="#fff"/>
<circle cx="207.39" cy="289.24" r="2.3" fill="#52b6ec"/><circle cx="207.29" cy="289.14" r="0.6" fill="#fff"/>
<circle cx="210.08" cy="289.63" r="2.3" fill="#52b6ec"/><circle cx="209.98" cy="289.53" r="0.6" fill="#fff"/>
<circle cx="212.76" cy="290.02" r="2.3" fill="#52b6ec"/><circle cx="212.66" cy="289.92" r="0.6" fill="#fff"/>
<circle cx="215.45" cy="290.22" r="2.3" fill="#52b6ec"/><circle cx="215.35" cy="290.12" r="0.6" fill="#fff"/>
<circle cx="218.13" cy="297.1" r="2.3" fill="#52b6ec"/><circle cx="218.03" cy="297" r="0.6" fill="#fff"/>
<circle cx="220.82" cy="296.02" r="2.3" fill="#52b6ec"/><circle cx="220.72" cy="295.92" r="0.6" fill="#fff"/>
<circle cx="223.51" cy="296.31" r="2.3" fill="#52b6ec"/><circle cx="223.41" cy="296.21" r="0.6" fill="#fff"/>
<circle cx="226.19" cy="296.9" r="2.3" fill="#52b6ec"/><circle cx="226.09" cy="296.8" r="0.6" fill="#fff"/>
<circle cx="228.88" cy="297.29" r="2.3" fill="#52b6ec"/><circle cx="228.78" cy="297.19" r="0.6" fill="#fff"/>
<circle cx="231.56" cy="297.59" r="2.3" fill="#52b6ec"/><circle cx="231.46" cy="297.49" r="0.6" fill="#fff"/>
<circle cx="234.25" cy="297.69" r="2.3" fill="#52b6ec"/><circle cx="234.15" cy="297.59" r="0.6" fill="#fff"/>
<circle cx="236.94" cy="298.08" r="2.3" fill="#52b6ec"/><circle cx="236.84" cy="297.98" r="0.6" fill="#fff"/>
<circle cx="239.62" cy="298.28" r="2.3" fill="#52b6ec"/><circle cx="239.52" cy="298.18" r="0.6" fill="#fff"/>
<circle cx="242.31" cy="298.47" r="2.3" fill="#52b6ec"/><circle cx="242.21" cy="298.37" r="0.6" fill="#fff"/>
<circle cx="244.99" cy="290.22" r="2.3" fill="#52b6ec"/><circle cx="244.89" cy="290.12" r="0.6" fill="#fff"/>
<circle cx="247.68" cy="289.63" r="2.3" fill="#52b6ec"/><circle cx="247.58" cy="289.53" r="0.6" fill="#fff"/>
<circle cx="250.37" cy="289.24" r="2.3" fill="#52b6ec"/><circle cx="250.27" cy="289.14" r="0.6" fill="#fff"/>
<circle cx="253.05" cy="289.04" r="2.3" fill="#52b6ec"/><circle cx="252.95" cy="288.94" r="0.6" fill="#fff"/>
<circle cx="255.74" cy="289.24" r="2.3" fill="#52b6ec"/><circle cx="255.64" cy="289.14" r="0.6" fill="#fff"/>
<circle cx="258.42" cy="289.43" r="2.3" fill="#52b6ec"/><circle cx="258.32" cy="289.33" r="0.6" fill="#fff"/>
<circle cx="261.11" cy="289.63" r="2.3" fill="#52b6ec"/><circle cx="261.01" cy="289.53" r="0.6" fill="#fff"/>
<circle cx="263.8" cy="289.83" r="2.3" fill="#52b6ec"/><circle cx="263.7" cy="289.73" r="0.6" fill="#fff"/>
<circle cx="266.48" cy="290.02" r="2.3" fill="#52b6ec"/><circle cx="266.38" cy="289.92" r="0.6" fill="#fff"/>
<circle cx="269.17" cy="290.12" r="2.3" fill="#52b6ec"/><circle cx="269.07" cy="290.02" r="0.6" fill="#fff"/>
<circle cx="271.85" cy="286.49" r="2.3" fill="#52b6ec"/><circle cx="271.75" cy="286.39" r="0.6" fill="#fff"/>
<circle cx="274.54" cy="284.03" r="2.3" fill="#52b6ec"/><circle cx="274.44" cy="283.93" r="0.6" fill="#fff"/>
<circle cx="277.23" cy="283.54" r="2.3" fill="#52b6ec"/><circle cx="277.13" cy="283.44" r="0.6" fill="#fff"/>
<circle cx="279.91" cy="283.05" r="2.3" fill="#52b6ec"/><circle cx="279.81" cy="282.95" r="0.6" fill="#fff"/>
<circle cx="282.6" cy="283.15" r="2.3" fill="#52b6ec"/><circle cx="282.5" cy="283.05" r="0.6" fill="#fff"/>
<circle cx="285.28" cy="283.34" r="2.3" fill="#52b6ec"/><circle cx="285.18" cy="283.24" r="0.6" fill="#fff"/>
<circle cx="287.97" cy="283.54" r="2.3" fill="#52b6ec"/><circle cx="287.87" cy="283.44" r="0.6" fill="#fff"/>
<circle cx="290.66" cy="283.74" r="2.3" fill="#52b6ec"/><circle cx="290.56" cy="283.64" r="0.6" fill="#fff"/>
<circle cx="293.34" cy="284.03" r="2.3" fill="#52b6ec"/><circle cx="293.24" cy="283.93" r="0.6" fill="#fff"/>
<circle cx="296.03" cy="284.13" r="2.3" fill="#52b6ec"/><circle cx="295.93" cy="284.03" r="0.6" fill="#fff"/>
<circle cx="298.71" cy="276.96" r="2.3" fill="#52b6ec"/><circle cx="298.61" cy="276.86" r="0.6" fill="#fff"/>
<circle cx="301.4" cy="271.36" r="2.3" fill="#52b6ec"/><circle cx="301.3" cy="271.26" r="0.6" fill="#fff"/>
<circle cx="304.09" cy="271.06" r="2.3" fill="#52b6ec"/><circle cx="303.99" cy="270.96" r="0.6" fill="#fff"/>
<circle cx="306.77" cy="270.96" r="2.3" fill="#52b6ec"/><circle cx="306.67" cy="270.86" r="0.6" fill="#fff"/>
<circle cx="309.46" cy="271.16" r="2.3" fill="#52b6ec"/><circle cx="309.36" cy="271.06" r="0.6" fill="#fff"/>
<circle cx="312.14" cy="271.26" r="2.3" fill="#52b6ec"/><circle cx="312.04" cy="271.16" r="0.6" fill="#fff"/>
<circle cx="314.83" cy="271.16" r="2.3" fill="#52b6ec"/><circle cx="314.73" cy="271.06" r="0.6" fill="#fff"/>
<circle cx="317.52" cy="271.06" r="2.3" fill="#52b6ec"/><circle cx="317.42" cy="270.96" r="0.6" fill="#fff"/>
<circle cx="320.2" cy="271.26" r="2.3" fill="#52b6ec"/><circle cx="320.1" cy="271.16" r="0.6" fill="#fff"/>
<circle cx="322.89" cy="271.16" r="2.3" fill="#52b6ec"/><circle cx="322.79" cy="271.06" r="0.6" fill="#fff"/>
<circle cx="325.57" cy="263.5" r="2.3" fill="#52b6ec"/><circle cx="325.47" cy="263.4" r="0.6" fill="#fff"/>
<circle cx="328.26" cy="263.69" r="2.3" fill="#52b6ec"/><circle cx="328.16" cy="263.59" r="0.6" fill="#fff"/>
<circle cx="330.95" cy="263.3" r="2.3" fill="#52b6ec"/><circle cx="330.85" cy="263.2" r="0.6" fill="#fff"/>
<circle cx="333.63" cy="263.1" r="2.3" fill="#52b6ec"/><circle cx="333.53" cy="263" r="0.6" fill="#fff"/>
<circle cx="336.32" cy="263.4" r="2.3" fill="#52b6ec"/><circle cx="336.22" cy="263.3" r="0.6" fill="#fff"/>
<circle cx="339" cy="263.5" r="2.3" fill="#52b6ec"/><circle cx="338.9" cy="263.4" r="0.6" fill="#fff"/>
<circle cx="341.69" cy="263.69" r="2.3" fill="#52b6ec"/><circle cx="341.59" cy="263.59" r="0.6" fill="#fff"/>
<circle cx="344.38" cy="263.59" r="2.3" fill="#52b6ec"/><circle cx="344.28" cy="263.49" r="0.6" fill="#fff"/>
<circle cx="347.06" cy="263.5" r="2.3" fill="#52b6ec"/><circle cx="346.96" cy="263.4" r="0.6" fill="#fff"/>
<circle cx="349.75" cy="263.69" r="2.3" fill="#52b6ec"/><circle cx="349.65" cy="263.59" r="0.6" fill="#fff"/>
<circle cx="352.43" cy="253.97" r="2.3" fill="#52b6ec"/><circle cx="352.33" cy="253.87" r="0.6" fill="#fff"/>
<circle cx="355.12" cy="252.88" r="2.3" fill="#52b6ec"/><circle cx="355.02" cy="252.78" r="0.6" fill="#fff"/>
<circle cx="357.81" cy="252.59" r="2.3" fill="#52b6ec"/><circle cx="357.71" cy="252.49" r="0.6" fill="#fff"/>
<circle cx="360.49" cy="252.39" r="2.3" fill="#52b6ec"/><circle cx="360.39" cy="252.29" r="0.6" fill="#fff"/>
<circle cx="363.18" cy="252.49" r="2.3" fill="#52b6ec"/><circle cx="363.08" cy="252.39" r="0.6" fill="#fff"/>
<circle cx="365.86" cy="252.69" r="2.3" fill="#52b6ec"/><circle cx="365.76" cy="252.59" r="0.6" fill="#fff"/>
<circle cx="368.55" cy="252.59" r="2.3" fill="#52b6ec"/><circle cx="368.45" cy="252.49" r="0.6" fill="#fff"/>
<circle cx="371.24" cy="252.39" r="2.3" fill="#52b6ec"/><circle cx="371.14" cy="252.29" r="0.6" fill="#fff"/>
<circle cx="373.92" cy="252.69" r="2.3" fill="#52b6ec"/><circle cx="373.82" cy="252.59" r="0.6" fill="#fff"/>
<circle cx="376.61" cy="252.88" r="2.3" fill="#52b6ec"/><circle cx="376.51" cy="252.78" r="0.6" fill="#fff"/>
<circle cx="379.29" cy="239.13" r="2.3" fill="#52b6ec"/><circle cx="379.19" cy="239.03" r="0.6" fill="#fff"/>
<circle cx="381.98" cy="231.07" r="2.3" fill="#52b6ec"/><circle cx="381.88" cy="230.97" r="0.6" fill="#fff"/>
<circle cx="384.67" cy="230.78" r="2.3" fill="#52b6ec"/><circle cx="384.57" cy="230.68" r="0.6" fill="#fff"/>
<circle cx="387.35" cy="230.48" r="2.3" fill="#52b6ec"/><circle cx="387.25" cy="230.38" r="0.6" fill="#fff"/>
<circle cx="390.04" cy="229.99" r="2.3" fill="#52b6ec"/><circle cx="389.94" cy="229.89" r="0.6" fill="#fff"/>
<circle cx="392.72" cy="229.7" r="2.3" fill="#52b6ec"/><circle cx="392.62" cy="229.6" r="0.6" fill="#fff"/>
<circle cx="395.41" cy="229.89" r="2.3" fill="#52b6ec"/><circle cx="395.31" cy="229.79" r="0.6" fill="#fff"/>
<circle cx="398.1" cy="230.29" r="2.3" fill="#52b6ec"/><circle cx="398" cy="230.19" r="0.6" fill="#fff"/>
<circle cx="400.78" cy="230.48" r="2.3" fill="#52b6ec"/><circle cx="400.68" cy="230.38" r="0.6" fill="#fff"/>
<circle cx="403.47" cy="230.68" r="2.3" fill="#52b6ec"/><circle cx="403.37" cy="230.58" r="0.6" fill="#fff"/>
<path d="M405.1,341 H55.9 V195.9 H405.1" fill="none" stroke="#2a2a2a" stroke-width="1.3" stroke-linejoin="miter"/>
<line x1="405.1" y1="195.25" x2="405.1" y2="341.65" stroke="#ec4e58" stroke-width="1.5"/>
<text x="62.2" y="251" font-size="9.6" stroke="#111" stroke-width="0.25">0.5</text>
<text x="93" y="268.5" font-size="9.6" stroke="#111" stroke-width="0.25">1</text>
<text x="120.5" y="276.7" font-size="9.6" stroke="#111" stroke-width="0.25">2</text>
<text x="147.8" y="286" font-size="9.6" stroke="#111" stroke-width="0.25">3</text>
<text x="174" y="296.8" font-size="9.6" stroke="#111" stroke-width="0.25">5</text>
<text x="200.2" y="303.5" font-size="9.6" stroke="#111" stroke-width="0.25">8</text>
<text x="225" y="310.2" font-size="9.6" stroke="#111" stroke-width="0.25">10</text>
<text x="255" y="302.8" font-size="9.6" stroke="#111" stroke-width="0.25">8</text>
<text x="282" y="296.8" font-size="9.6" stroke="#111" stroke-width="0.25">5</text>
<text x="308.7" y="286" font-size="9.6" stroke="#111" stroke-width="0.25">3</text>
<text x="336.5" y="276.7" font-size="9.6" stroke="#111" stroke-width="0.25">2</text>
<text x="364" y="269.4" font-size="9.6" stroke="#111" stroke-width="0.25">1</text>
<text x="386.7" y="246.6" font-size="9.6" stroke="#111" stroke-width="0.25">0.5</text>
<text x="72.6" y="329.6" font-size="9.2">Unit: A g<tspan font-size="5.9" dy="-3.7">-1</tspan></text>
<circle cx="278.3" cy="326" r="2.6" fill="#adadad"/><circle cx="277.6" cy="325.3" r="1.04" fill="#fff" opacity="0.6"/>
<text x="287.3" y="329.3" font-size="9.2">Charge</text>
<circle cx="336.6" cy="326" r="2.6" fill="#52b6ec"/><circle cx="335.9" cy="325.3" r="1.04" fill="#fff" opacity="0.6"/>
<text x="345.9" y="329.3" font-size="9.2">Discharge</text>
<text x="492.2" y="199.5" font-size="25">e</text>
<line x1="530.8" y1="340.9" x2="530.8" y2="344.1" stroke="#2a2a2a" stroke-width="1.1"/>
<line x1="564.5" y1="340.9" x2="564.5" y2="344.1" stroke="#2a2a2a" stroke-width="1.1"/>
<line x1="598.2" y1="340.9" x2="598.2" y2="344.1" stroke="#2a2a2a" stroke-width="1.1"/>
<line x1="631.9" y1="340.9" x2="631.9" y2="344.1" stroke="#2a2a2a" stroke-width="1.1"/>
<line x1="665.6" y1="340.9" x2="665.6" y2="344.1" stroke="#2a2a2a" stroke-width="1.1"/>
<line x1="699.29" y1="340.9" x2="699.29" y2="344.1" stroke="#2a2a2a" stroke-width="1.1"/>
<line x1="547.65" y1="340.9" x2="547.65" y2="342.7" stroke="#2a2a2a" stroke-width="1.1"/>
<line x1="581.35" y1="340.9" x2="581.35" y2="342.7" stroke="#2a2a2a" stroke-width="1.1"/>
<line x1="615.05" y1="340.9" x2="615.05" y2="342.7" stroke="#2a2a2a" stroke-width="1.1"/>
<line x1="648.75" y1="340.9" x2="648.75" y2="342.7" stroke="#2a2a2a" stroke-width="1.1"/>
<line x1="682.45" y1="340.9" x2="682.45" y2="342.7" stroke="#2a2a2a" stroke-width="1.1"/>
<line x1="530.8" y1="341" x2="527.6" y2="341" stroke="#2a2a2a" stroke-width="1.1"/>
<line x1="530.8" y1="311.96" x2="527.6" y2="311.96" stroke="#2a2a2a" stroke-width="1.1"/>
<line x1="530.8" y1="282.92" x2="527.6" y2="282.92" stroke="#2a2a2a" stroke-width="1.1"/>
<line x1="530.8" y1="253.88" x2="527.6" y2="253.88" stroke="#2a2a2a" stroke-width="1.1"/>
<line x1="530.8" y1="224.84" x2="527.6" y2="224.84" stroke="#2a2a2a" stroke-width="1.1"/>
<line x1="530.8" y1="195.8" x2="527.6" y2="195.8" stroke="#2a2a2a" stroke-width="1.1"/>
<line x1="530.8" y1="326.48" x2="529" y2="326.48" stroke="#2a2a2a" stroke-width="1.1"/>
<line x1="530.8" y1="297.44" x2="529" y2="297.44" stroke="#2a2a2a" stroke-width="1.1"/>
<line x1="530.8" y1="268.4" x2="529" y2="268.4" stroke="#2a2a2a" stroke-width="1.1"/>
<line x1="530.8" y1="239.36" x2="529" y2="239.36" stroke="#2a2a2a" stroke-width="1.1"/>
<line x1="530.8" y1="210.32" x2="529" y2="210.32" stroke="#2a2a2a" stroke-width="1.1"/>
<text x="530.8" y="356" font-size="12.3" text-anchor="middle">0</text>
<text x="564.5" y="356" font-size="12.3" text-anchor="middle">30</text>
<text x="598.2" y="356" font-size="12.3" text-anchor="middle">60</text>
<text x="631.9" y="356" font-size="12.3" text-anchor="middle">90</text>
<text x="665.6" y="356" font-size="12.3" text-anchor="middle">120</text>
<text x="699.29" y="356" font-size="12.3" text-anchor="middle">150</text>
<text x="526" y="345.2" font-size="12.3" text-anchor="end">0.0</text>
<text x="526" y="316.16" font-size="12.3" text-anchor="end">0.4</text>
<text x="526" y="287.12" font-size="12.3" text-anchor="end">0.8</text>
<text x="526" y="258.08" font-size="12.3" text-anchor="end">1.2</text>
<text x="526" y="229.04" font-size="12.3" text-anchor="end">1.6</text>
<text x="526" y="200" font-size="12.3" text-anchor="end">2.0</text>
<g transform="translate(504 264.7) rotate(-90) scale(1.07 1)"><text x="0" y="0" font-size="12" text-anchor="middle" fill="#111">Voltage (V)</text></g>
<g transform="translate(616.5 369) scale(1.05 1)"><text x="0" y="0" font-size="12" text-anchor="middle" fill="#111">Capacity (mAh g<tspan font-size="8" dy="-4.8">-1</tspan><tspan dy="4.8">)</tspan></text></g>
<path d="M530.8,218.09 C531.36,218.87 532.95,221.11 534.17,222.81 C535.39,224.5 536.7,226.33 538.1,228.25 C539.51,230.18 541.19,232.35 542.59,234.35 C544,236.35 545.12,238.34 546.53,240.23 C547.93,242.12 549.52,244.19 551.02,245.68 C552.52,247.16 554.01,248.22 555.51,249.16 C557.01,250.1 558.13,250.65 560.01,251.34 C561.88,252.03 564.12,252.49 566.75,253.3 C569.37,254.11 571.16,254.81 575.73,256.2 C580.3,257.59 588.54,259.65 594.15,261.65 C599.77,263.64 603.89,265.94 609.43,268.18 C614.97,270.42 621.79,272.9 627.4,275.08 C633.02,277.26 638.08,279.29 643.13,281.25 C648.18,283.21 653.99,285.51 657.73,286.84 C661.48,288.17 663.33,288.41 665.6,289.24 C667.86,290.06 669.75,290.81 671.33,291.78 C672.91,292.75 673.82,293.29 675.06,295.04 C676.31,296.8 677.55,299.52 678.79,302.3 C680.04,305.09 681.07,307.87 682.53,311.74 C683.98,315.61 686.67,323.24 687.5,325.54" fill="none" stroke="#1a1a1a" stroke-width="1.25"/>
<path d="M530.8,325.75 C531.25,324.42 532.6,320.43 533.5,317.77 C534.39,315.11 535.37,312.38 536.19,309.78 C537.02,307.18 537.69,304.52 538.44,302.16 C539.19,299.8 539.56,298.05 540.69,295.62 C541.81,293.2 543.42,290.12 545.18,287.64 C546.94,285.16 548.77,282.58 551.24,280.74 C553.72,278.9 556.86,277.81 560.01,276.6 C563.15,275.39 567.21,274.67 570.12,273.48 C573.02,272.3 574.61,270.94 577.42,269.49 C580.23,268.04 584.18,266.04 586.96,264.77 C589.75,263.5 591.16,262.77 594.15,261.87 C597.15,260.96 601.02,260.29 604.94,259.32 C608.85,258.36 614.26,257.33 617.63,256.06 C621,254.79 622.93,252.89 625.16,251.7 C627.39,250.52 628,249.79 631,248.94 C633.99,248.1 638.67,247.58 643.13,246.62 C647.59,245.66 653.61,244.3 657.73,243.21 C661.85,242.12 665.03,241.21 667.84,240.09 C670.65,238.96 672.71,238.15 674.58,236.46 C676.45,234.76 677.58,233.02 679.08,229.92 C680.57,226.82 682.82,219.88 683.57,217.87" fill="none" stroke="#1a1a1a" stroke-width="1.25"/>
<path d="M530.8,218.31 C531.36,219.09 532.95,221.33 534.17,223.03 C535.39,224.72 536.7,226.55 538.1,228.47 C539.51,230.39 541.19,232.57 542.59,234.57 C544,236.56 545.12,238.56 546.53,240.45 C547.93,242.34 549.52,244.41 551.02,245.89 C552.52,247.38 554.01,248.44 555.51,249.38 C557.01,250.32 558.13,250.87 560.01,251.56 C561.88,252.25 564.12,252.71 566.75,253.52 C569.37,254.33 571.16,255.03 575.73,256.42 C580.3,257.81 588.54,259.87 594.15,261.87 C599.77,263.86 603.89,266.16 609.43,268.4 C614.97,270.64 621.79,273.12 627.4,275.3 C633.02,277.48 638.08,279.51 643.13,281.47 C648.18,283.43 653.98,285.73 657.73,287.06 C661.48,288.39 663.15,288.63 665.62,289.45 C668.1,290.28 670.7,291.03 672.6,292 C674.51,292.96 675.8,293.51 677.06,295.26 C678.32,297.02 679.03,299.74 680.18,302.52 C681.32,305.31 682.38,308.09 683.92,311.96 C685.46,315.83 688.49,323.46 689.41,325.75" fill="none" stroke="#e8262c" stroke-width="1.25"/>
<path d="M530.8,325.75 C531.25,324.42 532.6,320.43 533.5,317.77 C534.39,315.11 535.37,312.32 536.19,309.78 C537.02,307.24 537.69,304.78 538.44,302.52 C539.19,300.26 539.56,298.5 540.69,296.21 C541.81,293.91 543.42,290.88 545.18,288.73 C546.94,286.57 548.77,284.61 551.24,283.28 C553.72,281.95 554.99,282.25 560.01,280.74 C565.02,279.23 572.87,276.8 581.35,274.21 C589.83,271.62 601.53,268.23 610.89,265.21 C620.25,262.18 629.14,259.16 637.51,256.06 C645.88,252.96 656.05,248.74 661.1,246.62 C666.16,244.5 665.58,244.77 667.84,243.35 C670.11,241.94 672.77,240 674.68,238.13 C676.58,236.25 677.93,234.31 679.27,232.1 C680.61,229.89 681.56,227.21 682.71,224.84 C683.86,222.47 685.58,219.03 686.15,217.87" fill="none" stroke="#e8262c" stroke-width="1.25"/>
<path d="M530.8,218.31 C531.36,219.09 532.95,221.33 534.17,223.03 C535.39,224.72 536.7,226.55 538.1,228.47 C539.51,230.39 541.19,232.57 542.59,234.57 C544,236.56 545.12,238.56 546.53,240.45 C547.93,242.34 549.52,244.41 551.02,245.89 C552.52,247.38 554.01,248.44 555.51,249.38 C557.01,250.32 558.13,250.87 560.01,251.56 C561.88,252.25 564.12,252.71 566.75,253.52 C569.37,254.33 571.16,255.03 575.73,256.42 C580.3,257.81 588.54,259.87 594.15,261.87 C599.77,263.86 603.89,266.16 609.43,268.4 C614.97,270.64 621.79,273.12 627.4,275.3 C633.02,277.48 638.08,279.51 643.13,281.47 C648.18,283.43 653.99,285.73 657.73,287.06 C661.48,288.39 663.29,288.63 665.6,289.45 C667.91,290.28 669.84,291.03 671.6,292 C673.35,292.96 674.61,293.51 676.12,295.26 C677.63,297.02 679.14,299.74 680.65,302.52 C682.16,305.31 683.41,308.09 685.17,311.96 C686.93,315.83 690.2,323.46 691.21,325.75" fill="none" stroke="#2f66d8" stroke-width="1.25"/>
<path d="M530.8,325.75 C531.25,324.42 532.6,320.43 533.5,317.77 C534.39,315.11 535.37,312.32 536.19,309.78 C537.02,307.24 537.69,304.78 538.44,302.52 C539.19,300.26 539.56,298.5 540.69,296.21 C541.81,293.91 543.42,290.88 545.18,288.73 C546.94,286.57 548.77,284.61 551.24,283.28 C553.72,281.95 554.99,282.25 560.01,280.74 C565.02,279.23 572.87,276.8 581.35,274.21 C589.83,271.62 601.53,268.23 610.89,265.21 C620.25,262.18 629.14,259.16 637.51,256.06 C645.88,252.96 656.05,248.74 661.1,246.62 C666.16,244.5 665.53,244.77 667.84,243.35 C670.15,241.94 672.97,240 674.97,238.13 C676.97,236.25 678.42,234.31 679.85,232.1 C681.27,229.89 682.29,227.21 683.5,224.84 C684.72,222.47 686.55,219.03 687.16,217.87" fill="none" stroke="#2f66d8" stroke-width="1.25"/>
<path d="M530.8,218.31 C531.36,219.09 532.95,221.33 534.17,223.03 C535.39,224.72 536.7,226.55 538.1,228.47 C539.51,230.39 541.19,232.57 542.59,234.57 C544,236.56 545.12,238.56 546.53,240.45 C547.93,242.34 549.52,244.41 551.02,245.89 C552.52,247.38 554.01,248.44 555.51,249.38 C557.01,250.32 558.13,250.87 560.01,251.56 C561.88,252.25 564.12,252.71 566.75,253.52 C569.37,254.33 571.16,255.03 575.73,256.42 C580.3,257.81 588.54,259.87 594.15,261.87 C599.77,263.86 603.89,266.16 609.43,268.4 C614.97,270.64 621.79,273.12 627.4,275.3 C633.02,277.48 638.08,279.51 643.13,281.47 C648.18,283.43 653.99,285.73 657.73,287.06 C661.48,288.39 663.32,288.63 665.6,289.45 C667.88,290.28 669.78,291.03 671.41,292 C673.04,292.96 674.06,293.51 675.38,295.26 C676.71,297.02 678.03,299.74 679.36,302.52 C680.68,305.31 681.78,308.09 683.33,311.96 C684.87,315.83 687.74,323.46 688.62,325.75" fill="none" stroke="#2aa35a" stroke-width="1.25"/>
<path d="M530.8,325.75 C531.25,324.42 532.6,320.43 533.5,317.77 C534.39,315.11 535.37,312.32 536.19,309.78 C537.02,307.24 537.69,304.78 538.44,302.52 C539.19,300.26 539.56,298.5 540.69,296.21 C541.81,293.91 543.42,290.88 545.18,288.73 C546.94,286.57 548.77,284.61 551.24,283.28 C553.72,281.95 554.99,282.25 560.01,280.74 C565.02,279.23 572.87,276.8 581.35,274.21 C589.83,271.62 601.53,268.23 610.89,265.21 C620.25,262.18 629.14,259.16 637.51,256.06 C645.88,252.96 656.05,248.74 661.1,246.62 C666.16,244.5 665.64,244.77 667.84,243.35 C670.05,241.94 672.54,240 674.33,238.13 C676.11,236.25 677.33,234.31 678.56,232.1 C679.8,229.89 680.68,227.21 681.74,224.84 C682.8,222.47 684.39,219.03 684.92,217.87" fill="none" stroke="#2aa35a" stroke-width="1.25"/>
<path d="M530.8,218.31 C531.36,219.09 532.95,221.33 534.17,223.03 C535.39,224.72 536.7,226.55 538.1,228.47 C539.51,230.39 541.19,232.57 542.59,234.57 C544,236.56 545.12,238.56 546.53,240.45 C547.93,242.34 549.52,244.41 551.02,245.89 C552.52,247.38 554.01,248.44 555.51,249.38 C557.01,250.32 558.13,250.87 560.01,251.56 C561.88,252.25 564.12,252.71 566.75,253.52 C569.37,254.33 571.16,255.03 575.73,256.42 C580.3,257.81 588.54,259.87 594.15,261.87 C599.77,263.86 603.89,266.16 609.43,268.4 C614.97,270.64 621.79,273.12 627.4,275.3 C633.02,277.48 638.08,279.51 643.13,281.47 C648.18,283.43 653.99,285.73 657.73,287.06 C661.48,288.39 663.28,288.63 665.6,289.45 C667.91,290.28 669.85,291.03 671.61,292 C673.38,292.96 674.66,293.51 676.19,295.26 C677.71,297.02 679.24,299.74 680.76,302.52 C682.29,305.31 683.56,308.09 685.33,311.96 C687.11,315.83 690.42,323.46 691.43,325.75" fill="none" stroke="#b07ce0" stroke-width="1.25"/>
<path d="M530.8,325.75 C531.25,324.42 532.6,320.43 533.5,317.77 C534.39,315.11 535.37,312.32 536.19,309.78 C537.02,307.24 537.69,304.78 538.44,302.52 C539.19,300.26 539.56,298.5 540.69,296.21 C541.81,293.91 543.42,290.88 545.18,288.73 C546.94,286.57 548.77,284.61 551.24,283.28 C553.72,281.95 554.99,282.25 560.01,280.74 C565.02,279.23 572.87,276.8 581.35,274.21 C589.83,271.62 601.53,268.23 610.89,265.21 C620.25,262.18 629.14,259.16 637.51,256.06 C645.88,252.96 656.05,248.74 661.1,246.62 C666.16,244.5 665.54,244.77 667.84,243.35 C670.14,241.94 672.92,240 674.9,238.13 C676.88,236.25 678.31,234.31 679.72,232.1 C681.12,229.89 682.12,227.21 683.33,224.84 C684.53,222.47 686.34,219.03 686.94,217.87" fill="none" stroke="#b07ce0" stroke-width="1.25"/>
<rect x="530.8" y="195.8" width="179.6" height="145.1" fill="none" stroke="#2a2a2a" stroke-width="1.3"/>
<line x1="555.7" y1="205.1" x2="574.2" y2="205.1" stroke="#1a1a1a" stroke-width="1.5"/>
<text x="577.4" y="208.3" font-size="9.1">1st</text>
<line x1="555.7" y1="216.2" x2="574.2" y2="216.2" stroke="#2f66d8" stroke-width="1.5"/>
<text x="577.4" y="219.4" font-size="9.1" fill="#2f66d8">100th</text>
<line x1="555.7" y1="226.9" x2="574.2" y2="226.9" stroke="#b07ce0" stroke-width="1.5"/>
<text x="577.4" y="230.1" font-size="9.1" fill="#b07ce0">1000th</text>
<line x1="617" y1="205.1" x2="635.5" y2="205.1" stroke="#e8262c" stroke-width="1.5"/>
<text x="639.3" y="208.3" font-size="9.1" fill="#e8262c">50th</text>
<line x1="617" y1="216.2" x2="635.5" y2="216.2" stroke="#2aa35a" stroke-width="1.5"/>
<text x="639.3" y="219.4" font-size="9.1" fill="#2aa35a">500th</text>
<text x="661.8" y="263" font-size="9.1">1 A g<tspan font-size="5.8" dy="-3.6">-1</tspan></text>
<text x="10" y="386.5" font-size="25">f</text>
<line x1="52.2" y1="531.3" x2="52.2" y2="534.5" stroke="#2a2a2a" stroke-width="1.1"/>
<line x1="174.36" y1="531.3" x2="174.36" y2="534.5" stroke="#2a2a2a" stroke-width="1.1"/>
<line x1="296.52" y1="531.3" x2="296.52" y2="534.5" stroke="#2a2a2a" stroke-width="1.1"/>
<line x1="418.68" y1="531.3" x2="418.68" y2="534.5" stroke="#2a2a2a" stroke-width="1.1"/>
<line x1="540.84" y1="531.3" x2="540.84" y2="534.5" stroke="#2a2a2a" stroke-width="1.1"/>
<line x1="663" y1="531.3" x2="663" y2="534.5" stroke="#2a2a2a" stroke-width="1.1"/>
<line x1="113.28" y1="531.3" x2="113.28" y2="533.1" stroke="#2a2a2a" stroke-width="1.1"/>
<line x1="235.44" y1="531.3" x2="235.44" y2="533.1" stroke="#2a2a2a" stroke-width="1.1"/>
<line x1="357.6" y1="531.3" x2="357.6" y2="533.1" stroke="#2a2a2a" stroke-width="1.1"/>
<line x1="479.76" y1="531.3" x2="479.76" y2="533.1" stroke="#2a2a2a" stroke-width="1.1"/>
<line x1="601.92" y1="531.3" x2="601.92" y2="533.1" stroke="#2a2a2a" stroke-width="1.1"/>
<line x1="52.2" y1="531.3" x2="49" y2="531.3" stroke="#2a2a2a" stroke-width="1.1"/>
<line x1="52.2" y1="494.77" x2="49" y2="494.77" stroke="#2a2a2a" stroke-width="1.1"/>
<line x1="52.2" y1="458.25" x2="49" y2="458.25" stroke="#2a2a2a" stroke-width="1.1"/>
<line x1="52.2" y1="421.72" x2="49" y2="421.72" stroke="#2a2a2a" stroke-width="1.1"/>
<line x1="52.2" y1="385.2" x2="49" y2="385.2" stroke="#2a2a2a" stroke-width="1.1"/>
<line x1="52.2" y1="513.04" x2="50.4" y2="513.04" stroke="#2a2a2a" stroke-width="1.1"/>
<line x1="52.2" y1="476.51" x2="50.4" y2="476.51" stroke="#2a2a2a" stroke-width="1.1"/>
<line x1="52.2" y1="439.99" x2="50.4" y2="439.99" stroke="#2a2a2a" stroke-width="1.1"/>
<line x1="52.2" y1="403.46" x2="50.4" y2="403.46" stroke="#2a2a2a" stroke-width="1.1"/>
<text x="52.2" y="546.5" font-size="12.3" text-anchor="middle">0</text>
<text x="174.36" y="546.5" font-size="12.3" text-anchor="middle">400</text>
<text x="296.52" y="546.5" font-size="12.3" text-anchor="middle">800</text>
<text x="418.68" y="546.5" font-size="12.3" text-anchor="middle">1200</text>
<text x="540.84" y="546.5" font-size="12.3" text-anchor="middle">1600</text>
<text x="663" y="546.5" font-size="12.3" text-anchor="middle">2000</text>
<text x="46.6" y="535.5" font-size="12.3" text-anchor="end">0</text>
<text x="46.6" y="498.97" font-size="12.3" text-anchor="end">50</text>
<text x="46.6" y="462.45" font-size="12.3" text-anchor="end">100</text>
<text x="46.6" y="425.92" font-size="12.3" text-anchor="end">150</text>
<text x="46.6" y="389.4" font-size="12.3" text-anchor="end">200</text>
<g transform="translate(22.1 458.5) rotate(-90) scale(1.03 1)"><text x="0" y="0" font-size="12" text-anchor="middle" fill="#111">Capacity (mAh g<tspan font-size="8" dy="-4.8">-1</tspan><tspan dy="4.8">)</tspan></text></g>
<g transform="translate(366 556.8) scale(1.03 1)"><text x="0" y="0" font-size="12" text-anchor="middle" fill="#111">Cycle Number</text></g>
<line x1="663" y1="531" x2="666.2" y2="531" stroke="#ec4e58" stroke-width="1.1"/>
<text x="668.5" y="535.2" font-size="12.3" fill="#d8262e">0</text>
<line x1="663" y1="505.6" x2="666.2" y2="505.6" stroke="#ec4e58" stroke-width="1.1"/>
<text x="668.5" y="509.8" font-size="12.3" fill="#d8262e">20</text>
<line x1="663" y1="480.2" x2="666.2" y2="480.2" stroke="#ec4e58" stroke-width="1.1"/>
<text x="668.5" y="484.4" font-size="12.3" fill="#d8262e">40</text>
<line x1="663" y1="454.8" x2="666.2" y2="454.8" stroke="#ec4e58" stroke-width="1.1"/>
<text x="668.5" y="459" font-size="12.3" fill="#d8262e">60</text>
<line x1="663" y1="429.4" x2="666.2" y2="429.4" stroke="#ec4e58" stroke-width="1.1"/>
<text x="668.5" y="433.6" font-size="12.3" fill="#d8262e">80</text>
<line x1="663" y1="404" x2="666.2" y2="404" stroke="#ec4e58" stroke-width="1.1"/>
<text x="668.5" y="408.2" font-size="12.3" fill="#d8262e">100</text>
<g transform="translate(701.8 461.3) rotate(-90) scale(1.02 1)"><text x="0" y="0" font-size="12" text-anchor="middle" fill="#d8262e">Coulombic efficiency (%)</text></g>
<path d="M52.2,452.7 C64.93,452.73 115.52,453 128.55,452.9 C141.58,452.8 129.77,452.32 130.38,452.1 C130.99,451.88 127.68,451.85 132.21,451.6 C136.74,451.35 150.95,450.6 157.56,450.6 C164.18,450.6 161.48,451.12 171.92,451.6 C182.35,452.08 202,452.88 220.17,453.5 C238.34,454.12 264.15,454.78 280.94,455.3 C297.74,455.82 310.67,456.57 320.95,456.6 C331.23,456.63 328.79,455.5 342.64,455.5 C356.48,455.5 387.78,456.33 404.02,456.6 C420.26,456.87 423.72,457.13 440.06,457.1 C456.4,457.07 481.34,456.3 502.05,456.4 C522.77,456.5 543.59,457.33 564.36,457.7 C585.12,458.07 610.22,458.28 626.66,458.6 C643.1,458.92 656.94,459.43 663,459.6" fill="none" stroke="#a0a0a0" stroke-width="5.4" stroke-linejoin="round"/>
<path d="M52.2,452.1 C64.93,452.13 115.52,452.4 128.55,452.3 C141.58,452.2 129.77,451.72 130.38,451.5 C130.99,451.28 127.68,451.25 132.21,451 C136.74,450.75 150.95,450 157.56,450 C164.18,450 161.48,450.52 171.92,451 C182.35,451.48 202,452.28 220.17,452.9 C238.34,453.52 264.15,454.18 280.94,454.7 C297.74,455.22 310.67,455.97 320.95,456 C331.23,456.03 328.79,454.9 342.64,454.9 C356.48,454.9 387.78,455.73 404.02,456 C420.26,456.27 423.72,456.53 440.06,456.5 C456.4,456.47 481.34,455.7 502.05,455.8 C522.77,455.9 543.59,456.73 564.36,457.1 C585.12,457.47 610.22,457.68 626.66,458 C643.1,458.32 656.94,458.83 663,459" fill="none" stroke="#64b9e8" stroke-width="6.0" stroke-linejoin="round"/>
<path d="M52.2,451.3 C64.93,451.33 115.52,451.6 128.55,451.5 C141.58,451.4 129.77,450.92 130.38,450.7 C130.99,450.48 127.68,450.45 132.21,450.2 C136.74,449.95 150.95,449.2 157.56,449.2 C164.18,449.2 161.48,449.72 171.92,450.2 C182.35,450.68 202,451.48 220.17,452.1 C238.34,452.72 264.15,453.38 280.94,453.9 C297.74,454.42 310.67,455.17 320.95,455.2 C331.23,455.23 328.79,454.1 342.64,454.1 C356.48,454.1 387.78,454.93 404.02,455.2 C420.26,455.47 423.72,455.73 440.06,455.7 C456.4,455.67 481.34,454.9 502.05,455 C522.77,455.1 543.59,455.93 564.36,456.3 C585.12,456.67 610.22,456.88 626.66,457.2 C643.1,457.52 656.94,458.03 663,458.2" fill="none" stroke="#a6d6f2" stroke-width="1.4" stroke-dasharray="1.6,1.4" opacity="0.6"/>
<path d="M52.2,403.4 C64.72,403.42 114.6,403.63 127.33,403.5 C140.05,403.37 128.14,402.87 128.55,402.6 C128.96,402.33 127.23,402.08 129.77,401.9 C132.32,401.72 138.17,401.67 143.82,401.5 C149.47,401.33 156.04,400.85 163.67,400.9 C171.31,400.95 174.92,401.45 189.63,401.8 C204.34,402.15 223.94,402.77 251.93,403 C279.93,403.23 289.09,403.13 357.6,403.2 C426.11,403.27 612.1,403.37 663,403.4" fill="none" stroke="#e85472" stroke-width="6.4" stroke-linejoin="round"/>
<path d="M52.2,402.3 C64.72,402.32 114.6,402.53 127.33,402.4 C140.05,402.27 128.14,401.77 128.55,401.5 C128.96,401.23 127.23,400.98 129.77,400.8 C132.32,400.62 138.17,400.57 143.82,400.4 C149.47,400.23 156.04,399.75 163.67,399.8 C171.31,399.85 174.92,400.35 189.63,400.7 C204.34,401.05 223.94,401.67 251.93,401.9 C279.93,402.13 289.09,402.03 357.6,402.1 C426.11,402.17 612.1,402.27 663,402.3" fill="none" stroke="#f2a2b4" stroke-width="2.4" stroke-dasharray="2.2,0.8" opacity="0.55"/>
<path d="M113.8,453 V466.2 H61" fill="none" stroke="#5ab4e6" stroke-width="1"/>
<path d="M56.3,466.2 L62.5,464 L62.5,468.4 Z" fill="#5ab4e6"/>
<path d="M601.3,405 V413.8 H654" fill="none" stroke="#d8262e" stroke-width="1"/>
<path d="M659.9,413.8 L653.5,411.6 L653.5,416 Z" fill="#d8262e"/>
<path d="M663,531.3 H52.2 V385.5 H663" fill="none" stroke="#2a2a2a" stroke-width="1.3" stroke-linejoin="miter"/>
<line x1="663" y1="384.85" x2="663" y2="531.95" stroke="#ec4e58" stroke-width="1.5"/>
<text x="62.0" y="439.6" font-size="9.6" fill="#4aa6e0" stroke="#4aa6e0" stroke-width="0.2">110 mAh g<tspan font-size="6" dy="-3.8">-1</tspan></text>
<text x="572.7" y="475.8" font-size="9.4" fill="#4aa8e2">98 mAh g<tspan font-size="6" dy="-3.8">-1</tspan></text>
<text x="588.8" y="516.5" font-size="9.8">5 A g<tspan font-size="6" dy="-3.8">-1</tspan></text>
<circle cx="290.5" cy="421.2" r="2.6" fill="#a9a9a9"/><circle cx="289.8" cy="420.5" r="1.04" fill="#fff" opacity="0.6"/>
<text x="303" y="425" font-size="9.6">Charge</text>
<circle cx="358.2" cy="421.2" r="2.6" fill="#4fb3ea"/><circle cx="357.5" cy="420.5" r="1.04" fill="#fff" opacity="0.6"/>
<text x="370.9" y="425" font-size="9.6">Discharge</text>
</svg></body></html>
